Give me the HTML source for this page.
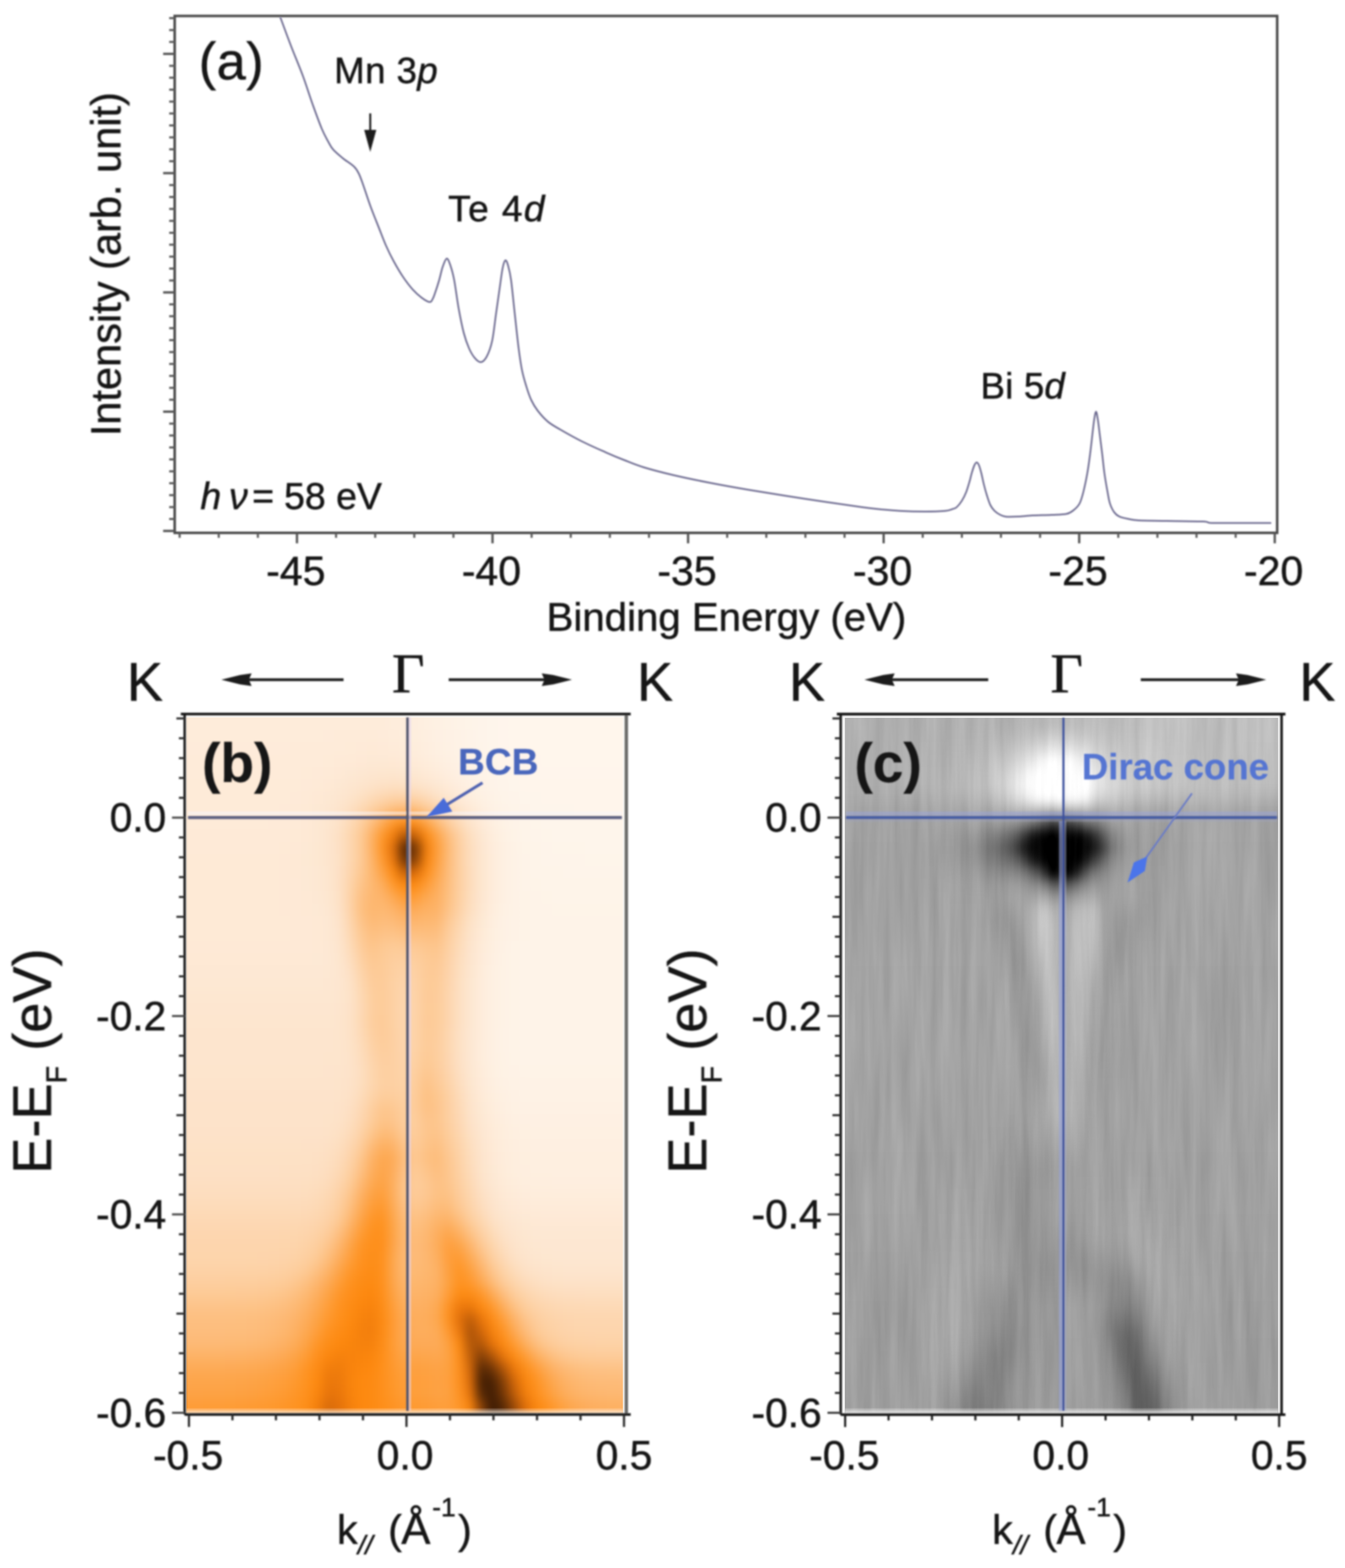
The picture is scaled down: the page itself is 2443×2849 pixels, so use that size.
<!DOCTYPE html>
<html lang="en"><head><meta charset="utf-8"><title>Figure</title>
<style>html,body{margin:0;padding:0;background:#fff;}body{width:2443px;height:2849px;overflow:hidden;}svg{display:block;}</style>
</head><body>
<svg width="2443" height="2849" viewBox="0 0 2443 2849">
<defs>
<filter id="soft" x="-5%" y="-5%" width="110%" height="110%"><feGaussianBlur stdDeviation="1.35"/></filter>
<filter id="softer" x="-5%" y="-5%" width="110%" height="110%"><feGaussianBlur stdDeviation="1.5"/></filter>
<filter id="b8" x="-50%" y="-50%" width="200%" height="200%"><feGaussianBlur stdDeviation="8"/></filter>
<filter id="b14" x="-50%" y="-50%" width="200%" height="200%"><feGaussianBlur stdDeviation="14"/></filter>
<filter id="b22" x="-50%" y="-50%" width="200%" height="200%"><feGaussianBlur stdDeviation="22"/></filter>
<filter id="b35" x="-50%" y="-50%" width="200%" height="200%"><feGaussianBlur stdDeviation="35"/></filter>
<filter id="b50" x="-50%" y="-50%" width="200%" height="200%"><feGaussianBlur stdDeviation="50"/></filter>
</defs>
<rect x="0" y="0" width="2443" height="2849" fill="#ffffff"/>
<g id="panel-a">
<g filter="url(#softer)">
<rect x="317.3" y="29.0" width="2002.5000000000002" height="939.2" fill="none" stroke="#4a4a4a" stroke-width="4.6"/>
<line x1="326.3" y1="968.2" x2="326.3" y2="977.2" stroke="#5a5a5a" stroke-width="3.8" />
<line x1="397.3" y1="968.2" x2="397.3" y2="977.2" stroke="#5a5a5a" stroke-width="3.8" />
<line x1="468.4" y1="968.2" x2="468.4" y2="977.2" stroke="#5a5a5a" stroke-width="3.8" />
<line x1="539.4" y1="968.2" x2="539.4" y2="987.2" stroke="#555555" stroke-width="4.2" />
<line x1="610.4" y1="968.2" x2="610.4" y2="977.2" stroke="#5a5a5a" stroke-width="3.8" />
<line x1="681.5" y1="968.2" x2="681.5" y2="977.2" stroke="#5a5a5a" stroke-width="3.8" />
<line x1="752.5" y1="968.2" x2="752.5" y2="977.2" stroke="#5a5a5a" stroke-width="3.8" />
<line x1="823.6" y1="968.2" x2="823.6" y2="977.2" stroke="#5a5a5a" stroke-width="3.8" />
<line x1="894.6" y1="968.2" x2="894.6" y2="987.2" stroke="#555555" stroke-width="4.2" />
<line x1="965.6" y1="968.2" x2="965.6" y2="977.2" stroke="#5a5a5a" stroke-width="3.8" />
<line x1="1036.7" y1="968.2" x2="1036.7" y2="977.2" stroke="#5a5a5a" stroke-width="3.8" />
<line x1="1107.7" y1="968.2" x2="1107.7" y2="977.2" stroke="#5a5a5a" stroke-width="3.8" />
<line x1="1178.8" y1="968.2" x2="1178.8" y2="977.2" stroke="#5a5a5a" stroke-width="3.8" />
<line x1="1249.8" y1="968.2" x2="1249.8" y2="987.2" stroke="#555555" stroke-width="4.2" />
<line x1="1320.8" y1="968.2" x2="1320.8" y2="977.2" stroke="#5a5a5a" stroke-width="3.8" />
<line x1="1391.9" y1="968.2" x2="1391.9" y2="977.2" stroke="#5a5a5a" stroke-width="3.8" />
<line x1="1462.9" y1="968.2" x2="1462.9" y2="977.2" stroke="#5a5a5a" stroke-width="3.8" />
<line x1="1534.0" y1="968.2" x2="1534.0" y2="977.2" stroke="#5a5a5a" stroke-width="3.8" />
<line x1="1605.0" y1="968.2" x2="1605.0" y2="987.2" stroke="#555555" stroke-width="4.2" />
<line x1="1676.0" y1="968.2" x2="1676.0" y2="977.2" stroke="#5a5a5a" stroke-width="3.8" />
<line x1="1747.1" y1="968.2" x2="1747.1" y2="977.2" stroke="#5a5a5a" stroke-width="3.8" />
<line x1="1818.1" y1="968.2" x2="1818.1" y2="977.2" stroke="#5a5a5a" stroke-width="3.8" />
<line x1="1889.2" y1="968.2" x2="1889.2" y2="977.2" stroke="#5a5a5a" stroke-width="3.8" />
<line x1="1960.2" y1="968.2" x2="1960.2" y2="987.2" stroke="#555555" stroke-width="4.2" />
<line x1="2031.2" y1="968.2" x2="2031.2" y2="977.2" stroke="#5a5a5a" stroke-width="3.8" />
<line x1="2102.3" y1="968.2" x2="2102.3" y2="977.2" stroke="#5a5a5a" stroke-width="3.8" />
<line x1="2173.3" y1="968.2" x2="2173.3" y2="977.2" stroke="#5a5a5a" stroke-width="3.8" />
<line x1="2244.4" y1="968.2" x2="2244.4" y2="977.2" stroke="#5a5a5a" stroke-width="3.8" />
<line x1="2315.4" y1="968.2" x2="2315.4" y2="987.2" stroke="#555555" stroke-width="4.2" />
<line x1="296.3" y1="964.7" x2="317.3" y2="964.7" stroke="#555555" stroke-width="4.2" />
<line x1="307.3" y1="943.0" x2="317.3" y2="943.0" stroke="#5a5a5a" stroke-width="3.8" />
<line x1="307.3" y1="921.4" x2="317.3" y2="921.4" stroke="#5a5a5a" stroke-width="3.8" />
<line x1="307.3" y1="899.7" x2="317.3" y2="899.7" stroke="#5a5a5a" stroke-width="3.8" />
<line x1="307.3" y1="878.0" x2="317.3" y2="878.0" stroke="#5a5a5a" stroke-width="3.8" />
<line x1="307.3" y1="856.4" x2="317.3" y2="856.4" stroke="#5a5a5a" stroke-width="3.8" />
<line x1="307.3" y1="834.7" x2="317.3" y2="834.7" stroke="#5a5a5a" stroke-width="3.8" />
<line x1="307.3" y1="813.0" x2="317.3" y2="813.0" stroke="#5a5a5a" stroke-width="3.8" />
<line x1="307.3" y1="791.3" x2="317.3" y2="791.3" stroke="#5a5a5a" stroke-width="3.8" />
<line x1="307.3" y1="769.7" x2="317.3" y2="769.7" stroke="#5a5a5a" stroke-width="3.8" />
<line x1="296.3" y1="748.0" x2="317.3" y2="748.0" stroke="#555555" stroke-width="4.2" />
<line x1="307.3" y1="726.3" x2="317.3" y2="726.3" stroke="#5a5a5a" stroke-width="3.8" />
<line x1="307.3" y1="704.7" x2="317.3" y2="704.7" stroke="#5a5a5a" stroke-width="3.8" />
<line x1="307.3" y1="683.0" x2="317.3" y2="683.0" stroke="#5a5a5a" stroke-width="3.8" />
<line x1="307.3" y1="661.3" x2="317.3" y2="661.3" stroke="#5a5a5a" stroke-width="3.8" />
<line x1="307.3" y1="639.7" x2="317.3" y2="639.7" stroke="#5a5a5a" stroke-width="3.8" />
<line x1="307.3" y1="618.0" x2="317.3" y2="618.0" stroke="#5a5a5a" stroke-width="3.8" />
<line x1="307.3" y1="596.3" x2="317.3" y2="596.3" stroke="#5a5a5a" stroke-width="3.8" />
<line x1="307.3" y1="574.6" x2="317.3" y2="574.6" stroke="#5a5a5a" stroke-width="3.8" />
<line x1="307.3" y1="553.0" x2="317.3" y2="553.0" stroke="#5a5a5a" stroke-width="3.8" />
<line x1="296.3" y1="531.3" x2="317.3" y2="531.3" stroke="#555555" stroke-width="4.2" />
<line x1="307.3" y1="509.6" x2="317.3" y2="509.6" stroke="#5a5a5a" stroke-width="3.8" />
<line x1="307.3" y1="488.0" x2="317.3" y2="488.0" stroke="#5a5a5a" stroke-width="3.8" />
<line x1="307.3" y1="466.3" x2="317.3" y2="466.3" stroke="#5a5a5a" stroke-width="3.8" />
<line x1="307.3" y1="444.6" x2="317.3" y2="444.6" stroke="#5a5a5a" stroke-width="3.8" />
<line x1="307.3" y1="423.0" x2="317.3" y2="423.0" stroke="#5a5a5a" stroke-width="3.8" />
<line x1="307.3" y1="401.3" x2="317.3" y2="401.3" stroke="#5a5a5a" stroke-width="3.8" />
<line x1="307.3" y1="379.6" x2="317.3" y2="379.6" stroke="#5a5a5a" stroke-width="3.8" />
<line x1="307.3" y1="357.9" x2="317.3" y2="357.9" stroke="#5a5a5a" stroke-width="3.8" />
<line x1="307.3" y1="336.3" x2="317.3" y2="336.3" stroke="#5a5a5a" stroke-width="3.8" />
<line x1="296.3" y1="314.6" x2="317.3" y2="314.6" stroke="#555555" stroke-width="4.2" />
<line x1="307.3" y1="292.9" x2="317.3" y2="292.9" stroke="#5a5a5a" stroke-width="3.8" />
<line x1="307.3" y1="271.3" x2="317.3" y2="271.3" stroke="#5a5a5a" stroke-width="3.8" />
<line x1="307.3" y1="249.6" x2="317.3" y2="249.6" stroke="#5a5a5a" stroke-width="3.8" />
<line x1="307.3" y1="227.9" x2="317.3" y2="227.9" stroke="#5a5a5a" stroke-width="3.8" />
<line x1="307.3" y1="206.2" x2="317.3" y2="206.2" stroke="#5a5a5a" stroke-width="3.8" />
<line x1="307.3" y1="184.6" x2="317.3" y2="184.6" stroke="#5a5a5a" stroke-width="3.8" />
<line x1="307.3" y1="162.9" x2="317.3" y2="162.9" stroke="#5a5a5a" stroke-width="3.8" />
<line x1="307.3" y1="141.2" x2="317.3" y2="141.2" stroke="#5a5a5a" stroke-width="3.8" />
<line x1="307.3" y1="119.6" x2="317.3" y2="119.6" stroke="#5a5a5a" stroke-width="3.8" />
<line x1="296.3" y1="97.9" x2="317.3" y2="97.9" stroke="#555555" stroke-width="4.2" />
<line x1="307.3" y1="76.2" x2="317.3" y2="76.2" stroke="#5a5a5a" stroke-width="3.8" />
<line x1="307.3" y1="54.6" x2="317.3" y2="54.6" stroke="#5a5a5a" stroke-width="3.8" />
<line x1="307.3" y1="32.9" x2="317.3" y2="32.9" stroke="#5a5a5a" stroke-width="3.8" />
</g>
<path d="M509.0,31.0 C512.2,39.5 521.2,64.2 528.0,82.0 C534.8,99.8 543.3,119.5 550.0,137.5 C556.7,155.5 562.2,173.9 568.0,190.0 C573.8,206.1 579.8,222.8 584.5,234.0 C589.2,245.2 592.6,250.7 596.0,257.0 C599.4,263.3 600.7,266.6 605.0,271.6 C609.3,276.6 615.7,281.8 622.0,287.0 C628.3,292.2 638.0,297.8 643.0,302.6 C648.0,307.4 649.2,310.3 652.0,316.0 C654.8,321.7 656.5,327.2 660.0,337.0 C663.5,346.8 668.4,362.4 673.0,375.0 C677.6,387.6 683.0,400.8 687.7,412.6 C692.4,424.4 696.5,435.7 701.0,446.0 C705.5,456.3 709.8,465.0 715.0,474.5 C720.2,484.0 726.2,494.4 732.0,503.0 C737.8,511.6 743.9,519.7 749.6,526.0 C755.3,532.3 760.9,537.2 766.0,541.0 C771.1,544.8 777.2,548.5 780.5,548.8 C783.8,549.1 784.2,546.1 786.0,543.0 C787.8,539.9 789.0,535.7 791.0,530.0 C793.0,524.3 795.5,516.5 797.7,509.0 C799.9,501.5 801.7,491.6 804.0,485.0 C806.3,478.4 809.1,470.2 811.4,469.7 C813.7,469.2 815.7,475.4 818.0,482.0 C820.3,488.6 822.5,496.0 825.0,509.0 C827.5,522.0 830.1,544.0 833.0,560.0 C835.9,576.0 839.2,592.8 842.4,605.0 C845.6,617.2 848.7,625.5 852.0,633.0 C855.3,640.5 858.5,645.8 862.0,650.0 C865.5,654.2 869.6,658.3 873.3,658.0 C877.0,657.7 880.5,654.5 884.0,648.0 C887.5,641.5 891.2,632.0 894.0,619.0 C896.8,606.0 898.7,586.1 901.0,570.0 C903.3,553.9 905.7,536.4 907.7,522.6 C909.7,508.8 911.3,495.3 913.0,487.0 C914.7,478.7 916.3,473.7 918.0,473.0 C919.7,472.3 921.3,477.0 923.0,483.0 C924.7,489.0 926.3,494.5 928.3,509.0 C930.3,523.5 932.7,549.4 935.0,570.0 C937.3,590.6 939.8,615.6 942.0,632.6 C944.2,649.6 945.7,660.5 948.0,672.0 C950.3,683.5 953.0,692.2 955.8,701.4 C958.6,710.6 961.5,719.6 965.0,727.0 C968.5,734.4 971.5,739.5 976.5,746.0 C981.5,752.5 988.1,760.2 995.0,766.0 C1001.9,771.8 1007.4,774.5 1017.7,780.5 C1028.0,786.5 1043.3,795.1 1057.0,802.0 C1070.7,808.9 1087.2,816.1 1100.0,821.8 C1112.8,827.5 1122.5,831.5 1134.0,836.0 C1145.5,840.5 1154.3,844.5 1169.0,849.0 C1183.7,853.5 1201.7,858.2 1222.0,863.0 C1242.3,867.8 1267.8,873.0 1290.8,877.5 C1313.8,882.0 1337.1,886.1 1360.0,890.0 C1382.9,893.9 1404.7,897.3 1428.0,901.0 C1451.3,904.7 1477.0,908.6 1500.0,912.0 C1523.0,915.4 1549.1,919.2 1565.8,921.5 C1582.5,923.8 1588.5,924.4 1600.0,925.5 C1611.5,926.6 1621.3,927.6 1634.6,928.3 C1647.9,929.0 1666.3,929.5 1680.0,929.5 C1693.7,929.5 1708.7,929.0 1717.0,928.3 C1725.3,927.5 1726.5,926.1 1730.0,925.0 C1733.5,923.9 1734.9,924.0 1737.7,921.5 C1740.5,919.0 1744.1,914.6 1747.0,910.0 C1749.9,905.4 1752.7,899.8 1755.0,894.0 C1757.3,888.2 1759.3,880.7 1761.0,875.0 C1762.7,869.3 1763.5,864.6 1765.0,859.6 C1766.5,854.6 1768.5,848.2 1770.0,845.0 C1771.5,841.8 1772.7,840.3 1774.0,840.3 C1775.3,840.3 1776.6,841.8 1778.0,845.0 C1779.4,848.2 1780.9,853.8 1782.4,859.6 C1783.9,865.4 1785.3,873.1 1787.0,880.0 C1788.7,886.9 1790.8,894.5 1792.8,900.8 C1794.8,907.1 1796.7,913.4 1799.0,918.0 C1801.3,922.6 1803.7,925.5 1806.5,928.3 C1809.3,931.1 1812.6,933.3 1816.0,935.0 C1819.4,936.7 1821.3,938.1 1827.0,938.7 C1832.7,939.3 1842.0,938.9 1850.0,938.5 C1858.0,938.1 1865.3,937.1 1875.3,936.6 C1885.3,936.1 1899.7,936.0 1910.0,935.5 C1920.3,935.0 1930.3,935.2 1937.0,933.8 C1943.7,932.4 1946.0,930.2 1950.0,927.0 C1954.0,923.8 1958.0,920.3 1961.0,914.6 C1964.0,908.9 1965.7,902.2 1968.0,893.0 C1970.3,883.8 1973.0,870.9 1975.0,859.6 C1977.0,848.3 1978.5,836.5 1980.0,825.0 C1981.5,813.5 1982.8,801.3 1984.0,790.8 C1985.2,780.3 1986.4,769.1 1987.5,762.0 C1988.6,754.9 1989.7,748.0 1990.8,748.0 C1991.9,748.0 1992.8,754.9 1994.0,762.0 C1995.2,769.1 1996.4,780.3 1997.7,790.8 C1999.0,801.3 2000.6,813.5 2002.0,825.0 C2003.4,836.5 2004.5,848.8 2006.0,859.6 C2007.5,870.4 2009.3,880.8 2011.0,890.0 C2012.7,899.2 2013.8,907.8 2016.0,914.6 C2018.2,921.4 2021.1,927.0 2024.0,931.0 C2026.9,935.0 2029.1,936.7 2033.4,938.7 C2037.7,940.7 2044.3,941.9 2050.0,943.0 C2055.7,944.1 2056.1,944.9 2067.8,945.5 C2079.5,946.1 2100.5,946.1 2120.0,946.5 C2139.5,946.9 2172.2,947.1 2184.7,947.6 C2197.2,948.1 2191.6,949.0 2195.0,949.5 C2198.4,950.0 2194.2,950.2 2205.0,950.3 C2215.8,950.4 2242.7,950.3 2260.0,950.3 C2277.3,950.3 2300.8,950.3 2309.0,950.3" fill="none" stroke="#6a688e" stroke-width="3.0" stroke-linejoin="round" filter="url(#soft)"/>
<g filter="url(#soft)" stroke-width="0.9" stroke-linejoin="round">
<text x="361.0" y="143.5" font-family='"Liberation Sans", Arial, Helvetica, sans-serif' font-size="95" font-weight="normal" text-anchor="start" fill="#161616" stroke="#161616" textLength="118" lengthAdjust="spacing" >(a)</text>
<text x="607.0" y="150.5" font-family='"Liberation Sans", Arial, Helvetica, sans-serif' font-size="66.5" font-weight="normal" text-anchor="start" fill="#161616" stroke="#161616" textLength="188" lengthAdjust="spacing" >Mn 3<tspan font-style="italic">p</tspan></text>
<text x="814.0" y="401.5" font-family='"Liberation Sans", Arial, Helvetica, sans-serif' font-size="67.5" font-weight="normal" text-anchor="start" fill="#161616" stroke="#161616" textLength="175" lengthAdjust="spacing" >Te 4<tspan font-style="italic">d</tspan></text>
<text x="1781.0" y="723.5" font-family='"Liberation Sans", Arial, Helvetica, sans-serif' font-size="66.5" font-weight="normal" text-anchor="start" fill="#161616" stroke="#161616" textLength="153" lengthAdjust="spacing" >Bi 5<tspan font-style="italic">d</tspan></text>
<text y="925" font-family='"Liberation Sans", Arial, Helvetica, sans-serif' font-size="68" fill="#161616" stroke="#161616"><tspan x="364" font-style="italic">h</tspan><tspan x="416" font-style="italic">ν </tspan><tspan x="458">= </tspan><tspan x="516">58 eV</tspan></text>
<line x1="672.5" y1="206.0" x2="672.5" y2="245.0" stroke="#1c1c1c" stroke-width="3.6" />
<path d="M661.5,236 L683.5,236 L672.5,276 Z" fill="#1c1c1c" stroke="none"/>
<text x="537.4" y="1062.5" font-family='"Liberation Sans", Arial, Helvetica, sans-serif' font-size="74.5" font-weight="normal" text-anchor="middle" fill="#161616" stroke="#161616" >-45</text>
<text x="892.6" y="1062.5" font-family='"Liberation Sans", Arial, Helvetica, sans-serif' font-size="74.5" font-weight="normal" text-anchor="middle" fill="#161616" stroke="#161616" >-40</text>
<text x="1247.8" y="1062.5" font-family='"Liberation Sans", Arial, Helvetica, sans-serif' font-size="74.5" font-weight="normal" text-anchor="middle" fill="#161616" stroke="#161616" >-35</text>
<text x="1603.0" y="1062.5" font-family='"Liberation Sans", Arial, Helvetica, sans-serif' font-size="74.5" font-weight="normal" text-anchor="middle" fill="#161616" stroke="#161616" >-30</text>
<text x="1958.2" y="1062.5" font-family='"Liberation Sans", Arial, Helvetica, sans-serif' font-size="74.5" font-weight="normal" text-anchor="middle" fill="#161616" stroke="#161616" >-25</text>
<text x="2313.4" y="1062.5" font-family='"Liberation Sans", Arial, Helvetica, sans-serif' font-size="74.5" font-weight="normal" text-anchor="middle" fill="#161616" stroke="#161616" >-20</text>
<text x="1319.5" y="1146.0" font-family='"Liberation Sans", Arial, Helvetica, sans-serif' font-size="73" font-weight="normal" text-anchor="middle" fill="#161616" stroke="#161616" >Binding Energy (eV)</text>
<text transform="translate(218.5,480) rotate(-90)" font-family='"Liberation Sans", Arial, Helvetica, sans-serif' font-size="75.5" text-anchor="middle" fill="#161616" stroke="#161616">Intensity (arb. unit)</text>
</g>
</g>
<g id="panel-b">
<clipPath id="clipB"><rect x="338.5" y="1303.5" width="793.0" height="1264.0"/></clipPath>
<linearGradient id="fadeB" x1="0" y1="0" x2="0" y2="1"><stop offset="0" stop-color="#fff" stop-opacity="0"/><stop offset="1" stop-color="#fff6ea" stop-opacity="0.75"/></linearGradient>
<rect x="335.4" y="1297.3" width="802.1999999999999" height="1272.8999999999999" fill="#fffdfa"/>
<g clip-path="url(#clipB)">
<filter id="hbblur" filterUnits="userSpaceOnUse" x="308" y="1274" width="853" height="1324" color-interpolation-filters="sRGB"><feGaussianBlur stdDeviation="7 10" result="b"/></filter>
<defs><linearGradient id="hbg0" gradientUnits="userSpaceOnUse" x1="338.5" y1="0" x2="1131.5" y2="0"><stop offset="0" stop-color="#feecda"/><stop offset="0.45" stop-color="#feecda"/><stop offset="0.475" stop-color="#feeddc"/><stop offset="0.5" stop-color="#feeddd"/><stop offset="0.525" stop-color="#feeedf"/><stop offset="0.55" stop-color="#fef0e1"/><stop offset="0.575" stop-color="#fef1e3"/><stop offset="0.6" stop-color="#fef2e5"/><stop offset="0.625" stop-color="#fef3e7"/><stop offset="0.65" stop-color="#fef4e8"/><stop offset="0.675" stop-color="#fef4ea"/><stop offset="0.7" stop-color="#fef5eb"/><stop offset="0.725" stop-color="#fff5ec"/><stop offset="0.75" stop-color="#fff6ec"/><stop offset="1" stop-color="#fff6ec"/></linearGradient><linearGradient id="hbg1" gradientUnits="userSpaceOnUse" x1="338.5" y1="0" x2="1131.5" y2="0"><stop offset="0" stop-color="#feecda"/><stop offset="0.3" stop-color="#feecda"/><stop offset="0.325" stop-color="#feebda"/><stop offset="0.35" stop-color="#feebd9"/><stop offset="0.425" stop-color="#feebd9"/><stop offset="0.45" stop-color="#feebda"/><stop offset="0.475" stop-color="#feecdb"/><stop offset="0.5" stop-color="#feeddc"/><stop offset="0.525" stop-color="#feeede"/><stop offset="0.55" stop-color="#feefe0"/><stop offset="0.575" stop-color="#fef0e3"/><stop offset="0.6" stop-color="#fef1e5"/><stop offset="0.625" stop-color="#fef2e6"/><stop offset="0.65" stop-color="#fef3e8"/><stop offset="0.675" stop-color="#fef4ea"/><stop offset="0.7" stop-color="#fef5eb"/><stop offset="0.725" stop-color="#fff5ec"/><stop offset="0.75" stop-color="#fff6ec"/><stop offset="1" stop-color="#fff6ec"/></linearGradient><linearGradient id="hbg2" gradientUnits="userSpaceOnUse" x1="338.5" y1="0" x2="1131.5" y2="0"><stop offset="0" stop-color="#feebda"/><stop offset="0.225" stop-color="#feebda"/><stop offset="0.25" stop-color="#feebd9"/><stop offset="0.35" stop-color="#feebd9"/><stop offset="0.375" stop-color="#feebd8"/><stop offset="0.4" stop-color="#feead8"/><stop offset="0.425" stop-color="#feead7"/><stop offset="0.45" stop-color="#feead8"/><stop offset="0.475" stop-color="#feebd9"/><stop offset="0.5" stop-color="#feecda"/><stop offset="0.525" stop-color="#feeddc"/><stop offset="0.55" stop-color="#feeedf"/><stop offset="0.575" stop-color="#fef0e2"/><stop offset="0.6" stop-color="#fef1e4"/><stop offset="0.625" stop-color="#fef2e6"/><stop offset="0.65" stop-color="#fef3e8"/><stop offset="0.675" stop-color="#fef4e9"/><stop offset="0.7" stop-color="#fef5eb"/><stop offset="0.725" stop-color="#fff5ec"/><stop offset="0.75" stop-color="#fff6ec"/><stop offset="1" stop-color="#fff6ec"/></linearGradient><linearGradient id="hbg3" gradientUnits="userSpaceOnUse" x1="338.5" y1="0" x2="1131.5" y2="0"><stop offset="0" stop-color="#feebd9"/><stop offset="0.3" stop-color="#feebd9"/><stop offset="0.325" stop-color="#feebd8"/><stop offset="0.35" stop-color="#feead7"/><stop offset="0.375" stop-color="#feead7"/><stop offset="0.4" stop-color="#fee9d6"/><stop offset="0.425" stop-color="#fde9d5"/><stop offset="0.45" stop-color="#fde9d5"/><stop offset="0.475" stop-color="#fee9d5"/><stop offset="0.5" stop-color="#feead7"/><stop offset="0.525" stop-color="#feebd9"/><stop offset="0.55" stop-color="#feeddc"/><stop offset="0.575" stop-color="#feefdf"/><stop offset="0.6" stop-color="#fef0e2"/><stop offset="0.625" stop-color="#fef2e5"/><stop offset="0.65" stop-color="#fef3e7"/><stop offset="0.675" stop-color="#fef4e9"/><stop offset="0.7" stop-color="#fef5ea"/><stop offset="0.725" stop-color="#fff5eb"/><stop offset="0.75" stop-color="#fff5ec"/><stop offset="0.8" stop-color="#fff5ec"/><stop offset="0.825" stop-color="#fff6ec"/><stop offset="1" stop-color="#fff6ec"/></linearGradient><linearGradient id="hbg4" gradientUnits="userSpaceOnUse" x1="338.5" y1="0" x2="1131.5" y2="0"><stop offset="0" stop-color="#feebd9"/><stop offset="0.25" stop-color="#feebd9"/><stop offset="0.275" stop-color="#feebd8"/><stop offset="0.3" stop-color="#feead8"/><stop offset="0.325" stop-color="#feead7"/><stop offset="0.35" stop-color="#fee9d6"/><stop offset="0.375" stop-color="#fde8d4"/><stop offset="0.4" stop-color="#fde7d2"/><stop offset="0.425" stop-color="#fde6d0"/><stop offset="0.45" stop-color="#fde6cf"/><stop offset="0.475" stop-color="#fde6cf"/><stop offset="0.5" stop-color="#fde7d1"/><stop offset="0.525" stop-color="#fde8d3"/><stop offset="0.55" stop-color="#feead7"/><stop offset="0.575" stop-color="#feecdb"/><stop offset="0.6" stop-color="#feeedf"/><stop offset="0.625" stop-color="#fef0e3"/><stop offset="0.65" stop-color="#fef2e6"/><stop offset="0.675" stop-color="#fef3e8"/><stop offset="0.7" stop-color="#fef4e9"/><stop offset="0.725" stop-color="#fef5eb"/><stop offset="0.75" stop-color="#fff5eb"/><stop offset="0.775" stop-color="#fff5ec"/><stop offset="1" stop-color="#fff5ec"/></linearGradient><linearGradient id="hbg5" gradientUnits="userSpaceOnUse" x1="338.5" y1="0" x2="1131.5" y2="0"><stop offset="0" stop-color="#feebd8"/><stop offset="0.25" stop-color="#feebd8"/><stop offset="0.275" stop-color="#feead8"/><stop offset="0.3" stop-color="#feead7"/><stop offset="0.325" stop-color="#fee9d5"/><stop offset="0.35" stop-color="#fde8d3"/><stop offset="0.375" stop-color="#fde6d0"/><stop offset="0.4" stop-color="#fde5cd"/><stop offset="0.425" stop-color="#fde3c9"/><stop offset="0.45" stop-color="#fde1c6"/><stop offset="0.475" stop-color="#fde0c4"/><stop offset="0.5" stop-color="#fde1c5"/><stop offset="0.525" stop-color="#fde3c9"/><stop offset="0.55" stop-color="#fde5ce"/><stop offset="0.575" stop-color="#fde8d3"/><stop offset="0.6" stop-color="#feebd9"/><stop offset="0.625" stop-color="#feeedf"/><stop offset="0.65" stop-color="#fef1e3"/><stop offset="0.675" stop-color="#fef2e6"/><stop offset="0.7" stop-color="#fef3e8"/><stop offset="0.725" stop-color="#fef4ea"/><stop offset="0.75" stop-color="#fef5eb"/><stop offset="0.775" stop-color="#fff5eb"/><stop offset="1" stop-color="#fff5eb"/></linearGradient><linearGradient id="hbg6" gradientUnits="userSpaceOnUse" x1="338.5" y1="0" x2="1131.5" y2="0"><stop offset="0" stop-color="#feebd8"/><stop offset="0.225" stop-color="#feebd8"/><stop offset="0.25" stop-color="#feead8"/><stop offset="0.275" stop-color="#feead7"/><stop offset="0.3" stop-color="#fee9d5"/><stop offset="0.325" stop-color="#fde8d3"/><stop offset="0.35" stop-color="#fde6d0"/><stop offset="0.375" stop-color="#fde4cb"/><stop offset="0.4" stop-color="#fde0c3"/><stop offset="0.425" stop-color="#fddbb8"/><stop offset="0.45" stop-color="#fdd6af"/><stop offset="0.475" stop-color="#fdd3a9"/><stop offset="0.5" stop-color="#fdd2a8"/><stop offset="0.525" stop-color="#fdd5ad"/><stop offset="0.55" stop-color="#fddab8"/><stop offset="0.575" stop-color="#fde1c6"/><stop offset="0.6" stop-color="#fde6cf"/><stop offset="0.625" stop-color="#feead7"/><stop offset="0.65" stop-color="#feeede"/><stop offset="0.675" stop-color="#fef1e3"/><stop offset="0.7" stop-color="#fef2e6"/><stop offset="0.725" stop-color="#fef4e9"/><stop offset="0.75" stop-color="#fef4ea"/><stop offset="0.775" stop-color="#fef5eb"/><stop offset="0.8" stop-color="#fef5eb"/><stop offset="0.825" stop-color="#fff5eb"/><stop offset="1" stop-color="#fff5eb"/></linearGradient><linearGradient id="hbg7" gradientUnits="userSpaceOnUse" x1="338.5" y1="0" x2="1131.5" y2="0"><stop offset="0" stop-color="#feebd8"/><stop offset="0.2" stop-color="#feebd8"/><stop offset="0.225" stop-color="#feead8"/><stop offset="0.25" stop-color="#feead7"/><stop offset="0.275" stop-color="#feead6"/><stop offset="0.3" stop-color="#fde9d4"/><stop offset="0.325" stop-color="#fde7d1"/><stop offset="0.35" stop-color="#fde4cc"/><stop offset="0.375" stop-color="#fddfc2"/><stop offset="0.4" stop-color="#fdd8b2"/><stop offset="0.425" stop-color="#fdcfa0"/><stop offset="0.45" stop-color="#fdc58c"/><stop offset="0.475" stop-color="#fdbb77"/><stop offset="0.5" stop-color="#fdb66e"/><stop offset="0.525" stop-color="#fdbb77"/><stop offset="0.55" stop-color="#fdc790"/><stop offset="0.575" stop-color="#fdd2a6"/><stop offset="0.6" stop-color="#fddbba"/><stop offset="0.625" stop-color="#fde4cb"/><stop offset="0.65" stop-color="#fee9d5"/><stop offset="0.675" stop-color="#feeede"/><stop offset="0.7" stop-color="#fef1e4"/><stop offset="0.725" stop-color="#fef3e7"/><stop offset="0.75" stop-color="#fef4e9"/><stop offset="0.775" stop-color="#fef4ea"/><stop offset="0.8" stop-color="#fef5eb"/><stop offset="0.875" stop-color="#fef5eb"/><stop offset="0.9" stop-color="#fff5eb"/><stop offset="1" stop-color="#fff5eb"/></linearGradient><linearGradient id="hbg8" gradientUnits="userSpaceOnUse" x1="338.5" y1="0" x2="1131.5" y2="0"><stop offset="0" stop-color="#feebd8"/><stop offset="0.175" stop-color="#feebd8"/><stop offset="0.2" stop-color="#feead8"/><stop offset="0.225" stop-color="#feead8"/><stop offset="0.25" stop-color="#feead7"/><stop offset="0.275" stop-color="#fee9d6"/><stop offset="0.3" stop-color="#fde8d3"/><stop offset="0.325" stop-color="#fde6cf"/><stop offset="0.35" stop-color="#fde2c8"/><stop offset="0.375" stop-color="#fddab7"/><stop offset="0.4" stop-color="#fdcfa0"/><stop offset="0.425" stop-color="#fdbe7f"/><stop offset="0.45" stop-color="#fdaa56"/><stop offset="0.475" stop-color="#fe972a"/><stop offset="0.5" stop-color="#fe8e19"/><stop offset="0.525" stop-color="#fe9220"/><stop offset="0.55" stop-color="#fda448"/><stop offset="0.575" stop-color="#fdba76"/><stop offset="0.6" stop-color="#fdcd9d"/><stop offset="0.625" stop-color="#fddab7"/><stop offset="0.65" stop-color="#fde4cc"/><stop offset="0.675" stop-color="#feead7"/><stop offset="0.7" stop-color="#feefe0"/><stop offset="0.725" stop-color="#fef2e5"/><stop offset="0.75" stop-color="#fef3e8"/><stop offset="0.775" stop-color="#fef4e9"/><stop offset="0.8" stop-color="#fef5ea"/><stop offset="0.825" stop-color="#fef5eb"/><stop offset="1" stop-color="#fef5eb"/></linearGradient><linearGradient id="hbg9" gradientUnits="userSpaceOnUse" x1="338.5" y1="0" x2="1131.5" y2="0"><stop offset="0" stop-color="#feead7"/><stop offset="0.225" stop-color="#feead7"/><stop offset="0.25" stop-color="#feead6"/><stop offset="0.275" stop-color="#fee9d5"/><stop offset="0.3" stop-color="#fde8d3"/><stop offset="0.325" stop-color="#fde5ce"/><stop offset="0.35" stop-color="#fde0c4"/><stop offset="0.375" stop-color="#fdd7b0"/><stop offset="0.4" stop-color="#fdca96"/><stop offset="0.425" stop-color="#fdb266"/><stop offset="0.45" stop-color="#fe982c"/><stop offset="0.475" stop-color="#f27e0c"/><stop offset="0.5" stop-color="#b45809"/><stop offset="0.525" stop-color="#ce6609"/><stop offset="0.55" stop-color="#fd8c14"/><stop offset="0.575" stop-color="#fda54a"/><stop offset="0.6" stop-color="#fdbe7f"/><stop offset="0.625" stop-color="#fdd1a5"/><stop offset="0.65" stop-color="#fddfc1"/><stop offset="0.675" stop-color="#fde7d2"/><stop offset="0.7" stop-color="#feeddc"/><stop offset="0.725" stop-color="#fef1e3"/><stop offset="0.75" stop-color="#fef3e7"/><stop offset="0.775" stop-color="#fef4e9"/><stop offset="0.8" stop-color="#fef4ea"/><stop offset="0.825" stop-color="#fef5ea"/><stop offset="0.85" stop-color="#fef5eb"/><stop offset="1" stop-color="#fef5eb"/></linearGradient><linearGradient id="hbg10" gradientUnits="userSpaceOnUse" x1="338.5" y1="0" x2="1131.5" y2="0"><stop offset="0" stop-color="#feead7"/><stop offset="0.2" stop-color="#feead7"/><stop offset="0.225" stop-color="#feead6"/><stop offset="0.25" stop-color="#fee9d6"/><stop offset="0.275" stop-color="#fde9d5"/><stop offset="0.3" stop-color="#fde8d2"/><stop offset="0.325" stop-color="#fde5ce"/><stop offset="0.35" stop-color="#fde0c5"/><stop offset="0.375" stop-color="#fdd7b1"/><stop offset="0.4" stop-color="#fdca96"/><stop offset="0.425" stop-color="#fdb164"/><stop offset="0.45" stop-color="#fe9323"/><stop offset="0.475" stop-color="#dd6d0a"/><stop offset="0.5" stop-color="#4f2505"/><stop offset="0.525" stop-color="#753706"/><stop offset="0.55" stop-color="#f4800d"/><stop offset="0.575" stop-color="#fe9f3c"/><stop offset="0.6" stop-color="#fdba76"/><stop offset="0.625" stop-color="#fdcfa1"/><stop offset="0.65" stop-color="#fdddbd"/><stop offset="0.675" stop-color="#fde6d0"/><stop offset="0.7" stop-color="#feecdb"/><stop offset="0.725" stop-color="#fef0e2"/><stop offset="0.75" stop-color="#fef2e6"/><stop offset="0.775" stop-color="#fef4e8"/><stop offset="0.8" stop-color="#fef4e9"/><stop offset="0.825" stop-color="#fef4ea"/><stop offset="0.85" stop-color="#fef5ea"/><stop offset="0.9" stop-color="#fef5ea"/><stop offset="0.925" stop-color="#fef5eb"/><stop offset="1" stop-color="#fef5eb"/></linearGradient><linearGradient id="hbg11" gradientUnits="userSpaceOnUse" x1="338.5" y1="0" x2="1131.5" y2="0"><stop offset="0" stop-color="#feead6"/><stop offset="0.2" stop-color="#feead6"/><stop offset="0.225" stop-color="#fee9d6"/><stop offset="0.25" stop-color="#fee9d5"/><stop offset="0.275" stop-color="#fde9d4"/><stop offset="0.3" stop-color="#fde8d2"/><stop offset="0.325" stop-color="#fde5ce"/><stop offset="0.35" stop-color="#fde1c5"/><stop offset="0.375" stop-color="#fdd7b1"/><stop offset="0.4" stop-color="#fdca97"/><stop offset="0.425" stop-color="#fdb46b"/><stop offset="0.45" stop-color="#fe992f"/><stop offset="0.475" stop-color="#e9760b"/><stop offset="0.5" stop-color="#683106"/><stop offset="0.525" stop-color="#8c4308"/><stop offset="0.55" stop-color="#fa850e"/><stop offset="0.575" stop-color="#fda142"/><stop offset="0.6" stop-color="#fdbb79"/><stop offset="0.625" stop-color="#fdcfa1"/><stop offset="0.65" stop-color="#fdddbd"/><stop offset="0.675" stop-color="#fde6cf"/><stop offset="0.7" stop-color="#feecda"/><stop offset="0.725" stop-color="#fef0e2"/><stop offset="0.75" stop-color="#fef2e6"/><stop offset="0.775" stop-color="#fef3e8"/><stop offset="0.8" stop-color="#fef4e9"/><stop offset="0.825" stop-color="#fef4ea"/><stop offset="0.9" stop-color="#fef4ea"/><stop offset="0.925" stop-color="#fef5ea"/><stop offset="1" stop-color="#fef5ea"/></linearGradient><linearGradient id="hbg12" gradientUnits="userSpaceOnUse" x1="338.5" y1="0" x2="1131.5" y2="0"><stop offset="0" stop-color="#feead6"/><stop offset="0.2" stop-color="#feead6"/><stop offset="0.225" stop-color="#fee9d6"/><stop offset="0.25" stop-color="#fee9d5"/><stop offset="0.275" stop-color="#fde9d5"/><stop offset="0.3" stop-color="#fde8d3"/><stop offset="0.325" stop-color="#fde6cf"/><stop offset="0.35" stop-color="#fde0c5"/><stop offset="0.375" stop-color="#fdd5ae"/><stop offset="0.4" stop-color="#fdc892"/><stop offset="0.425" stop-color="#fdb76f"/><stop offset="0.45" stop-color="#fda244"/><stop offset="0.475" stop-color="#fd8910"/><stop offset="0.5" stop-color="#c36009"/><stop offset="0.525" stop-color="#dc6d0a"/><stop offset="0.55" stop-color="#fe8f1a"/><stop offset="0.575" stop-color="#fda64d"/><stop offset="0.6" stop-color="#fdbc7b"/><stop offset="0.625" stop-color="#fdcfa0"/><stop offset="0.65" stop-color="#fddcbc"/><stop offset="0.675" stop-color="#fde6cf"/><stop offset="0.7" stop-color="#feecda"/><stop offset="0.725" stop-color="#fef0e2"/><stop offset="0.75" stop-color="#fef2e6"/><stop offset="0.775" stop-color="#fef3e8"/><stop offset="0.8" stop-color="#fef4e9"/><stop offset="0.85" stop-color="#fef4e9"/><stop offset="0.875" stop-color="#fef4ea"/><stop offset="1" stop-color="#fef4ea"/></linearGradient><linearGradient id="hbg13" gradientUnits="userSpaceOnUse" x1="338.5" y1="0" x2="1131.5" y2="0"><stop offset="0" stop-color="#feead6"/><stop offset="0.2" stop-color="#feead6"/><stop offset="0.225" stop-color="#fee9d6"/><stop offset="0.25" stop-color="#fee9d6"/><stop offset="0.275" stop-color="#fde9d5"/><stop offset="0.3" stop-color="#fde8d3"/><stop offset="0.325" stop-color="#fde6cf"/><stop offset="0.35" stop-color="#fde0c5"/><stop offset="0.375" stop-color="#fdd4aa"/><stop offset="0.4" stop-color="#fdc48a"/><stop offset="0.425" stop-color="#fdb872"/><stop offset="0.45" stop-color="#fdad5c"/><stop offset="0.475" stop-color="#fe972b"/><stop offset="0.5" stop-color="#fd890f"/><stop offset="0.525" stop-color="#fd8c15"/><stop offset="0.55" stop-color="#fe9c36"/><stop offset="0.575" stop-color="#fdac5a"/><stop offset="0.6" stop-color="#fdbe7e"/><stop offset="0.625" stop-color="#fdcfa1"/><stop offset="0.65" stop-color="#fddcbb"/><stop offset="0.675" stop-color="#fde6cf"/><stop offset="0.7" stop-color="#feecda"/><stop offset="0.725" stop-color="#fef0e2"/><stop offset="0.75" stop-color="#fef2e6"/><stop offset="0.775" stop-color="#fef3e8"/><stop offset="0.8" stop-color="#fef4e8"/><stop offset="0.825" stop-color="#fef4e9"/><stop offset="1" stop-color="#fef4e9"/></linearGradient><linearGradient id="hbg14" gradientUnits="userSpaceOnUse" x1="338.5" y1="0" x2="1131.5" y2="0"><stop offset="0" stop-color="#feead6"/><stop offset="0.2" stop-color="#feead6"/><stop offset="0.225" stop-color="#fee9d6"/><stop offset="0.25" stop-color="#fee9d6"/><stop offset="0.275" stop-color="#fee9d5"/><stop offset="0.3" stop-color="#fde8d4"/><stop offset="0.325" stop-color="#fde7d0"/><stop offset="0.35" stop-color="#fde1c6"/><stop offset="0.375" stop-color="#fdd3a8"/><stop offset="0.4" stop-color="#fdc083"/><stop offset="0.425" stop-color="#fdb770"/><stop offset="0.45" stop-color="#fdb46b"/><stop offset="0.475" stop-color="#fda851"/><stop offset="0.5" stop-color="#fe9a31"/><stop offset="0.525" stop-color="#fe9d38"/><stop offset="0.55" stop-color="#fda953"/><stop offset="0.575" stop-color="#fdb062"/><stop offset="0.6" stop-color="#fdc081"/><stop offset="0.625" stop-color="#fdd0a2"/><stop offset="0.65" stop-color="#fdddbd"/><stop offset="0.675" stop-color="#fde6d0"/><stop offset="0.7" stop-color="#feecdb"/><stop offset="0.725" stop-color="#fef0e2"/><stop offset="0.75" stop-color="#fef2e6"/><stop offset="0.775" stop-color="#fef3e7"/><stop offset="0.8" stop-color="#fef3e8"/><stop offset="0.825" stop-color="#fef4e8"/><stop offset="0.85" stop-color="#fef4e9"/><stop offset="1" stop-color="#fef4e9"/></linearGradient><linearGradient id="hbg15" gradientUnits="userSpaceOnUse" x1="338.5" y1="0" x2="1131.5" y2="0"><stop offset="0" stop-color="#feead6"/><stop offset="0.2" stop-color="#feead6"/><stop offset="0.225" stop-color="#fee9d6"/><stop offset="0.25" stop-color="#fee9d6"/><stop offset="0.275" stop-color="#fee9d5"/><stop offset="0.3" stop-color="#fde9d5"/><stop offset="0.325" stop-color="#fde7d2"/><stop offset="0.35" stop-color="#fde2c8"/><stop offset="0.375" stop-color="#fdd3aa"/><stop offset="0.4" stop-color="#fdc081"/><stop offset="0.425" stop-color="#fdb76f"/><stop offset="0.45" stop-color="#fdb973"/><stop offset="0.475" stop-color="#fdb369"/><stop offset="0.5" stop-color="#fdaa56"/><stop offset="0.525" stop-color="#fdac5a"/><stop offset="0.55" stop-color="#fdb164"/><stop offset="0.575" stop-color="#fdb368"/><stop offset="0.6" stop-color="#fdc388"/><stop offset="0.625" stop-color="#fdd2a6"/><stop offset="0.65" stop-color="#fddec0"/><stop offset="0.675" stop-color="#fde7d1"/><stop offset="0.7" stop-color="#feeddc"/><stop offset="0.725" stop-color="#fef1e3"/><stop offset="0.75" stop-color="#fef2e6"/><stop offset="0.775" stop-color="#fef3e7"/><stop offset="0.8" stop-color="#fef3e8"/><stop offset="0.825" stop-color="#fef3e8"/><stop offset="0.85" stop-color="#fef4e8"/><stop offset="1" stop-color="#fef4e8"/></linearGradient><linearGradient id="hbg16" gradientUnits="userSpaceOnUse" x1="338.5" y1="0" x2="1131.5" y2="0"><stop offset="0" stop-color="#feead6"/><stop offset="0.225" stop-color="#feead6"/><stop offset="0.25" stop-color="#fee9d6"/><stop offset="0.275" stop-color="#fee9d6"/><stop offset="0.3" stop-color="#fee9d5"/><stop offset="0.325" stop-color="#fde8d3"/><stop offset="0.35" stop-color="#fde3cb"/><stop offset="0.375" stop-color="#fdd6af"/><stop offset="0.4" stop-color="#fdc48a"/><stop offset="0.425" stop-color="#fdba76"/><stop offset="0.45" stop-color="#fdbd7c"/><stop offset="0.475" stop-color="#fdbb79"/><stop offset="0.5" stop-color="#fdb56d"/><stop offset="0.525" stop-color="#fdb66f"/><stop offset="0.55" stop-color="#fdb871"/><stop offset="0.575" stop-color="#fdb974"/><stop offset="0.6" stop-color="#fdc995"/><stop offset="0.625" stop-color="#fdd6ae"/><stop offset="0.65" stop-color="#fde2c7"/><stop offset="0.675" stop-color="#fde9d4"/><stop offset="0.7" stop-color="#feeede"/><stop offset="0.725" stop-color="#fef1e4"/><stop offset="0.75" stop-color="#fef2e6"/><stop offset="0.775" stop-color="#fef3e7"/><stop offset="0.8" stop-color="#fef3e8"/><stop offset="1" stop-color="#fef3e8"/></linearGradient><linearGradient id="hbg17" gradientUnits="userSpaceOnUse" x1="338.5" y1="0" x2="1131.5" y2="0"><stop offset="0" stop-color="#feead6"/><stop offset="0.225" stop-color="#feead6"/><stop offset="0.25" stop-color="#fee9d6"/><stop offset="0.275" stop-color="#fee9d6"/><stop offset="0.3" stop-color="#fee9d5"/><stop offset="0.325" stop-color="#fde8d3"/><stop offset="0.35" stop-color="#fde4cc"/><stop offset="0.375" stop-color="#fdd8b4"/><stop offset="0.4" stop-color="#fdc993"/><stop offset="0.425" stop-color="#fdbf80"/><stop offset="0.45" stop-color="#fdc388"/><stop offset="0.475" stop-color="#fdc389"/><stop offset="0.5" stop-color="#fdc081"/><stop offset="0.525" stop-color="#fdc082"/><stop offset="0.55" stop-color="#fdbf80"/><stop offset="0.575" stop-color="#fdbf81"/><stop offset="0.6" stop-color="#fdcd9d"/><stop offset="0.625" stop-color="#fdd9b5"/><stop offset="0.65" stop-color="#fde3ca"/><stop offset="0.675" stop-color="#feead6"/><stop offset="0.7" stop-color="#feefdf"/><stop offset="0.725" stop-color="#fef1e4"/><stop offset="0.75" stop-color="#fef2e6"/><stop offset="0.775" stop-color="#fef3e7"/><stop offset="0.8" stop-color="#fef3e8"/><stop offset="1" stop-color="#fef3e8"/></linearGradient><linearGradient id="hbg18" gradientUnits="userSpaceOnUse" x1="338.5" y1="0" x2="1131.5" y2="0"><stop offset="0" stop-color="#fee9d6"/><stop offset="0.275" stop-color="#fee9d6"/><stop offset="0.3" stop-color="#fee9d5"/><stop offset="0.325" stop-color="#fde8d4"/><stop offset="0.35" stop-color="#fde5ce"/><stop offset="0.375" stop-color="#fddbb9"/><stop offset="0.4" stop-color="#fdcc9b"/><stop offset="0.425" stop-color="#fdc48a"/><stop offset="0.45" stop-color="#fdc993"/><stop offset="0.475" stop-color="#fdcb98"/><stop offset="0.5" stop-color="#fdca96"/><stop offset="0.525" stop-color="#fdca96"/><stop offset="0.55" stop-color="#fdc68e"/><stop offset="0.575" stop-color="#fdc58c"/><stop offset="0.6" stop-color="#fdd0a3"/><stop offset="0.625" stop-color="#fddbb9"/><stop offset="0.65" stop-color="#fde4cd"/><stop offset="0.675" stop-color="#feebd8"/><stop offset="0.7" stop-color="#feefe0"/><stop offset="0.725" stop-color="#fef1e5"/><stop offset="0.75" stop-color="#fef3e7"/><stop offset="0.775" stop-color="#fef3e8"/><stop offset="1" stop-color="#fef3e8"/></linearGradient><linearGradient id="hbg19" gradientUnits="userSpaceOnUse" x1="338.5" y1="0" x2="1131.5" y2="0"><stop offset="0" stop-color="#fee9d5"/><stop offset="0.275" stop-color="#fee9d5"/><stop offset="0.3" stop-color="#fde9d5"/><stop offset="0.325" stop-color="#fde8d4"/><stop offset="0.35" stop-color="#fde6cf"/><stop offset="0.375" stop-color="#fddebf"/><stop offset="0.4" stop-color="#fdd0a3"/><stop offset="0.425" stop-color="#fdc891"/><stop offset="0.45" stop-color="#fdcb97"/><stop offset="0.475" stop-color="#fdce9f"/><stop offset="0.5" stop-color="#fdcfa0"/><stop offset="0.525" stop-color="#fdce9f"/><stop offset="0.55" stop-color="#fdca95"/><stop offset="0.575" stop-color="#fdc893"/><stop offset="0.6" stop-color="#fdd2a7"/><stop offset="0.625" stop-color="#fdddbd"/><stop offset="0.65" stop-color="#fde5ce"/><stop offset="0.675" stop-color="#feebd9"/><stop offset="0.7" stop-color="#feefe1"/><stop offset="0.725" stop-color="#fef2e5"/><stop offset="0.75" stop-color="#fef3e7"/><stop offset="0.775" stop-color="#fef3e8"/><stop offset="1" stop-color="#fef3e8"/></linearGradient><linearGradient id="hbg20" gradientUnits="userSpaceOnUse" x1="338.5" y1="0" x2="1131.5" y2="0"><stop offset="0" stop-color="#fde8d4"/><stop offset="0.3" stop-color="#fde8d4"/><stop offset="0.325" stop-color="#fde8d3"/><stop offset="0.35" stop-color="#fde6d0"/><stop offset="0.375" stop-color="#fde0c5"/><stop offset="0.4" stop-color="#fdd4aa"/><stop offset="0.425" stop-color="#fdca97"/><stop offset="0.45" stop-color="#fdcb98"/><stop offset="0.475" stop-color="#fdd0a2"/><stop offset="0.5" stop-color="#fdd2a7"/><stop offset="0.525" stop-color="#fdd1a4"/><stop offset="0.55" stop-color="#fdca97"/><stop offset="0.575" stop-color="#fdca97"/><stop offset="0.6" stop-color="#fdd3aa"/><stop offset="0.625" stop-color="#fddebf"/><stop offset="0.65" stop-color="#fde6cf"/><stop offset="0.675" stop-color="#feecda"/><stop offset="0.7" stop-color="#fef0e2"/><stop offset="0.725" stop-color="#fef2e5"/><stop offset="0.75" stop-color="#fef3e7"/><stop offset="0.775" stop-color="#fef3e8"/><stop offset="1" stop-color="#fef3e8"/></linearGradient><linearGradient id="hbg21" gradientUnits="userSpaceOnUse" x1="338.5" y1="0" x2="1131.5" y2="0"><stop offset="0" stop-color="#fde8d3"/><stop offset="0.3" stop-color="#fde8d3"/><stop offset="0.325" stop-color="#fde7d2"/><stop offset="0.35" stop-color="#fde6d0"/><stop offset="0.375" stop-color="#fde2c8"/><stop offset="0.4" stop-color="#fdd7b0"/><stop offset="0.425" stop-color="#fdcc9b"/><stop offset="0.45" stop-color="#fdcb99"/><stop offset="0.475" stop-color="#fdd1a4"/><stop offset="0.5" stop-color="#fdd4ac"/><stop offset="0.525" stop-color="#fdd2a7"/><stop offset="0.55" stop-color="#fdcb97"/><stop offset="0.575" stop-color="#fdcc99"/><stop offset="0.6" stop-color="#fdd4ac"/><stop offset="0.625" stop-color="#fddfc1"/><stop offset="0.65" stop-color="#fde7d0"/><stop offset="0.675" stop-color="#feecdb"/><stop offset="0.7" stop-color="#fef0e2"/><stop offset="0.725" stop-color="#fef2e5"/><stop offset="0.75" stop-color="#fef3e7"/><stop offset="0.775" stop-color="#fef3e8"/><stop offset="1" stop-color="#fef3e8"/></linearGradient><linearGradient id="hbg22" gradientUnits="userSpaceOnUse" x1="338.5" y1="0" x2="1131.5" y2="0"><stop offset="0" stop-color="#fde7d1"/><stop offset="0.325" stop-color="#fde7d1"/><stop offset="0.35" stop-color="#fde6cf"/><stop offset="0.375" stop-color="#fde3c9"/><stop offset="0.4" stop-color="#fdd9b4"/><stop offset="0.425" stop-color="#fdce9e"/><stop offset="0.45" stop-color="#fdcc99"/><stop offset="0.475" stop-color="#fdd1a5"/><stop offset="0.5" stop-color="#fdd6ae"/><stop offset="0.525" stop-color="#fdd3a8"/><stop offset="0.55" stop-color="#fdca97"/><stop offset="0.575" stop-color="#fdcc9b"/><stop offset="0.6" stop-color="#fdd5ad"/><stop offset="0.625" stop-color="#fddfc2"/><stop offset="0.65" stop-color="#fde7d1"/><stop offset="0.675" stop-color="#feecdb"/><stop offset="0.7" stop-color="#fef0e2"/><stop offset="0.725" stop-color="#fef2e5"/><stop offset="0.75" stop-color="#fef3e7"/><stop offset="0.775" stop-color="#fef3e8"/><stop offset="1" stop-color="#fef3e8"/></linearGradient><linearGradient id="hbg23" gradientUnits="userSpaceOnUse" x1="338.5" y1="0" x2="1131.5" y2="0"><stop offset="0" stop-color="#fde6d0"/><stop offset="0.325" stop-color="#fde6d0"/><stop offset="0.35" stop-color="#fde5ce"/><stop offset="0.375" stop-color="#fde2c9"/><stop offset="0.4" stop-color="#fdd9b5"/><stop offset="0.425" stop-color="#fdce9f"/><stop offset="0.45" stop-color="#fdcc99"/><stop offset="0.475" stop-color="#fdd1a5"/><stop offset="0.5" stop-color="#fdd6af"/><stop offset="0.525" stop-color="#fdd3a9"/><stop offset="0.55" stop-color="#fdcb97"/><stop offset="0.575" stop-color="#fdcd9b"/><stop offset="0.6" stop-color="#fdd5ad"/><stop offset="0.625" stop-color="#fddfc2"/><stop offset="0.65" stop-color="#fde7d1"/><stop offset="0.675" stop-color="#feecdb"/><stop offset="0.7" stop-color="#fef0e2"/><stop offset="0.725" stop-color="#fef2e5"/><stop offset="0.75" stop-color="#fef3e7"/><stop offset="0.775" stop-color="#fef3e8"/><stop offset="1" stop-color="#fef3e8"/></linearGradient><linearGradient id="hbg24" gradientUnits="userSpaceOnUse" x1="338.5" y1="0" x2="1131.5" y2="0"><stop offset="0" stop-color="#fde6cf"/><stop offset="0.325" stop-color="#fde6cf"/><stop offset="0.35" stop-color="#fde5cd"/><stop offset="0.375" stop-color="#fde2c8"/><stop offset="0.4" stop-color="#fdd9b4"/><stop offset="0.425" stop-color="#fdce9e"/><stop offset="0.45" stop-color="#fdcb98"/><stop offset="0.475" stop-color="#fdd1a4"/><stop offset="0.5" stop-color="#fdd6af"/><stop offset="0.525" stop-color="#fdd3a8"/><stop offset="0.55" stop-color="#fdca97"/><stop offset="0.575" stop-color="#fdcd9b"/><stop offset="0.6" stop-color="#fdd5ad"/><stop offset="0.625" stop-color="#fddfc2"/><stop offset="0.65" stop-color="#fde7d1"/><stop offset="0.675" stop-color="#feecdb"/><stop offset="0.7" stop-color="#fef0e2"/><stop offset="0.725" stop-color="#fef2e5"/><stop offset="0.75" stop-color="#fef3e7"/><stop offset="0.775" stop-color="#fef3e8"/><stop offset="1" stop-color="#fef3e8"/></linearGradient><linearGradient id="hbg25" gradientUnits="userSpaceOnUse" x1="338.5" y1="0" x2="1131.5" y2="0"><stop offset="0" stop-color="#fde5ce"/><stop offset="0.325" stop-color="#fde5ce"/><stop offset="0.35" stop-color="#fde5cd"/><stop offset="0.375" stop-color="#fde2c8"/><stop offset="0.4" stop-color="#fddab7"/><stop offset="0.425" stop-color="#fdcfa1"/><stop offset="0.45" stop-color="#fdcb99"/><stop offset="0.475" stop-color="#fdd0a3"/><stop offset="0.5" stop-color="#fdd6ae"/><stop offset="0.525" stop-color="#fdd3a8"/><stop offset="0.55" stop-color="#fdcb97"/><stop offset="0.575" stop-color="#fdcd9d"/><stop offset="0.6" stop-color="#fdd6af"/><stop offset="0.625" stop-color="#fde0c4"/><stop offset="0.65" stop-color="#fde7d2"/><stop offset="0.675" stop-color="#feecdb"/><stop offset="0.7" stop-color="#fef0e2"/><stop offset="0.725" stop-color="#fef2e6"/><stop offset="0.75" stop-color="#fef3e7"/><stop offset="0.775" stop-color="#fef3e8"/><stop offset="1" stop-color="#fef3e8"/></linearGradient><linearGradient id="hbg26" gradientUnits="userSpaceOnUse" x1="338.5" y1="0" x2="1131.5" y2="0"><stop offset="0" stop-color="#fde5ce"/><stop offset="0.325" stop-color="#fde5ce"/><stop offset="0.35" stop-color="#fde5cd"/><stop offset="0.375" stop-color="#fde3c9"/><stop offset="0.4" stop-color="#fddcbb"/><stop offset="0.425" stop-color="#fdd2a6"/><stop offset="0.45" stop-color="#fdcd9b"/><stop offset="0.475" stop-color="#fdd0a3"/><stop offset="0.5" stop-color="#fdd5ae"/><stop offset="0.525" stop-color="#fdd2a7"/><stop offset="0.55" stop-color="#fdcb98"/><stop offset="0.575" stop-color="#fdce9f"/><stop offset="0.6" stop-color="#fdd7b0"/><stop offset="0.625" stop-color="#fde1c5"/><stop offset="0.65" stop-color="#fde7d2"/><stop offset="0.675" stop-color="#feeddc"/><stop offset="0.7" stop-color="#fef0e2"/><stop offset="0.725" stop-color="#fef2e6"/><stop offset="0.75" stop-color="#fef3e7"/><stop offset="0.775" stop-color="#fef3e8"/><stop offset="1" stop-color="#fef3e8"/></linearGradient><linearGradient id="hbg27" gradientUnits="userSpaceOnUse" x1="338.5" y1="0" x2="1131.5" y2="0"><stop offset="0" stop-color="#fde5ce"/><stop offset="0.3" stop-color="#fde5ce"/><stop offset="0.325" stop-color="#fde5cd"/><stop offset="0.35" stop-color="#fde5cd"/><stop offset="0.375" stop-color="#fde3ca"/><stop offset="0.4" stop-color="#fdddbe"/><stop offset="0.425" stop-color="#fdd4ab"/><stop offset="0.45" stop-color="#fdce9f"/><stop offset="0.475" stop-color="#fdd0a3"/><stop offset="0.5" stop-color="#fdd5ac"/><stop offset="0.525" stop-color="#fdd1a4"/><stop offset="0.55" stop-color="#fdca95"/><stop offset="0.575" stop-color="#fdce9e"/><stop offset="0.6" stop-color="#fdd6b0"/><stop offset="0.625" stop-color="#fde0c5"/><stop offset="0.65" stop-color="#fde7d2"/><stop offset="0.675" stop-color="#feeddc"/><stop offset="0.7" stop-color="#fef0e2"/><stop offset="0.725" stop-color="#fef2e5"/><stop offset="0.75" stop-color="#fef3e7"/><stop offset="0.775" stop-color="#fef3e8"/><stop offset="1" stop-color="#fef3e8"/></linearGradient><linearGradient id="hbg28" gradientUnits="userSpaceOnUse" x1="338.5" y1="0" x2="1131.5" y2="0"><stop offset="0" stop-color="#fde5cd"/><stop offset="0.3" stop-color="#fde5cd"/><stop offset="0.325" stop-color="#fde4cd"/><stop offset="0.35" stop-color="#fde4cc"/><stop offset="0.375" stop-color="#fde3ca"/><stop offset="0.4" stop-color="#fddec0"/><stop offset="0.425" stop-color="#fdd6ae"/><stop offset="0.45" stop-color="#fdcfa1"/><stop offset="0.475" stop-color="#fdd0a3"/><stop offset="0.5" stop-color="#fdd4aa"/><stop offset="0.525" stop-color="#fdcfa0"/><stop offset="0.55" stop-color="#fdc790"/><stop offset="0.575" stop-color="#fdcc9b"/><stop offset="0.6" stop-color="#fdd5ad"/><stop offset="0.625" stop-color="#fddfc2"/><stop offset="0.65" stop-color="#fde7d1"/><stop offset="0.675" stop-color="#feecda"/><stop offset="0.7" stop-color="#fef0e1"/><stop offset="0.725" stop-color="#fef2e5"/><stop offset="0.75" stop-color="#fef2e6"/><stop offset="0.775" stop-color="#fef3e7"/><stop offset="1" stop-color="#fef3e7"/></linearGradient><linearGradient id="hbg29" gradientUnits="userSpaceOnUse" x1="338.5" y1="0" x2="1131.5" y2="0"><stop offset="0" stop-color="#fde4cc"/><stop offset="0.325" stop-color="#fde4cc"/><stop offset="0.35" stop-color="#fde4cb"/><stop offset="0.375" stop-color="#fde2c9"/><stop offset="0.4" stop-color="#fddebf"/><stop offset="0.425" stop-color="#fdd6af"/><stop offset="0.45" stop-color="#fdd0a2"/><stop offset="0.475" stop-color="#fdd0a3"/><stop offset="0.5" stop-color="#fdd3a8"/><stop offset="0.525" stop-color="#fdcd9c"/><stop offset="0.55" stop-color="#fdc388"/><stop offset="0.575" stop-color="#fdca96"/><stop offset="0.6" stop-color="#fdd3a8"/><stop offset="0.625" stop-color="#fdddbe"/><stop offset="0.65" stop-color="#fde6cf"/><stop offset="0.675" stop-color="#feebd9"/><stop offset="0.7" stop-color="#feefe0"/><stop offset="0.725" stop-color="#fef1e4"/><stop offset="0.75" stop-color="#fef2e5"/><stop offset="0.775" stop-color="#fef2e6"/><stop offset="1" stop-color="#fef2e6"/></linearGradient><linearGradient id="hbg30" gradientUnits="userSpaceOnUse" x1="338.5" y1="0" x2="1131.5" y2="0"><stop offset="0" stop-color="#fde3cb"/><stop offset="0.325" stop-color="#fde3cb"/><stop offset="0.35" stop-color="#fde3ca"/><stop offset="0.375" stop-color="#fde1c7"/><stop offset="0.4" stop-color="#fddcbb"/><stop offset="0.425" stop-color="#fdd3a9"/><stop offset="0.45" stop-color="#fdcd9c"/><stop offset="0.475" stop-color="#fdce9e"/><stop offset="0.5" stop-color="#fdd1a4"/><stop offset="0.525" stop-color="#fdcc9a"/><stop offset="0.55" stop-color="#fdc183"/><stop offset="0.575" stop-color="#fdc78f"/><stop offset="0.6" stop-color="#fdd0a3"/><stop offset="0.625" stop-color="#fddbb9"/><stop offset="0.65" stop-color="#fde4cc"/><stop offset="0.675" stop-color="#feead7"/><stop offset="0.7" stop-color="#feeede"/><stop offset="0.725" stop-color="#fef0e2"/><stop offset="0.75" stop-color="#fef1e4"/><stop offset="0.775" stop-color="#fef2e5"/><stop offset="1" stop-color="#fef2e5"/></linearGradient><linearGradient id="hbg31" gradientUnits="userSpaceOnUse" x1="338.5" y1="0" x2="1131.5" y2="0"><stop offset="0" stop-color="#fde3ca"/><stop offset="0.325" stop-color="#fde3ca"/><stop offset="0.35" stop-color="#fde2c9"/><stop offset="0.375" stop-color="#fddfc3"/><stop offset="0.4" stop-color="#fdd8b4"/><stop offset="0.425" stop-color="#fdce9f"/><stop offset="0.45" stop-color="#fdc68d"/><stop offset="0.475" stop-color="#fdc892"/><stop offset="0.5" stop-color="#fdcfa0"/><stop offset="0.525" stop-color="#fdcc9a"/><stop offset="0.55" stop-color="#fdc184"/><stop offset="0.575" stop-color="#fdc58d"/><stop offset="0.6" stop-color="#fdcfa1"/><stop offset="0.625" stop-color="#fdd9b6"/><stop offset="0.65" stop-color="#fde3ca"/><stop offset="0.675" stop-color="#fde9d4"/><stop offset="0.7" stop-color="#feeddc"/><stop offset="0.725" stop-color="#feefe1"/><stop offset="0.75" stop-color="#fef1e3"/><stop offset="0.775" stop-color="#fef1e4"/><stop offset="1" stop-color="#fef1e4"/></linearGradient><linearGradient id="hbg32" gradientUnits="userSpaceOnUse" x1="338.5" y1="0" x2="1131.5" y2="0"><stop offset="0" stop-color="#fde3ca"/><stop offset="0.3" stop-color="#fde3ca"/><stop offset="0.325" stop-color="#fde3c9"/><stop offset="0.35" stop-color="#fde2c8"/><stop offset="0.375" stop-color="#fddec0"/><stop offset="0.4" stop-color="#fdd6b0"/><stop offset="0.425" stop-color="#fdcc9a"/><stop offset="0.45" stop-color="#fdc387"/><stop offset="0.475" stop-color="#fdc58d"/><stop offset="0.5" stop-color="#fdce9e"/><stop offset="0.525" stop-color="#fdce9e"/><stop offset="0.55" stop-color="#fdc48b"/><stop offset="0.575" stop-color="#fdc68e"/><stop offset="0.6" stop-color="#fdcfa0"/><stop offset="0.625" stop-color="#fdd8b4"/><stop offset="0.65" stop-color="#fde2c8"/><stop offset="0.675" stop-color="#fde8d3"/><stop offset="0.7" stop-color="#feecda"/><stop offset="0.725" stop-color="#feeedf"/><stop offset="0.75" stop-color="#fef0e2"/><stop offset="0.775" stop-color="#fef0e3"/><stop offset="1" stop-color="#fef0e3"/></linearGradient><linearGradient id="hbg33" gradientUnits="userSpaceOnUse" x1="338.5" y1="0" x2="1131.5" y2="0"><stop offset="0" stop-color="#fde2c9"/><stop offset="0.3" stop-color="#fde2c9"/><stop offset="0.325" stop-color="#fde2c8"/><stop offset="0.35" stop-color="#fde0c4"/><stop offset="0.375" stop-color="#fddbba"/><stop offset="0.4" stop-color="#fdd2a7"/><stop offset="0.425" stop-color="#fdc68d"/><stop offset="0.45" stop-color="#fdbb77"/><stop offset="0.475" stop-color="#fdbe7e"/><stop offset="0.5" stop-color="#fdcb99"/><stop offset="0.525" stop-color="#fdcd9c"/><stop offset="0.55" stop-color="#fdc58c"/><stop offset="0.575" stop-color="#fdc48a"/><stop offset="0.6" stop-color="#fdcd9c"/><stop offset="0.625" stop-color="#fdd6af"/><stop offset="0.65" stop-color="#fde0c4"/><stop offset="0.675" stop-color="#fde6d0"/><stop offset="0.7" stop-color="#feebd8"/><stop offset="0.725" stop-color="#feeedd"/><stop offset="0.75" stop-color="#feefe0"/><stop offset="0.775" stop-color="#fef0e1"/><stop offset="0.8" stop-color="#fef0e2"/><stop offset="1" stop-color="#fef0e2"/></linearGradient><linearGradient id="hbg34" gradientUnits="userSpaceOnUse" x1="338.5" y1="0" x2="1131.5" y2="0"><stop offset="0" stop-color="#fde2c7"/><stop offset="0.25" stop-color="#fde2c7"/><stop offset="0.275" stop-color="#fde1c7"/><stop offset="0.3" stop-color="#fde1c7"/><stop offset="0.325" stop-color="#fde0c5"/><stop offset="0.35" stop-color="#fddebf"/><stop offset="0.375" stop-color="#fdd7b2"/><stop offset="0.4" stop-color="#fdcd9c"/><stop offset="0.425" stop-color="#fdbb79"/><stop offset="0.45" stop-color="#fdb061"/><stop offset="0.475" stop-color="#fdb46a"/><stop offset="0.5" stop-color="#fdc58d"/><stop offset="0.525" stop-color="#fdcb98"/><stop offset="0.55" stop-color="#fdc388"/><stop offset="0.575" stop-color="#fdc082"/><stop offset="0.6" stop-color="#fdca97"/><stop offset="0.625" stop-color="#fdd4aa"/><stop offset="0.65" stop-color="#fddebf"/><stop offset="0.675" stop-color="#fde5ce"/><stop offset="0.7" stop-color="#feead6"/><stop offset="0.725" stop-color="#feeddc"/><stop offset="0.75" stop-color="#feeedf"/><stop offset="0.775" stop-color="#feefe0"/><stop offset="0.8" stop-color="#feefe1"/><stop offset="1" stop-color="#feefe1"/></linearGradient><linearGradient id="hbg35" gradientUnits="userSpaceOnUse" x1="338.5" y1="0" x2="1131.5" y2="0"><stop offset="0" stop-color="#fde1c5"/><stop offset="0.275" stop-color="#fde1c5"/><stop offset="0.3" stop-color="#fde0c4"/><stop offset="0.325" stop-color="#fddfc1"/><stop offset="0.35" stop-color="#fddbba"/><stop offset="0.375" stop-color="#fdd3aa"/><stop offset="0.4" stop-color="#fdc68e"/><stop offset="0.425" stop-color="#fdb267"/><stop offset="0.45" stop-color="#fda74f"/><stop offset="0.475" stop-color="#fdac5a"/><stop offset="0.5" stop-color="#fdc083"/><stop offset="0.525" stop-color="#fdc892"/><stop offset="0.55" stop-color="#fdc082"/><stop offset="0.575" stop-color="#fdbd7b"/><stop offset="0.6" stop-color="#fdc790"/><stop offset="0.625" stop-color="#fdd2a6"/><stop offset="0.65" stop-color="#fddcbc"/><stop offset="0.675" stop-color="#fde4cc"/><stop offset="0.7" stop-color="#fee9d5"/><stop offset="0.725" stop-color="#feecdb"/><stop offset="0.75" stop-color="#feeede"/><stop offset="0.775" stop-color="#feefdf"/><stop offset="0.8" stop-color="#feefe0"/><stop offset="1" stop-color="#feefe0"/></linearGradient><linearGradient id="hbg36" gradientUnits="userSpaceOnUse" x1="338.5" y1="0" x2="1131.5" y2="0"><stop offset="0" stop-color="#fde0c5"/><stop offset="0.2" stop-color="#fde0c5"/><stop offset="0.225" stop-color="#fde0c4"/><stop offset="0.275" stop-color="#fde0c4"/><stop offset="0.3" stop-color="#fddfc3"/><stop offset="0.325" stop-color="#fdddbf"/><stop offset="0.35" stop-color="#fdd9b5"/><stop offset="0.375" stop-color="#fdd0a3"/><stop offset="0.4" stop-color="#fdc083"/><stop offset="0.425" stop-color="#fdae5e"/><stop offset="0.45" stop-color="#fda54a"/><stop offset="0.475" stop-color="#fdad5d"/><stop offset="0.5" stop-color="#fdc389"/><stop offset="0.525" stop-color="#fdcb98"/><stop offset="0.55" stop-color="#fdc48a"/><stop offset="0.575" stop-color="#fdbe7e"/><stop offset="0.6" stop-color="#fdc68e"/><stop offset="0.625" stop-color="#fdd1a4"/><stop offset="0.65" stop-color="#fddbb9"/><stop offset="0.675" stop-color="#fde4cb"/><stop offset="0.7" stop-color="#fde9d4"/><stop offset="0.725" stop-color="#feecda"/><stop offset="0.75" stop-color="#feeede"/><stop offset="0.775" stop-color="#feeedf"/><stop offset="0.8" stop-color="#feefe0"/><stop offset="1" stop-color="#feefe0"/></linearGradient><linearGradient id="hbg37" gradientUnits="userSpaceOnUse" x1="338.5" y1="0" x2="1131.5" y2="0"><stop offset="0" stop-color="#fddfc2"/><stop offset="0.25" stop-color="#fddfc2"/><stop offset="0.275" stop-color="#fddfc1"/><stop offset="0.3" stop-color="#fddebf"/><stop offset="0.325" stop-color="#fddbba"/><stop offset="0.35" stop-color="#fdd5ae"/><stop offset="0.375" stop-color="#fdcc99"/><stop offset="0.4" stop-color="#fdb975"/><stop offset="0.425" stop-color="#fda952"/><stop offset="0.45" stop-color="#fda244"/><stop offset="0.475" stop-color="#fdb061"/><stop offset="0.5" stop-color="#fdc68e"/><stop offset="0.525" stop-color="#fdcc9b"/><stop offset="0.55" stop-color="#fdc892"/><stop offset="0.575" stop-color="#fdc083"/><stop offset="0.6" stop-color="#fdc58c"/><stop offset="0.625" stop-color="#fdcfa0"/><stop offset="0.65" stop-color="#fdd9b5"/><stop offset="0.675" stop-color="#fde2c8"/><stop offset="0.7" stop-color="#fde7d2"/><stop offset="0.725" stop-color="#feebd8"/><stop offset="0.75" stop-color="#feeddc"/><stop offset="0.775" stop-color="#feeede"/><stop offset="0.825" stop-color="#feeede"/><stop offset="0.85" stop-color="#feeedf"/><stop offset="1" stop-color="#feeedf"/></linearGradient><linearGradient id="hbg38" gradientUnits="userSpaceOnUse" x1="338.5" y1="0" x2="1131.5" y2="0"><stop offset="0" stop-color="#fdddbe"/><stop offset="0.25" stop-color="#fdddbe"/><stop offset="0.275" stop-color="#fdddbd"/><stop offset="0.3" stop-color="#fddbba"/><stop offset="0.325" stop-color="#fdd8b3"/><stop offset="0.35" stop-color="#fdd1a5"/><stop offset="0.375" stop-color="#fdc58c"/><stop offset="0.4" stop-color="#fdb165"/><stop offset="0.425" stop-color="#fda244"/><stop offset="0.45" stop-color="#fe9e3a"/><stop offset="0.475" stop-color="#fdaf60"/><stop offset="0.5" stop-color="#fdc68e"/><stop offset="0.525" stop-color="#fdcb99"/><stop offset="0.55" stop-color="#fdc791"/><stop offset="0.575" stop-color="#fdc183"/><stop offset="0.6" stop-color="#fdc285"/><stop offset="0.625" stop-color="#fdcc9b"/><stop offset="0.65" stop-color="#fdd6af"/><stop offset="0.675" stop-color="#fddfc2"/><stop offset="0.7" stop-color="#fde5ce"/><stop offset="0.725" stop-color="#fee9d5"/><stop offset="0.75" stop-color="#feebd9"/><stop offset="0.775" stop-color="#feecdb"/><stop offset="0.8" stop-color="#feeddc"/><stop offset="1" stop-color="#feeddc"/></linearGradient><linearGradient id="hbg39" gradientUnits="userSpaceOnUse" x1="338.5" y1="0" x2="1131.5" y2="0"><stop offset="0" stop-color="#fddbb9"/><stop offset="0.25" stop-color="#fddbb9"/><stop offset="0.275" stop-color="#fddab8"/><stop offset="0.3" stop-color="#fdd9b4"/><stop offset="0.325" stop-color="#fdd5ad"/><stop offset="0.35" stop-color="#fdce9e"/><stop offset="0.375" stop-color="#fdbf80"/><stop offset="0.4" stop-color="#fdab57"/><stop offset="0.425" stop-color="#fe9c36"/><stop offset="0.45" stop-color="#fe982d"/><stop offset="0.475" stop-color="#fdab57"/><stop offset="0.5" stop-color="#fdc185"/><stop offset="0.525" stop-color="#fdc790"/><stop offset="0.55" stop-color="#fdc287"/><stop offset="0.575" stop-color="#fdbc7a"/><stop offset="0.6" stop-color="#fdbc7a"/><stop offset="0.625" stop-color="#fdc892"/><stop offset="0.65" stop-color="#fdd3a8"/><stop offset="0.675" stop-color="#fddcbc"/><stop offset="0.7" stop-color="#fde3cb"/><stop offset="0.725" stop-color="#fde7d2"/><stop offset="0.75" stop-color="#fee9d6"/><stop offset="0.775" stop-color="#feead8"/><stop offset="0.8" stop-color="#feebd9"/><stop offset="1" stop-color="#feebd9"/></linearGradient><linearGradient id="hbg40" gradientUnits="userSpaceOnUse" x1="338.5" y1="0" x2="1131.5" y2="0"><stop offset="0" stop-color="#fdd8b4"/><stop offset="0.225" stop-color="#fdd8b4"/><stop offset="0.25" stop-color="#fdd8b3"/><stop offset="0.275" stop-color="#fdd7b2"/><stop offset="0.3" stop-color="#fdd5ae"/><stop offset="0.325" stop-color="#fdd1a5"/><stop offset="0.35" stop-color="#fdc994"/><stop offset="0.375" stop-color="#fdb770"/><stop offset="0.4" stop-color="#fda347"/><stop offset="0.425" stop-color="#fe9527"/><stop offset="0.45" stop-color="#fe9322"/><stop offset="0.475" stop-color="#fda74e"/><stop offset="0.5" stop-color="#fdbd7b"/><stop offset="0.525" stop-color="#fdc184"/><stop offset="0.55" stop-color="#fdbc7a"/><stop offset="0.575" stop-color="#fdb56b"/><stop offset="0.6" stop-color="#fdb266"/><stop offset="0.625" stop-color="#fdbe7e"/><stop offset="0.65" stop-color="#fdcd9c"/><stop offset="0.675" stop-color="#fdd7b1"/><stop offset="0.7" stop-color="#fde0c4"/><stop offset="0.725" stop-color="#fde5cd"/><stop offset="0.75" stop-color="#fde7d2"/><stop offset="0.775" stop-color="#fde9d4"/><stop offset="0.8" stop-color="#fee9d5"/><stop offset="0.825" stop-color="#fee9d6"/><stop offset="1" stop-color="#fee9d6"/></linearGradient><linearGradient id="hbg41" gradientUnits="userSpaceOnUse" x1="338.5" y1="0" x2="1131.5" y2="0"><stop offset="0" stop-color="#fdd6b0"/><stop offset="0.2" stop-color="#fdd6b0"/><stop offset="0.225" stop-color="#fdd6af"/><stop offset="0.25" stop-color="#fdd6ae"/><stop offset="0.275" stop-color="#fdd4ac"/><stop offset="0.3" stop-color="#fdd2a6"/><stop offset="0.325" stop-color="#fdcc9b"/><stop offset="0.35" stop-color="#fdbf81"/><stop offset="0.375" stop-color="#fdad5d"/><stop offset="0.4" stop-color="#fe9c35"/><stop offset="0.425" stop-color="#fe911f"/><stop offset="0.45" stop-color="#fe911e"/><stop offset="0.475" stop-color="#fda549"/><stop offset="0.5" stop-color="#fdba75"/><stop offset="0.525" stop-color="#fdbd7c"/><stop offset="0.55" stop-color="#fdb872"/><stop offset="0.575" stop-color="#fdae5f"/><stop offset="0.6" stop-color="#fda74e"/><stop offset="0.625" stop-color="#fdb164"/><stop offset="0.65" stop-color="#fdc285"/><stop offset="0.675" stop-color="#fdd0a3"/><stop offset="0.7" stop-color="#fddbb8"/><stop offset="0.725" stop-color="#fde2c8"/><stop offset="0.75" stop-color="#fde5ce"/><stop offset="0.775" stop-color="#fde7d1"/><stop offset="0.8" stop-color="#fde8d3"/><stop offset="1" stop-color="#fde8d3"/></linearGradient><linearGradient id="hbg42" gradientUnits="userSpaceOnUse" x1="338.5" y1="0" x2="1131.5" y2="0"><stop offset="0" stop-color="#fdd5ad"/><stop offset="0.2" stop-color="#fdd5ad"/><stop offset="0.225" stop-color="#fdd5ac"/><stop offset="0.25" stop-color="#fdd4ab"/><stop offset="0.275" stop-color="#fdd2a6"/><stop offset="0.3" stop-color="#fdce9e"/><stop offset="0.325" stop-color="#fdc58d"/><stop offset="0.35" stop-color="#fdb66f"/><stop offset="0.375" stop-color="#fda54a"/><stop offset="0.4" stop-color="#fe9527"/><stop offset="0.425" stop-color="#fe8f1b"/><stop offset="0.45" stop-color="#fe901d"/><stop offset="0.475" stop-color="#fda54b"/><stop offset="0.5" stop-color="#fdb974"/><stop offset="0.525" stop-color="#fdbb79"/><stop offset="0.55" stop-color="#fdb66f"/><stop offset="0.575" stop-color="#fdad5b"/><stop offset="0.6" stop-color="#fe9f3d"/><stop offset="0.625" stop-color="#fda449"/><stop offset="0.65" stop-color="#fdb56c"/><stop offset="0.675" stop-color="#fdc893"/><stop offset="0.7" stop-color="#fdd5ac"/><stop offset="0.725" stop-color="#fddec0"/><stop offset="0.75" stop-color="#fde3cb"/><stop offset="0.775" stop-color="#fde6cf"/><stop offset="0.8" stop-color="#fde7d1"/><stop offset="0.825" stop-color="#fde7d2"/><stop offset="1" stop-color="#fde7d2"/></linearGradient><linearGradient id="hbg43" gradientUnits="userSpaceOnUse" x1="338.5" y1="0" x2="1131.5" y2="0"><stop offset="0" stop-color="#fdd5ac"/><stop offset="0.15" stop-color="#fdd5ac"/><stop offset="0.175" stop-color="#fdd4ac"/><stop offset="0.2" stop-color="#fdd4ab"/><stop offset="0.225" stop-color="#fdd3aa"/><stop offset="0.25" stop-color="#fdd2a6"/><stop offset="0.275" stop-color="#fdcfa0"/><stop offset="0.3" stop-color="#fdca95"/><stop offset="0.325" stop-color="#fdbe7d"/><stop offset="0.35" stop-color="#fdae5f"/><stop offset="0.375" stop-color="#fe9f3c"/><stop offset="0.4" stop-color="#fe9221"/><stop offset="0.425" stop-color="#fd8e19"/><stop offset="0.45" stop-color="#fe911f"/><stop offset="0.475" stop-color="#fda850"/><stop offset="0.5" stop-color="#fdba76"/><stop offset="0.525" stop-color="#fdbb79"/><stop offset="0.55" stop-color="#fdb770"/><stop offset="0.575" stop-color="#fdaf60"/><stop offset="0.6" stop-color="#fe9e3b"/><stop offset="0.625" stop-color="#fe9b33"/><stop offset="0.65" stop-color="#fdaa55"/><stop offset="0.675" stop-color="#fdbd7d"/><stop offset="0.7" stop-color="#fdcfa0"/><stop offset="0.725" stop-color="#fdd9b6"/><stop offset="0.75" stop-color="#fde1c6"/><stop offset="0.775" stop-color="#fde4cc"/><stop offset="0.8" stop-color="#fde6cf"/><stop offset="0.825" stop-color="#fde7d0"/><stop offset="0.85" stop-color="#fde7d1"/><stop offset="1" stop-color="#fde7d1"/></linearGradient><linearGradient id="hbg44" gradientUnits="userSpaceOnUse" x1="338.5" y1="0" x2="1131.5" y2="0"><stop offset="0" stop-color="#fdd2a7"/><stop offset="0.125" stop-color="#fdd2a7"/><stop offset="0.15" stop-color="#fdd2a6"/><stop offset="0.175" stop-color="#fdd2a6"/><stop offset="0.2" stop-color="#fdd1a5"/><stop offset="0.225" stop-color="#fdd0a2"/><stop offset="0.25" stop-color="#fdce9e"/><stop offset="0.275" stop-color="#fdca95"/><stop offset="0.3" stop-color="#fdc083"/><stop offset="0.325" stop-color="#fdb46a"/><stop offset="0.35" stop-color="#fda54b"/><stop offset="0.375" stop-color="#fe982c"/><stop offset="0.4" stop-color="#fe8f1c"/><stop offset="0.425" stop-color="#fd8c16"/><stop offset="0.45" stop-color="#fe911f"/><stop offset="0.475" stop-color="#fda851"/><stop offset="0.5" stop-color="#fdb973"/><stop offset="0.525" stop-color="#fdba75"/><stop offset="0.55" stop-color="#fdb76f"/><stop offset="0.575" stop-color="#fdb165"/><stop offset="0.6" stop-color="#fda040"/><stop offset="0.625" stop-color="#fe9525"/><stop offset="0.65" stop-color="#fda03f"/><stop offset="0.675" stop-color="#fdb266"/><stop offset="0.7" stop-color="#fdc68e"/><stop offset="0.725" stop-color="#fdd3a8"/><stop offset="0.75" stop-color="#fddcba"/><stop offset="0.775" stop-color="#fde1c6"/><stop offset="0.8" stop-color="#fde3ca"/><stop offset="0.825" stop-color="#fde4cc"/><stop offset="0.85" stop-color="#fde5cd"/><stop offset="0.875" stop-color="#fde5ce"/><stop offset="1" stop-color="#fde5ce"/></linearGradient><linearGradient id="hbg45" gradientUnits="userSpaceOnUse" x1="338.5" y1="0" x2="1131.5" y2="0"><stop offset="0" stop-color="#fdce9f"/><stop offset="0.075" stop-color="#fdce9f"/><stop offset="0.1" stop-color="#fdce9e"/><stop offset="0.15" stop-color="#fdce9e"/><stop offset="0.175" stop-color="#fdcd9d"/><stop offset="0.2" stop-color="#fdcd9b"/><stop offset="0.225" stop-color="#fdcb98"/><stop offset="0.25" stop-color="#fdc790"/><stop offset="0.275" stop-color="#fdc082"/><stop offset="0.3" stop-color="#fdb66f"/><stop offset="0.325" stop-color="#fdaa56"/><stop offset="0.35" stop-color="#fe9d38"/><stop offset="0.375" stop-color="#fe9220"/><stop offset="0.4" stop-color="#fd8c16"/><stop offset="0.425" stop-color="#fd8a12"/><stop offset="0.45" stop-color="#fe911e"/><stop offset="0.475" stop-color="#fda64d"/><stop offset="0.5" stop-color="#fdb66d"/><stop offset="0.525" stop-color="#fdb76f"/><stop offset="0.55" stop-color="#fdb56b"/><stop offset="0.575" stop-color="#fdb164"/><stop offset="0.6" stop-color="#fda242"/><stop offset="0.625" stop-color="#fe9220"/><stop offset="0.65" stop-color="#fe972b"/><stop offset="0.675" stop-color="#fda74f"/><stop offset="0.7" stop-color="#fdba76"/><stop offset="0.725" stop-color="#fdcb99"/><stop offset="0.75" stop-color="#fdd5ac"/><stop offset="0.775" stop-color="#fddbba"/><stop offset="0.8" stop-color="#fddfc1"/><stop offset="0.825" stop-color="#fde1c6"/><stop offset="0.85" stop-color="#fde2c7"/><stop offset="0.875" stop-color="#fde2c8"/><stop offset="1" stop-color="#fde2c8"/></linearGradient><linearGradient id="hbg46" gradientUnits="userSpaceOnUse" x1="338.5" y1="0" x2="1131.5" y2="0"><stop offset="0" stop-color="#fdca95"/><stop offset="0.1" stop-color="#fdca95"/><stop offset="0.125" stop-color="#fdc995"/><stop offset="0.15" stop-color="#fdc994"/><stop offset="0.175" stop-color="#fdc892"/><stop offset="0.2" stop-color="#fdc78f"/><stop offset="0.225" stop-color="#fdc489"/><stop offset="0.25" stop-color="#fdbf80"/><stop offset="0.275" stop-color="#fdb871"/><stop offset="0.3" stop-color="#fdae5e"/><stop offset="0.325" stop-color="#fda244"/><stop offset="0.35" stop-color="#fe9629"/><stop offset="0.375" stop-color="#fe8e1a"/><stop offset="0.4" stop-color="#fd8a11"/><stop offset="0.425" stop-color="#fc870e"/><stop offset="0.45" stop-color="#fe8f1b"/><stop offset="0.475" stop-color="#fda345"/><stop offset="0.5" stop-color="#fdb265"/><stop offset="0.525" stop-color="#fdb369"/><stop offset="0.55" stop-color="#fdb265"/><stop offset="0.575" stop-color="#fdae5e"/><stop offset="0.6" stop-color="#fe9c37"/><stop offset="0.625" stop-color="#fd8b13"/><stop offset="0.65" stop-color="#fd8c15"/><stop offset="0.675" stop-color="#fe9527"/><stop offset="0.7" stop-color="#fda852"/><stop offset="0.725" stop-color="#fdbc7b"/><stop offset="0.75" stop-color="#fdcc9a"/><stop offset="0.775" stop-color="#fdd4aa"/><stop offset="0.8" stop-color="#fdd9b5"/><stop offset="0.825" stop-color="#fddbba"/><stop offset="0.85" stop-color="#fdddbd"/><stop offset="0.875" stop-color="#fdddbe"/><stop offset="0.9" stop-color="#fdddbf"/><stop offset="0.925" stop-color="#fddebf"/><stop offset="1" stop-color="#fddebf"/></linearGradient><linearGradient id="hbg47" gradientUnits="userSpaceOnUse" x1="338.5" y1="0" x2="1131.5" y2="0"><stop offset="0" stop-color="#fdc389"/><stop offset="0.075" stop-color="#fdc389"/><stop offset="0.1" stop-color="#fdc388"/><stop offset="0.125" stop-color="#fdc388"/><stop offset="0.15" stop-color="#fdc387"/><stop offset="0.175" stop-color="#fdc286"/><stop offset="0.2" stop-color="#fdc082"/><stop offset="0.225" stop-color="#fdbd7d"/><stop offset="0.25" stop-color="#fdb973"/><stop offset="0.275" stop-color="#fdb165"/><stop offset="0.3" stop-color="#fda851"/><stop offset="0.325" stop-color="#fe9d38"/><stop offset="0.35" stop-color="#fe9221"/><stop offset="0.375" stop-color="#fd8c15"/><stop offset="0.4" stop-color="#fb860e"/><stop offset="0.425" stop-color="#f8830d"/><stop offset="0.45" stop-color="#fd8d17"/><stop offset="0.475" stop-color="#fe9f3c"/><stop offset="0.5" stop-color="#fdae5d"/><stop offset="0.525" stop-color="#fdb062"/><stop offset="0.55" stop-color="#fdae5f"/><stop offset="0.575" stop-color="#fda953"/><stop offset="0.6" stop-color="#fe9323"/><stop offset="0.625" stop-color="#ed790c"/><stop offset="0.65" stop-color="#ea770b"/><stop offset="0.675" stop-color="#fd8910"/><stop offset="0.7" stop-color="#fe972a"/><stop offset="0.725" stop-color="#fdac5a"/><stop offset="0.75" stop-color="#fdc082"/><stop offset="0.775" stop-color="#fdcd9c"/><stop offset="0.8" stop-color="#fdd3a8"/><stop offset="0.825" stop-color="#fdd6af"/><stop offset="0.85" stop-color="#fdd8b3"/><stop offset="0.875" stop-color="#fdd9b5"/><stop offset="0.9" stop-color="#fdd9b5"/><stop offset="0.925" stop-color="#fdd9b6"/><stop offset="1" stop-color="#fdd9b6"/></linearGradient><linearGradient id="hbg48" gradientUnits="userSpaceOnUse" x1="338.5" y1="0" x2="1131.5" y2="0"><stop offset="0" stop-color="#fdbf80"/><stop offset="0.1" stop-color="#fdbf80"/><stop offset="0.125" stop-color="#fdbf7f"/><stop offset="0.15" stop-color="#fdbe7e"/><stop offset="0.175" stop-color="#fdbd7c"/><stop offset="0.2" stop-color="#fdbb79"/><stop offset="0.225" stop-color="#fdb873"/><stop offset="0.25" stop-color="#fdb369"/><stop offset="0.275" stop-color="#fdac5a"/><stop offset="0.3" stop-color="#fda345"/><stop offset="0.325" stop-color="#fe982d"/><stop offset="0.35" stop-color="#fe901c"/><stop offset="0.375" stop-color="#fd8a11"/><stop offset="0.4" stop-color="#f7830d"/><stop offset="0.425" stop-color="#f4800d"/><stop offset="0.45" stop-color="#fd8b14"/><stop offset="0.475" stop-color="#fe9c37"/><stop offset="0.5" stop-color="#fdab57"/><stop offset="0.525" stop-color="#fdae5d"/><stop offset="0.55" stop-color="#fdad5b"/><stop offset="0.575" stop-color="#fda850"/><stop offset="0.6" stop-color="#fe9220"/><stop offset="0.625" stop-color="#e2700a"/><stop offset="0.65" stop-color="#bc5c09"/><stop offset="0.675" stop-color="#e8750b"/><stop offset="0.7" stop-color="#fd8b14"/><stop offset="0.725" stop-color="#fe9d38"/><stop offset="0.75" stop-color="#fdb266"/><stop offset="0.775" stop-color="#fdc389"/><stop offset="0.8" stop-color="#fdcd9d"/><stop offset="0.825" stop-color="#fdd2a6"/><stop offset="0.85" stop-color="#fdd4ab"/><stop offset="0.875" stop-color="#fdd5ae"/><stop offset="0.9" stop-color="#fdd6af"/><stop offset="1" stop-color="#fdd6af"/></linearGradient><linearGradient id="hbg49" gradientUnits="userSpaceOnUse" x1="338.5" y1="0" x2="1131.5" y2="0"><stop offset="0" stop-color="#fdbd7d"/><stop offset="0.075" stop-color="#fdbd7d"/><stop offset="0.1" stop-color="#fdbd7c"/><stop offset="0.125" stop-color="#fdbd7c"/><stop offset="0.15" stop-color="#fdbc7b"/><stop offset="0.175" stop-color="#fdbb78"/><stop offset="0.2" stop-color="#fdb974"/><stop offset="0.225" stop-color="#fdb66d"/><stop offset="0.25" stop-color="#fdb062"/><stop offset="0.275" stop-color="#fda851"/><stop offset="0.3" stop-color="#fe9d39"/><stop offset="0.325" stop-color="#fe9221"/><stop offset="0.35" stop-color="#fd8c16"/><stop offset="0.375" stop-color="#fc870e"/><stop offset="0.4" stop-color="#f5810d"/><stop offset="0.425" stop-color="#f37f0d"/><stop offset="0.45" stop-color="#fd8c15"/><stop offset="0.475" stop-color="#fe9c37"/><stop offset="0.5" stop-color="#fdaa56"/><stop offset="0.525" stop-color="#fdad5c"/><stop offset="0.55" stop-color="#fdad5c"/><stop offset="0.575" stop-color="#fdab57"/><stop offset="0.6" stop-color="#fe9930"/><stop offset="0.625" stop-color="#ee7a0c"/><stop offset="0.65" stop-color="#aa5209"/><stop offset="0.675" stop-color="#d0660a"/><stop offset="0.7" stop-color="#f5810d"/><stop offset="0.725" stop-color="#fe9221"/><stop offset="0.75" stop-color="#fda750"/><stop offset="0.775" stop-color="#fdba77"/><stop offset="0.8" stop-color="#fdc893"/><stop offset="0.825" stop-color="#fdcfa0"/><stop offset="0.85" stop-color="#fdd2a7"/><stop offset="0.875" stop-color="#fdd4ab"/><stop offset="0.9" stop-color="#fdd5ac"/><stop offset="0.925" stop-color="#fdd5ad"/><stop offset="1" stop-color="#fdd5ad"/></linearGradient><linearGradient id="hbg50" gradientUnits="userSpaceOnUse" x1="338.5" y1="0" x2="1131.5" y2="0"><stop offset="0" stop-color="#fdb975"/><stop offset="0.075" stop-color="#fdb975"/><stop offset="0.1" stop-color="#fdb974"/><stop offset="0.125" stop-color="#fdb973"/><stop offset="0.15" stop-color="#fdb872"/><stop offset="0.175" stop-color="#fdb76f"/><stop offset="0.2" stop-color="#fdb46a"/><stop offset="0.225" stop-color="#fdb063"/><stop offset="0.25" stop-color="#fdab57"/><stop offset="0.275" stop-color="#fda244"/><stop offset="0.3" stop-color="#fe9527"/><stop offset="0.325" stop-color="#fd8d17"/><stop offset="0.35" stop-color="#fd880e"/><stop offset="0.375" stop-color="#f9850d"/><stop offset="0.4" stop-color="#f6820d"/><stop offset="0.425" stop-color="#f6820d"/><stop offset="0.45" stop-color="#fd8d18"/><stop offset="0.475" stop-color="#fe9d37"/><stop offset="0.5" stop-color="#fda852"/><stop offset="0.525" stop-color="#fdaa56"/><stop offset="0.55" stop-color="#fdaa57"/><stop offset="0.575" stop-color="#fdab58"/><stop offset="0.6" stop-color="#fda141"/><stop offset="0.625" stop-color="#fd8910"/><stop offset="0.65" stop-color="#b25709"/><stop offset="0.675" stop-color="#b05609"/><stop offset="0.7" stop-color="#e4720a"/><stop offset="0.725" stop-color="#fd8911"/><stop offset="0.75" stop-color="#fe992f"/><stop offset="0.775" stop-color="#fdad5b"/><stop offset="0.8" stop-color="#fdbd7c"/><stop offset="0.825" stop-color="#fdc892"/><stop offset="0.85" stop-color="#fdcd9d"/><stop offset="0.875" stop-color="#fdd0a2"/><stop offset="0.9" stop-color="#fdd1a4"/><stop offset="0.925" stop-color="#fdd1a6"/><stop offset="0.95" stop-color="#fdd2a6"/><stop offset="1" stop-color="#fdd2a6"/></linearGradient><linearGradient id="hbg51" gradientUnits="userSpaceOnUse" x1="338.5" y1="0" x2="1131.5" y2="0"><stop offset="0" stop-color="#fdb265"/><stop offset="0.075" stop-color="#fdb265"/><stop offset="0.1" stop-color="#fdb165"/><stop offset="0.125" stop-color="#fdb164"/><stop offset="0.15" stop-color="#fdb062"/><stop offset="0.175" stop-color="#fdae5f"/><stop offset="0.2" stop-color="#fdac5a"/><stop offset="0.225" stop-color="#fda852"/><stop offset="0.25" stop-color="#fda346"/><stop offset="0.275" stop-color="#fe9b33"/><stop offset="0.3" stop-color="#fe8f1c"/><stop offset="0.325" stop-color="#fb860e"/><stop offset="0.35" stop-color="#f5810d"/><stop offset="0.375" stop-color="#f8830d"/><stop offset="0.4" stop-color="#f9840d"/><stop offset="0.425" stop-color="#fb860e"/><stop offset="0.45" stop-color="#fe8f1a"/><stop offset="0.475" stop-color="#fe9b34"/><stop offset="0.5" stop-color="#fda448"/><stop offset="0.525" stop-color="#fda54b"/><stop offset="0.55" stop-color="#fda64c"/><stop offset="0.575" stop-color="#fda750"/><stop offset="0.6" stop-color="#fda244"/><stop offset="0.625" stop-color="#fe8e19"/><stop offset="0.65" stop-color="#c15f09"/><stop offset="0.675" stop-color="#7f3d07"/><stop offset="0.7" stop-color="#ab5309"/><stop offset="0.725" stop-color="#e6740b"/><stop offset="0.75" stop-color="#fd8b13"/><stop offset="0.775" stop-color="#fe9a32"/><stop offset="0.8" stop-color="#fdac59"/><stop offset="0.825" stop-color="#fdb974"/><stop offset="0.85" stop-color="#fdc286"/><stop offset="0.875" stop-color="#fdc791"/><stop offset="0.9" stop-color="#fdca96"/><stop offset="0.925" stop-color="#fdcb98"/><stop offset="0.95" stop-color="#fdcb99"/><stop offset="1" stop-color="#fdcb99"/></linearGradient><linearGradient id="hbg52" gradientUnits="userSpaceOnUse" x1="338.5" y1="0" x2="1131.5" y2="0"><stop offset="0" stop-color="#fdaa55"/><stop offset="0.075" stop-color="#fdaa55"/><stop offset="0.1" stop-color="#fda954"/><stop offset="0.125" stop-color="#fda953"/><stop offset="0.15" stop-color="#fda851"/><stop offset="0.175" stop-color="#fda74e"/><stop offset="0.2" stop-color="#fda449"/><stop offset="0.225" stop-color="#fda142"/><stop offset="0.25" stop-color="#fe9d37"/><stop offset="0.275" stop-color="#fe9424"/><stop offset="0.3" stop-color="#fd8b14"/><stop offset="0.325" stop-color="#f17d0c"/><stop offset="0.35" stop-color="#ef7c0c"/><stop offset="0.375" stop-color="#f8830d"/><stop offset="0.4" stop-color="#fc870e"/><stop offset="0.425" stop-color="#fd8910"/><stop offset="0.45" stop-color="#fe901c"/><stop offset="0.475" stop-color="#fe992f"/><stop offset="0.5" stop-color="#fea03e"/><stop offset="0.525" stop-color="#fda040"/><stop offset="0.55" stop-color="#fda141"/><stop offset="0.575" stop-color="#fda346"/><stop offset="0.6" stop-color="#fda140"/><stop offset="0.625" stop-color="#fe901d"/><stop offset="0.65" stop-color="#d1670a"/><stop offset="0.675" stop-color="#552805"/><stop offset="0.7" stop-color="#6c3306"/><stop offset="0.725" stop-color="#ad5409"/><stop offset="0.75" stop-color="#ea770b"/><stop offset="0.775" stop-color="#fd8d16"/><stop offset="0.8" stop-color="#fe9b34"/><stop offset="0.825" stop-color="#fdaa55"/><stop offset="0.85" stop-color="#fdb46b"/><stop offset="0.875" stop-color="#fdbb78"/><stop offset="0.9" stop-color="#fdbf7f"/><stop offset="0.925" stop-color="#fdc183"/><stop offset="0.95" stop-color="#fdc185"/><stop offset="0.975" stop-color="#fdc285"/><stop offset="1" stop-color="#fdc286"/></linearGradient><linearGradient id="hbg53" gradientUnits="userSpaceOnUse" x1="338.5" y1="0" x2="1131.5" y2="0"><stop offset="0" stop-color="#fda54b"/><stop offset="0.025" stop-color="#fda54a"/><stop offset="0.075" stop-color="#fda54a"/><stop offset="0.1" stop-color="#fda549"/><stop offset="0.125" stop-color="#fda448"/><stop offset="0.15" stop-color="#fda346"/><stop offset="0.175" stop-color="#fda243"/><stop offset="0.2" stop-color="#fea03e"/><stop offset="0.225" stop-color="#fe9d38"/><stop offset="0.25" stop-color="#fe992e"/><stop offset="0.275" stop-color="#fe9220"/><stop offset="0.3" stop-color="#fd890f"/><stop offset="0.325" stop-color="#eb780b"/><stop offset="0.35" stop-color="#ec790c"/><stop offset="0.375" stop-color="#f8840d"/><stop offset="0.4" stop-color="#fd890f"/><stop offset="0.425" stop-color="#fd8a13"/><stop offset="0.45" stop-color="#fe901d"/><stop offset="0.475" stop-color="#fe982c"/><stop offset="0.5" stop-color="#fe9e39"/><stop offset="0.525" stop-color="#fe9f3c"/><stop offset="0.55" stop-color="#fea03e"/><stop offset="0.575" stop-color="#fda243"/><stop offset="0.6" stop-color="#fea03f"/><stop offset="0.625" stop-color="#fe911f"/><stop offset="0.65" stop-color="#da6c0a"/><stop offset="0.675" stop-color="#472004"/><stop offset="0.7" stop-color="#462004"/><stop offset="0.725" stop-color="#833f07"/><stop offset="0.75" stop-color="#cf660a"/><stop offset="0.775" stop-color="#f8840d"/><stop offset="0.8" stop-color="#fe9220"/><stop offset="0.825" stop-color="#fda040"/><stop offset="0.85" stop-color="#fdac59"/><stop offset="0.875" stop-color="#fdb369"/><stop offset="0.9" stop-color="#fdb871"/><stop offset="0.925" stop-color="#fdba76"/><stop offset="0.95" stop-color="#fdbb78"/><stop offset="0.975" stop-color="#fdbb78"/><stop offset="1" stop-color="#fdbb79"/></linearGradient><linearGradient id="hbg54" gradientUnits="userSpaceOnUse" x1="338.5" y1="0" x2="1131.5" y2="0"><stop offset="0" stop-color="#fda245"/><stop offset="0.025" stop-color="#fda245"/><stop offset="0.05" stop-color="#fda244"/><stop offset="0.075" stop-color="#fda244"/><stop offset="0.1" stop-color="#fda243"/><stop offset="0.125" stop-color="#fda142"/><stop offset="0.15" stop-color="#fda040"/><stop offset="0.175" stop-color="#fe9f3c"/><stop offset="0.2" stop-color="#fe9d38"/><stop offset="0.225" stop-color="#fe9a32"/><stop offset="0.25" stop-color="#fe9628"/><stop offset="0.275" stop-color="#fe901d"/><stop offset="0.3" stop-color="#fa860e"/><stop offset="0.325" stop-color="#e7740b"/><stop offset="0.35" stop-color="#e9760b"/><stop offset="0.375" stop-color="#f7830d"/><stop offset="0.4" stop-color="#fd890f"/><stop offset="0.425" stop-color="#fd8b13"/><stop offset="0.45" stop-color="#fe901c"/><stop offset="0.475" stop-color="#fe972a"/><stop offset="0.5" stop-color="#fe9d37"/><stop offset="0.525" stop-color="#fe9f3c"/><stop offset="0.55" stop-color="#fda03f"/><stop offset="0.575" stop-color="#fda244"/><stop offset="0.6" stop-color="#fda141"/><stop offset="0.625" stop-color="#fe9323"/><stop offset="0.65" stop-color="#e7750b"/><stop offset="0.675" stop-color="#572905"/><stop offset="0.7" stop-color="#411d04"/><stop offset="0.725" stop-color="#733706"/><stop offset="0.75" stop-color="#bd5c09"/><stop offset="0.775" stop-color="#f07d0c"/><stop offset="0.8" stop-color="#fe8e1a"/><stop offset="0.825" stop-color="#fe9b34"/><stop offset="0.85" stop-color="#fda74e"/><stop offset="0.875" stop-color="#fdaf60"/><stop offset="0.9" stop-color="#fdb469"/><stop offset="0.925" stop-color="#fdb66e"/><stop offset="0.95" stop-color="#fdb770"/><stop offset="0.975" stop-color="#fdb872"/><stop offset="1" stop-color="#fdb872"/></linearGradient><linearGradient id="hbg55" gradientUnits="userSpaceOnUse" x1="338.5" y1="0" x2="1131.5" y2="0"><stop offset="0" stop-color="#fe9c37"/><stop offset="0.025" stop-color="#fe9c37"/><stop offset="0.05" stop-color="#fe9c36"/><stop offset="0.075" stop-color="#fe9c36"/><stop offset="0.1" stop-color="#fe9c35"/><stop offset="0.125" stop-color="#fe9b34"/><stop offset="0.15" stop-color="#fe9a32"/><stop offset="0.175" stop-color="#fe9930"/><stop offset="0.2" stop-color="#fe982c"/><stop offset="0.225" stop-color="#fe9527"/><stop offset="0.25" stop-color="#fe9321"/><stop offset="0.275" stop-color="#fd8e18"/><stop offset="0.3" stop-color="#f37f0c"/><stop offset="0.325" stop-color="#d86b0a"/><stop offset="0.35" stop-color="#e3710a"/><stop offset="0.375" stop-color="#f4800d"/><stop offset="0.4" stop-color="#fd880f"/><stop offset="0.425" stop-color="#fd8a12"/><stop offset="0.45" stop-color="#fe8f1a"/><stop offset="0.475" stop-color="#fe9323"/><stop offset="0.5" stop-color="#fe982d"/><stop offset="0.525" stop-color="#fe9a31"/><stop offset="0.55" stop-color="#fe9b34"/><stop offset="0.575" stop-color="#fe9e3a"/><stop offset="0.6" stop-color="#fe9e3b"/><stop offset="0.625" stop-color="#fe972a"/><stop offset="0.65" stop-color="#f8840d"/><stop offset="0.675" stop-color="#8c4308"/><stop offset="0.7" stop-color="#3b1a03"/><stop offset="0.725" stop-color="#552805"/><stop offset="0.75" stop-color="#984908"/><stop offset="0.775" stop-color="#dd6d0a"/><stop offset="0.8" stop-color="#fa860e"/><stop offset="0.825" stop-color="#fe911f"/><stop offset="0.85" stop-color="#fe9c36"/><stop offset="0.875" stop-color="#fda54a"/><stop offset="0.9" stop-color="#fdaa56"/><stop offset="0.925" stop-color="#fdad5d"/><stop offset="0.95" stop-color="#fdaf60"/><stop offset="0.975" stop-color="#fdb061"/><stop offset="1" stop-color="#fdb062"/></linearGradient></defs>
<g filter="url(#hbblur)"><rect x="298.5" y="1242.9" width="873.0" height="83.8" fill="url(#hbg0)"/><rect x="298.5" y="1325.5" width="873.0" height="23.8" fill="url(#hbg1)"/><rect x="298.5" y="1348.0" width="873.0" height="23.8" fill="url(#hbg2)"/><rect x="298.5" y="1370.6" width="873.0" height="23.8" fill="url(#hbg3)"/><rect x="298.5" y="1393.2" width="873.0" height="23.8" fill="url(#hbg4)"/><rect x="298.5" y="1415.8" width="873.0" height="23.8" fill="url(#hbg5)"/><rect x="298.5" y="1438.3" width="873.0" height="23.8" fill="url(#hbg6)"/><rect x="298.5" y="1460.9" width="873.0" height="23.8" fill="url(#hbg7)"/><rect x="298.5" y="1483.5" width="873.0" height="23.8" fill="url(#hbg8)"/><rect x="298.5" y="1506.0" width="873.0" height="23.8" fill="url(#hbg9)"/><rect x="298.5" y="1528.6" width="873.0" height="23.8" fill="url(#hbg10)"/><rect x="298.5" y="1551.2" width="873.0" height="23.8" fill="url(#hbg11)"/><rect x="298.5" y="1573.8" width="873.0" height="23.8" fill="url(#hbg12)"/><rect x="298.5" y="1596.3" width="873.0" height="23.8" fill="url(#hbg13)"/><rect x="298.5" y="1618.9" width="873.0" height="23.8" fill="url(#hbg14)"/><rect x="298.5" y="1641.5" width="873.0" height="23.8" fill="url(#hbg15)"/><rect x="298.5" y="1664.0" width="873.0" height="23.8" fill="url(#hbg16)"/><rect x="298.5" y="1686.6" width="873.0" height="23.8" fill="url(#hbg17)"/><rect x="298.5" y="1709.2" width="873.0" height="23.8" fill="url(#hbg18)"/><rect x="298.5" y="1731.8" width="873.0" height="23.8" fill="url(#hbg19)"/><rect x="298.5" y="1754.3" width="873.0" height="23.8" fill="url(#hbg20)"/><rect x="298.5" y="1776.9" width="873.0" height="23.8" fill="url(#hbg21)"/><rect x="298.5" y="1799.5" width="873.0" height="23.8" fill="url(#hbg22)"/><rect x="298.5" y="1822.0" width="873.0" height="23.8" fill="url(#hbg23)"/><rect x="298.5" y="1844.6" width="873.0" height="23.8" fill="url(#hbg24)"/><rect x="298.5" y="1867.2" width="873.0" height="23.8" fill="url(#hbg25)"/><rect x="298.5" y="1889.8" width="873.0" height="23.8" fill="url(#hbg26)"/><rect x="298.5" y="1912.3" width="873.0" height="23.8" fill="url(#hbg27)"/><rect x="298.5" y="1934.9" width="873.0" height="23.8" fill="url(#hbg28)"/><rect x="298.5" y="1957.5" width="873.0" height="23.8" fill="url(#hbg29)"/><rect x="298.5" y="1980.0" width="873.0" height="23.8" fill="url(#hbg30)"/><rect x="298.5" y="2002.6" width="873.0" height="23.8" fill="url(#hbg31)"/><rect x="298.5" y="2025.2" width="873.0" height="23.8" fill="url(#hbg32)"/><rect x="298.5" y="2047.8" width="873.0" height="23.8" fill="url(#hbg33)"/><rect x="298.5" y="2070.3" width="873.0" height="23.8" fill="url(#hbg34)"/><rect x="298.5" y="2092.9" width="873.0" height="23.8" fill="url(#hbg35)"/><rect x="298.5" y="2115.5" width="873.0" height="23.8" fill="url(#hbg36)"/><rect x="298.5" y="2138.0" width="873.0" height="23.8" fill="url(#hbg37)"/><rect x="298.5" y="2160.6" width="873.0" height="23.8" fill="url(#hbg38)"/><rect x="298.5" y="2183.2" width="873.0" height="23.8" fill="url(#hbg39)"/><rect x="298.5" y="2205.8" width="873.0" height="23.8" fill="url(#hbg40)"/><rect x="298.5" y="2228.3" width="873.0" height="23.8" fill="url(#hbg41)"/><rect x="298.5" y="2250.9" width="873.0" height="23.8" fill="url(#hbg42)"/><rect x="298.5" y="2273.5" width="873.0" height="23.8" fill="url(#hbg43)"/><rect x="298.5" y="2296.0" width="873.0" height="23.8" fill="url(#hbg44)"/><rect x="298.5" y="2318.6" width="873.0" height="23.8" fill="url(#hbg45)"/><rect x="298.5" y="2341.2" width="873.0" height="23.8" fill="url(#hbg46)"/><rect x="298.5" y="2363.8" width="873.0" height="23.8" fill="url(#hbg47)"/><rect x="298.5" y="2386.3" width="873.0" height="23.8" fill="url(#hbg48)"/><rect x="298.5" y="2408.9" width="873.0" height="23.8" fill="url(#hbg49)"/><rect x="298.5" y="2431.5" width="873.0" height="23.8" fill="url(#hbg50)"/><rect x="298.5" y="2454.0" width="873.0" height="23.8" fill="url(#hbg51)"/><rect x="298.5" y="2476.6" width="873.0" height="23.8" fill="url(#hbg52)"/><rect x="298.5" y="2499.2" width="873.0" height="23.8" fill="url(#hbg53)"/><rect x="298.5" y="2521.8" width="873.0" height="23.8" fill="url(#hbg54)"/><rect x="298.5" y="2544.3" width="873.0" height="83.8" fill="url(#hbg55)"/></g>
<rect x="338.5" y="2557.5" width="793.0" height="10" fill="url(#fadeB)"/>
</g>
<g filter="url(#softer)">
<line x1="341.5" y1="1477.5" x2="1129.5" y2="1477.5" stroke="#f6f4fb" stroke-width="6.0" stroke-opacity="0.55"/>
<line x1="341.5" y1="1485.4" x2="1129.5" y2="1485.4" stroke="#5e6282" stroke-width="5.6" />
<line x1="744.6" y1="1303.5" x2="744.6" y2="2563.5" stroke="#e4d6f4" stroke-width="4.0" stroke-opacity="0.6"/>
<line x1="740.2" y1="1303.5" x2="740.2" y2="2563.5" stroke="#52566e" stroke-width="4.8" />
</g>
<g filter="url(#soft)">
<line x1="1137.6" y1="1297.3" x2="1137.6" y2="2570.2" stroke="#6a6a68" stroke-width="6.2" />
<line x1="335.4" y1="1297.3" x2="335.4" y2="2570.2" stroke="#181818" stroke-width="4.4" />
<line x1="328.4" y1="1297.3" x2="1145.6" y2="1297.3" stroke="#141414" stroke-width="4.8" />
<line x1="335.4" y1="2570.2" x2="1145.6" y2="2570.2" stroke="#141414" stroke-width="4.8" />
<line x1="343.2" y1="2570.2" x2="343.2" y2="2592.7" stroke="#2a2a2a" stroke-width="4.0" />
<line x1="422.2" y1="2570.2" x2="422.2" y2="2580.7" stroke="#2a2a2a" stroke-width="4.0" />
<line x1="501.2" y1="2570.2" x2="501.2" y2="2580.7" stroke="#2a2a2a" stroke-width="4.0" />
<line x1="580.3" y1="2570.2" x2="580.3" y2="2580.7" stroke="#2a2a2a" stroke-width="4.0" />
<line x1="659.3" y1="2570.2" x2="659.3" y2="2580.7" stroke="#2a2a2a" stroke-width="4.0" />
<line x1="738.3" y1="2570.2" x2="738.3" y2="2592.7" stroke="#2a2a2a" stroke-width="4.0" />
<line x1="817.3" y1="2570.2" x2="817.3" y2="2580.7" stroke="#2a2a2a" stroke-width="4.0" />
<line x1="896.3" y1="2570.2" x2="896.3" y2="2580.7" stroke="#2a2a2a" stroke-width="4.0" />
<line x1="975.4" y1="2570.2" x2="975.4" y2="2580.7" stroke="#2a2a2a" stroke-width="4.0" />
<line x1="1054.4" y1="2570.2" x2="1054.4" y2="2580.7" stroke="#2a2a2a" stroke-width="4.0" />
<line x1="1133.4" y1="2570.2" x2="1133.4" y2="2592.7" stroke="#2a2a2a" stroke-width="4.0" />
<line x1="312.4" y1="2567.0" x2="335.4" y2="2567.0" stroke="#4a4a4a" stroke-width="3.8" />
<line x1="324.9" y1="2530.9" x2="335.4" y2="2530.9" stroke="#2e2e2e" stroke-width="3.8" />
<line x1="324.9" y1="2494.9" x2="335.4" y2="2494.9" stroke="#2e2e2e" stroke-width="3.8" />
<line x1="324.9" y1="2458.8" x2="335.4" y2="2458.8" stroke="#2e2e2e" stroke-width="3.8" />
<line x1="324.9" y1="2422.8" x2="335.4" y2="2422.8" stroke="#2e2e2e" stroke-width="3.8" />
<line x1="320.4" y1="2386.8" x2="335.4" y2="2386.8" stroke="#2e2e2e" stroke-width="3.8" />
<line x1="324.9" y1="2350.7" x2="335.4" y2="2350.7" stroke="#2e2e2e" stroke-width="3.8" />
<line x1="324.9" y1="2314.7" x2="335.4" y2="2314.7" stroke="#2e2e2e" stroke-width="3.8" />
<line x1="324.9" y1="2278.6" x2="335.4" y2="2278.6" stroke="#2e2e2e" stroke-width="3.8" />
<line x1="324.9" y1="2242.6" x2="335.4" y2="2242.6" stroke="#2e2e2e" stroke-width="3.8" />
<line x1="312.4" y1="2206.5" x2="335.4" y2="2206.5" stroke="#4a4a4a" stroke-width="3.8" />
<line x1="324.9" y1="2170.5" x2="335.4" y2="2170.5" stroke="#2e2e2e" stroke-width="3.8" />
<line x1="324.9" y1="2134.4" x2="335.4" y2="2134.4" stroke="#2e2e2e" stroke-width="3.8" />
<line x1="324.9" y1="2098.4" x2="335.4" y2="2098.4" stroke="#2e2e2e" stroke-width="3.8" />
<line x1="324.9" y1="2062.3" x2="335.4" y2="2062.3" stroke="#2e2e2e" stroke-width="3.8" />
<line x1="320.4" y1="2026.3" x2="335.4" y2="2026.3" stroke="#2e2e2e" stroke-width="3.8" />
<line x1="324.9" y1="1990.2" x2="335.4" y2="1990.2" stroke="#2e2e2e" stroke-width="3.8" />
<line x1="324.9" y1="1954.2" x2="335.4" y2="1954.2" stroke="#2e2e2e" stroke-width="3.8" />
<line x1="324.9" y1="1918.2" x2="335.4" y2="1918.2" stroke="#2e2e2e" stroke-width="3.8" />
<line x1="324.9" y1="1882.1" x2="335.4" y2="1882.1" stroke="#2e2e2e" stroke-width="3.8" />
<line x1="312.4" y1="1846.1" x2="335.4" y2="1846.1" stroke="#4a4a4a" stroke-width="3.8" />
<line x1="324.9" y1="1810.0" x2="335.4" y2="1810.0" stroke="#2e2e2e" stroke-width="3.8" />
<line x1="324.9" y1="1774.0" x2="335.4" y2="1774.0" stroke="#2e2e2e" stroke-width="3.8" />
<line x1="324.9" y1="1737.9" x2="335.4" y2="1737.9" stroke="#2e2e2e" stroke-width="3.8" />
<line x1="324.9" y1="1701.9" x2="335.4" y2="1701.9" stroke="#2e2e2e" stroke-width="3.8" />
<line x1="320.4" y1="1665.8" x2="335.4" y2="1665.8" stroke="#2e2e2e" stroke-width="3.8" />
<line x1="324.9" y1="1629.8" x2="335.4" y2="1629.8" stroke="#2e2e2e" stroke-width="3.8" />
<line x1="324.9" y1="1593.7" x2="335.4" y2="1593.7" stroke="#2e2e2e" stroke-width="3.8" />
<line x1="324.9" y1="1557.7" x2="335.4" y2="1557.7" stroke="#2e2e2e" stroke-width="3.8" />
<line x1="324.9" y1="1521.6" x2="335.4" y2="1521.6" stroke="#2e2e2e" stroke-width="3.8" />
<line x1="312.4" y1="1485.6" x2="335.4" y2="1485.6" stroke="#4a4a4a" stroke-width="3.8" />
<line x1="324.9" y1="1449.6" x2="335.4" y2="1449.6" stroke="#2e2e2e" stroke-width="3.8" />
<line x1="324.9" y1="1413.5" x2="335.4" y2="1413.5" stroke="#2e2e2e" stroke-width="3.8" />
<line x1="324.9" y1="1377.5" x2="335.4" y2="1377.5" stroke="#2e2e2e" stroke-width="3.8" />
<line x1="324.9" y1="1341.4" x2="335.4" y2="1341.4" stroke="#2e2e2e" stroke-width="3.8" />
<line x1="320.4" y1="1305.4" x2="335.4" y2="1305.4" stroke="#2e2e2e" stroke-width="3.8" />
</g>
<g filter="url(#soft)" stroke-width="0.9" stroke-linejoin="round">
<text x="367.0" y="1420.5" font-family='"Liberation Sans", Arial, Helvetica, sans-serif' font-size="100" font-weight="bold" text-anchor="start" fill="#161616" stroke="#161616" stroke-width="0.5" >(b)</text>
<text x="832.0" y="1406.5" font-family='"Liberation Sans", Arial, Helvetica, sans-serif' font-size="67" font-weight="bold" text-anchor="start" fill="#4a66bc" stroke="#4a66bc" stroke-width="0.4" textLength="146" lengthAdjust="spacing" >BCB</text>
<path d="M876.4,1422.3 L810,1463" stroke="#4f62b0" stroke-width="5.4" fill="none"/>
<path d="M774.5,1484.6 L806,1449.5 L821.5,1474.5 Z" fill="#4a6cd8" stroke="none"/>
<text x="302.0" y="1511.1" font-family='"Liberation Sans", Arial, Helvetica, sans-serif' font-size="74" font-weight="normal" text-anchor="end" fill="#161616" stroke="#161616" >0.0</text>
<text x="302.0" y="1871.6" font-family='"Liberation Sans", Arial, Helvetica, sans-serif' font-size="74" font-weight="normal" text-anchor="end" fill="#161616" stroke="#161616" >-0.2</text>
<text x="302.0" y="2232.0" font-family='"Liberation Sans", Arial, Helvetica, sans-serif' font-size="74" font-weight="normal" text-anchor="end" fill="#161616" stroke="#161616" >-0.4</text>
<text x="302.0" y="2592.5" font-family='"Liberation Sans", Arial, Helvetica, sans-serif' font-size="74" font-weight="normal" text-anchor="end" fill="#161616" stroke="#161616" >-0.6</text>
<text x="341.7" y="2670.0" font-family='"Liberation Sans", Arial, Helvetica, sans-serif' font-size="74" font-weight="normal" text-anchor="middle" fill="#161616" stroke="#161616" >-0.5</text>
<text x="735.8" y="2670.0" font-family='"Liberation Sans", Arial, Helvetica, sans-serif' font-size="74" font-weight="normal" text-anchor="middle" fill="#161616" stroke="#161616" >0.0</text>
<text x="1133.4" y="2670.0" font-family='"Liberation Sans", Arial, Helvetica, sans-serif' font-size="74" font-weight="normal" text-anchor="middle" fill="#161616" stroke="#161616" >0.5</text>
<text y="2805" font-family='"Liberation Sans", Arial, Helvetica, sans-serif' font-size="75" fill="#161616" stroke="#161616"><tspan x="612">k</tspan><tspan x="650" dy="19" font-size="49" font-style="italic">// </tspan><tspan x="705" dy="-19">(</tspan><tspan x="729" font-size="79">Å</tspan><tspan x="785" dy="-50" font-size="48">-1</tspan><tspan x="832" dy="50">)</tspan></text>
<text transform="translate(92.5,1928) rotate(-90)" font-family='"Liberation Sans", Arial, Helvetica, sans-serif' font-size="98.5" text-anchor="middle" fill="#161616" stroke="#161616">E-E<tspan font-size="52" dy="28">F</tspan><tspan dy="-28"> (eV)</tspan></text>
<text x="230.5" y="1272.5" font-family='"Liberation Sans", Arial, Helvetica, sans-serif' font-size="98" font-weight="normal" text-anchor="start" fill="#161616" stroke="#161616" >K</text>
<text x="1157.0" y="1272.5" font-family='"Liberation Sans", Arial, Helvetica, sans-serif' font-size="98" font-weight="normal" text-anchor="start" fill="#161616" stroke="#161616" >K</text>
<text x="712.0" y="1258.0" font-family='"Liberation Serif", "Times New Roman", serif' font-size="102" font-weight="normal" text-anchor="start" fill="#161616" stroke="#161616" >Γ</text>
<line x1="442.0" y1="1235.0" x2="624.0" y2="1235.0" stroke="#1c1c1c" stroke-width="4.8" />
<path d="M402,1235 L436,1226.5 L457,1223.5 L452,1235 L457,1246.5 L436,1243.5 Z" fill="#1c1c1c" stroke="none"/>
<line x1="999.0" y1="1235.0" x2="815.0" y2="1235.0" stroke="#1c1c1c" stroke-width="4.8" />
<path d="M1039,1235 L1005,1226.5 L984,1223.5 L989,1235 L984,1246.5 L1005,1243.5 Z" fill="#1c1c1c" stroke="none"/>
</g>
</g>
<g id="panel-c">
<clipPath id="clipC"><rect x="1534.5" y="1304.3" width="787.0999999999999" height="1263.0000000000002"/></clipPath>
<linearGradient id="fadeC" x1="0" y1="0" x2="0" y2="1"><stop offset="0" stop-color="#fff" stop-opacity="0"/><stop offset="1" stop-color="#f4f4f4" stop-opacity="0.8"/></linearGradient>
<rect x="1527.0" y="1297.5" width="800.8000000000002" height="1272.9" fill="#fbfbfb"/>
<g clip-path="url(#clipC)">
<filter id="hcblur" filterUnits="userSpaceOnUse" x="1504" y="1274" width="847" height="1323" color-interpolation-filters="sRGB"><feGaussianBlur stdDeviation="7 10" result="b"/><feTurbulence type="fractalNoise" baseFrequency="0.055 0.0035" numOctaves="3" seed="11" result="n"/><feColorMatrix in="n" type="matrix" values="1 0 0 0 0  1 0 0 0 0  1 0 0 0 0  0 0 0 0 1" result="ng"/><feComposite in="b" in2="ng" operator="arithmetic" k1="0" k2="1" k3="0.11" k4="-0.0550"/></filter>
<defs><linearGradient id="hcg0" gradientUnits="userSpaceOnUse" x1="1534.5" y1="0" x2="2321.6" y2="0"><stop offset="0" stop-color="#afafaf"/><stop offset="0.25" stop-color="#afafaf"/><stop offset="0.2727" stop-color="#b0b0b0"/><stop offset="0.2955" stop-color="#b0b0b0"/><stop offset="0.3182" stop-color="#b1b1b1"/><stop offset="0.3409" stop-color="#b1b1b1"/><stop offset="0.3636" stop-color="#b2b2b2"/><stop offset="0.3864" stop-color="#b4b4b4"/><stop offset="0.4091" stop-color="#b6b6b6"/><stop offset="0.4318" stop-color="#b8b8b8"/><stop offset="0.4545" stop-color="#bababa"/><stop offset="0.4773" stop-color="#bcbcbc"/><stop offset="0.5" stop-color="#bebebe"/><stop offset="0.5455" stop-color="#bebebe"/><stop offset="0.5682" stop-color="#bdbdbd"/><stop offset="0.5909" stop-color="#bcbcbc"/><stop offset="0.6136" stop-color="#bdbdbd"/><stop offset="0.6364" stop-color="#bebebe"/><stop offset="0.6591" stop-color="#bfbfbf"/><stop offset="0.75" stop-color="#bfbfbf"/><stop offset="0.7727" stop-color="#bebebe"/><stop offset="1" stop-color="#bebebe"/></linearGradient><linearGradient id="hcg1" gradientUnits="userSpaceOnUse" x1="1534.5" y1="0" x2="2321.6" y2="0"><stop offset="0" stop-color="#aeaeae"/><stop offset="0.09091" stop-color="#aeaeae"/><stop offset="0.1136" stop-color="#afafaf"/><stop offset="0.2045" stop-color="#afafaf"/><stop offset="0.2273" stop-color="#b0b0b0"/><stop offset="0.25" stop-color="#b0b0b0"/><stop offset="0.2727" stop-color="#b1b1b1"/><stop offset="0.2955" stop-color="#b2b2b2"/><stop offset="0.3182" stop-color="#b3b3b3"/><stop offset="0.3409" stop-color="#b4b4b4"/><stop offset="0.3636" stop-color="#b7b7b7"/><stop offset="0.3864" stop-color="#bababa"/><stop offset="0.4091" stop-color="#bebebe"/><stop offset="0.4318" stop-color="#c3c3c3"/><stop offset="0.4545" stop-color="#c8c8c8"/><stop offset="0.4773" stop-color="#cccccc"/><stop offset="0.5" stop-color="#cecece"/><stop offset="0.5227" stop-color="#cdcdcd"/><stop offset="0.5455" stop-color="#c9c9c9"/><stop offset="0.5682" stop-color="#c5c5c5"/><stop offset="0.5909" stop-color="#c2c2c2"/><stop offset="0.6136" stop-color="#c1c1c1"/><stop offset="0.6364" stop-color="#c0c0c0"/><stop offset="0.6591" stop-color="#c1c1c1"/><stop offset="0.6818" stop-color="#c1c1c1"/><stop offset="0.7045" stop-color="#c0c0c0"/><stop offset="0.7273" stop-color="#c0c0c0"/><stop offset="0.75" stop-color="#bfbfbf"/><stop offset="0.7955" stop-color="#bfbfbf"/><stop offset="0.8182" stop-color="#bebebe"/><stop offset="1" stop-color="#bebebe"/></linearGradient><linearGradient id="hcg2" gradientUnits="userSpaceOnUse" x1="1534.5" y1="0" x2="2321.6" y2="0"><stop offset="0" stop-color="#aeaeae"/><stop offset="0.09091" stop-color="#aeaeae"/><stop offset="0.1136" stop-color="#afafaf"/><stop offset="0.1591" stop-color="#afafaf"/><stop offset="0.1818" stop-color="#b0b0b0"/><stop offset="0.2045" stop-color="#b0b0b0"/><stop offset="0.2273" stop-color="#b1b1b1"/><stop offset="0.25" stop-color="#b2b2b2"/><stop offset="0.2727" stop-color="#b3b3b3"/><stop offset="0.2955" stop-color="#b4b4b4"/><stop offset="0.3182" stop-color="#b6b6b6"/><stop offset="0.3409" stop-color="#b9b9b9"/><stop offset="0.3636" stop-color="#bebebe"/><stop offset="0.3864" stop-color="#c4c4c4"/><stop offset="0.4091" stop-color="#cccccc"/><stop offset="0.4318" stop-color="#d5d5d5"/><stop offset="0.4545" stop-color="#dedede"/><stop offset="0.4773" stop-color="#e4e4e4"/><stop offset="0.5" stop-color="#e7e7e7"/><stop offset="0.5227" stop-color="#e5e5e5"/><stop offset="0.5455" stop-color="#dcdcdc"/><stop offset="0.5682" stop-color="#d3d3d3"/><stop offset="0.5909" stop-color="#cbcbcb"/><stop offset="0.6136" stop-color="#c7c7c7"/><stop offset="0.6364" stop-color="#c5c5c5"/><stop offset="0.6591" stop-color="#c4c4c4"/><stop offset="0.6818" stop-color="#c3c3c3"/><stop offset="0.7045" stop-color="#c3c3c3"/><stop offset="0.7273" stop-color="#c1c1c1"/><stop offset="0.75" stop-color="#c1c1c1"/><stop offset="0.7727" stop-color="#c0c0c0"/><stop offset="0.7955" stop-color="#bfbfbf"/><stop offset="0.8182" stop-color="#bfbfbf"/><stop offset="0.8409" stop-color="#bebebe"/><stop offset="0.9091" stop-color="#bebebe"/><stop offset="0.9318" stop-color="#bdbdbd"/><stop offset="1" stop-color="#bdbdbd"/></linearGradient><linearGradient id="hcg3" gradientUnits="userSpaceOnUse" x1="1534.5" y1="0" x2="2321.6" y2="0"><stop offset="0" stop-color="#aeaeae"/><stop offset="0.09091" stop-color="#aeaeae"/><stop offset="0.1136" stop-color="#afafaf"/><stop offset="0.1591" stop-color="#afafaf"/><stop offset="0.1818" stop-color="#b0b0b0"/><stop offset="0.2045" stop-color="#b1b1b1"/><stop offset="0.2273" stop-color="#b2b2b2"/><stop offset="0.25" stop-color="#b4b4b4"/><stop offset="0.2727" stop-color="#b5b5b5"/><stop offset="0.2955" stop-color="#b8b8b8"/><stop offset="0.3182" stop-color="#bbbbbb"/><stop offset="0.3409" stop-color="#bfbfbf"/><stop offset="0.3636" stop-color="#c6c6c6"/><stop offset="0.3864" stop-color="#cfcfcf"/><stop offset="0.4091" stop-color="#dcdcdc"/><stop offset="0.4318" stop-color="#eaeaea"/><stop offset="0.4545" stop-color="#f8f8f8"/><stop offset="0.4773" stop-color="#ffffff"/><stop offset="0.5227" stop-color="#ffffff"/><stop offset="0.5455" stop-color="#f3f3f3"/><stop offset="0.5682" stop-color="#e3e3e3"/><stop offset="0.5909" stop-color="#d6d6d6"/><stop offset="0.6136" stop-color="#cecece"/><stop offset="0.6364" stop-color="#cacaca"/><stop offset="0.6591" stop-color="#c8c8c8"/><stop offset="0.6818" stop-color="#c7c7c7"/><stop offset="0.7045" stop-color="#c5c5c5"/><stop offset="0.7273" stop-color="#c3c3c3"/><stop offset="0.75" stop-color="#c2c2c2"/><stop offset="0.7727" stop-color="#c1c1c1"/><stop offset="0.7955" stop-color="#c0c0c0"/><stop offset="0.8182" stop-color="#bfbfbf"/><stop offset="0.8409" stop-color="#bebebe"/><stop offset="0.8864" stop-color="#bebebe"/><stop offset="0.9091" stop-color="#bdbdbd"/><stop offset="1" stop-color="#bdbdbd"/></linearGradient><linearGradient id="hcg4" gradientUnits="userSpaceOnUse" x1="1534.5" y1="0" x2="2321.6" y2="0"><stop offset="0" stop-color="#aeaeae"/><stop offset="0.09091" stop-color="#aeaeae"/><stop offset="0.1136" stop-color="#afafaf"/><stop offset="0.1364" stop-color="#afafaf"/><stop offset="0.1591" stop-color="#b0b0b0"/><stop offset="0.1818" stop-color="#b1b1b1"/><stop offset="0.2045" stop-color="#b2b2b2"/><stop offset="0.2273" stop-color="#b3b3b3"/><stop offset="0.25" stop-color="#b5b5b5"/><stop offset="0.2727" stop-color="#b7b7b7"/><stop offset="0.2955" stop-color="#bababa"/><stop offset="0.3182" stop-color="#bebebe"/><stop offset="0.3409" stop-color="#c4c4c4"/><stop offset="0.3636" stop-color="#cdcdcd"/><stop offset="0.3864" stop-color="#dadada"/><stop offset="0.4091" stop-color="#ebebeb"/><stop offset="0.4318" stop-color="#fefefe"/><stop offset="0.4545" stop-color="#ffffff"/><stop offset="0.5455" stop-color="#ffffff"/><stop offset="0.5682" stop-color="#f2f2f2"/><stop offset="0.5909" stop-color="#e0e0e0"/><stop offset="0.6136" stop-color="#d5d5d5"/><stop offset="0.6364" stop-color="#cfcfcf"/><stop offset="0.6591" stop-color="#cccccc"/><stop offset="0.6818" stop-color="#c9c9c9"/><stop offset="0.7045" stop-color="#c7c7c7"/><stop offset="0.7273" stop-color="#c5c5c5"/><stop offset="0.75" stop-color="#c3c3c3"/><stop offset="0.7727" stop-color="#c2c2c2"/><stop offset="0.7955" stop-color="#c0c0c0"/><stop offset="0.8182" stop-color="#bfbfbf"/><stop offset="0.8409" stop-color="#bfbfbf"/><stop offset="0.8636" stop-color="#bebebe"/><stop offset="0.8864" stop-color="#bebebe"/><stop offset="0.9091" stop-color="#bdbdbd"/><stop offset="1" stop-color="#bdbdbd"/></linearGradient><linearGradient id="hcg5" gradientUnits="userSpaceOnUse" x1="1534.5" y1="0" x2="2321.6" y2="0"><stop offset="0" stop-color="#adadad"/><stop offset="0.02273" stop-color="#adadad"/><stop offset="0.04545" stop-color="#aeaeae"/><stop offset="0.1136" stop-color="#aeaeae"/><stop offset="0.1364" stop-color="#afafaf"/><stop offset="0.1591" stop-color="#b0b0b0"/><stop offset="0.1818" stop-color="#b1b1b1"/><stop offset="0.2045" stop-color="#b2b2b2"/><stop offset="0.2273" stop-color="#b4b4b4"/><stop offset="0.25" stop-color="#b6b6b6"/><stop offset="0.2727" stop-color="#b8b8b8"/><stop offset="0.2955" stop-color="#bbbbbb"/><stop offset="0.3182" stop-color="#c0c0c0"/><stop offset="0.3409" stop-color="#c6c6c6"/><stop offset="0.3636" stop-color="#d0d0d0"/><stop offset="0.3864" stop-color="#dfdfdf"/><stop offset="0.4091" stop-color="#f2f2f2"/><stop offset="0.4318" stop-color="#ffffff"/><stop offset="0.5455" stop-color="#ffffff"/><stop offset="0.5682" stop-color="#f9f9f9"/><stop offset="0.5909" stop-color="#e4e4e4"/><stop offset="0.6136" stop-color="#d7d7d7"/><stop offset="0.6364" stop-color="#d0d0d0"/><stop offset="0.6591" stop-color="#cdcdcd"/><stop offset="0.6818" stop-color="#cacaca"/><stop offset="0.7045" stop-color="#c8c8c8"/><stop offset="0.7273" stop-color="#c6c6c6"/><stop offset="0.75" stop-color="#c4c4c4"/><stop offset="0.7727" stop-color="#c2c2c2"/><stop offset="0.7955" stop-color="#c1c1c1"/><stop offset="0.8182" stop-color="#bfbfbf"/><stop offset="0.8409" stop-color="#bfbfbf"/><stop offset="0.8636" stop-color="#bebebe"/><stop offset="0.8864" stop-color="#bdbdbd"/><stop offset="1" stop-color="#bdbdbd"/></linearGradient><linearGradient id="hcg6" gradientUnits="userSpaceOnUse" x1="1534.5" y1="0" x2="2321.6" y2="0"><stop offset="0" stop-color="#a9a9a9"/><stop offset="0.02273" stop-color="#a9a9a9"/><stop offset="0.04545" stop-color="#aaaaaa"/><stop offset="0.1136" stop-color="#aaaaaa"/><stop offset="0.1364" stop-color="#ababab"/><stop offset="0.1591" stop-color="#ababab"/><stop offset="0.1818" stop-color="#acacac"/><stop offset="0.2045" stop-color="#adadad"/><stop offset="0.2273" stop-color="#aeaeae"/><stop offset="0.25" stop-color="#afafaf"/><stop offset="0.2727" stop-color="#b1b1b1"/><stop offset="0.2955" stop-color="#b4b4b4"/><stop offset="0.3182" stop-color="#b7b7b7"/><stop offset="0.3409" stop-color="#bcbcbc"/><stop offset="0.3636" stop-color="#c4c4c4"/><stop offset="0.3864" stop-color="#d0d0d0"/><stop offset="0.4091" stop-color="#e0e0e0"/><stop offset="0.4318" stop-color="#f1f1f1"/><stop offset="0.4545" stop-color="#ffffff"/><stop offset="0.5227" stop-color="#ffffff"/><stop offset="0.5455" stop-color="#f9f9f9"/><stop offset="0.5682" stop-color="#e4e4e4"/><stop offset="0.5909" stop-color="#d3d3d3"/><stop offset="0.6136" stop-color="#c8c8c8"/><stop offset="0.6364" stop-color="#c3c3c3"/><stop offset="0.6591" stop-color="#c0c0c0"/><stop offset="0.6818" stop-color="#bebebe"/><stop offset="0.7045" stop-color="#bcbcbc"/><stop offset="0.7273" stop-color="#bbbbbb"/><stop offset="0.75" stop-color="#b9b9b9"/><stop offset="0.7727" stop-color="#b8b8b8"/><stop offset="0.7955" stop-color="#b7b7b7"/><stop offset="0.8182" stop-color="#b6b6b6"/><stop offset="0.8409" stop-color="#b6b6b6"/><stop offset="0.8636" stop-color="#b5b5b5"/><stop offset="0.9091" stop-color="#b5b5b5"/><stop offset="0.9318" stop-color="#b4b4b4"/><stop offset="1" stop-color="#b4b4b4"/></linearGradient><linearGradient id="hcg7" gradientUnits="userSpaceOnUse" x1="1534.5" y1="0" x2="2321.6" y2="0"><stop offset="0" stop-color="#a5a5a5"/><stop offset="0.1591" stop-color="#a5a5a5"/><stop offset="0.1818" stop-color="#a6a6a6"/><stop offset="0.2273" stop-color="#a6a6a6"/><stop offset="0.25" stop-color="#a7a7a7"/><stop offset="0.2727" stop-color="#a7a7a7"/><stop offset="0.2955" stop-color="#a8a8a8"/><stop offset="0.3182" stop-color="#a9a9a9"/><stop offset="0.3409" stop-color="#ababab"/><stop offset="0.3636" stop-color="#adadad"/><stop offset="0.3864" stop-color="#b1b1b1"/><stop offset="0.4091" stop-color="#b5b5b5"/><stop offset="0.4318" stop-color="#b9b9b9"/><stop offset="0.4545" stop-color="#bbbbbb"/><stop offset="0.5" stop-color="#bbbbbb"/><stop offset="0.5227" stop-color="#b9b9b9"/><stop offset="0.5455" stop-color="#b5b5b5"/><stop offset="0.5682" stop-color="#b1b1b1"/><stop offset="0.5909" stop-color="#aeaeae"/><stop offset="0.6136" stop-color="#adadad"/><stop offset="0.6364" stop-color="#acacac"/><stop offset="0.6591" stop-color="#ababab"/><stop offset="0.6818" stop-color="#aaaaaa"/><stop offset="0.7045" stop-color="#aaaaaa"/><stop offset="0.7273" stop-color="#a9a9a9"/><stop offset="0.75" stop-color="#a9a9a9"/><stop offset="0.7727" stop-color="#a8a8a8"/><stop offset="0.7955" stop-color="#a8a8a8"/><stop offset="0.8182" stop-color="#a7a7a7"/><stop offset="1" stop-color="#a7a7a7"/></linearGradient><linearGradient id="hcg8" gradientUnits="userSpaceOnUse" x1="1534.5" y1="0" x2="2321.6" y2="0"><stop offset="0" stop-color="#a4a4a4"/><stop offset="0.1818" stop-color="#a4a4a4"/><stop offset="0.2045" stop-color="#a3a3a3"/><stop offset="0.2273" stop-color="#a3a3a3"/><stop offset="0.25" stop-color="#a2a2a2"/><stop offset="0.2727" stop-color="#a1a1a1"/><stop offset="0.2955" stop-color="#a0a0a0"/><stop offset="0.3182" stop-color="#9d9d9d"/><stop offset="0.3409" stop-color="#9b9b9b"/><stop offset="0.3636" stop-color="#979797"/><stop offset="0.3864" stop-color="#909090"/><stop offset="0.4091" stop-color="#848484"/><stop offset="0.4318" stop-color="#717171"/><stop offset="0.4545" stop-color="#595959"/><stop offset="0.4773" stop-color="#444444"/><stop offset="0.5" stop-color="#3a3a3a"/><stop offset="0.5227" stop-color="#414141"/><stop offset="0.5455" stop-color="#565656"/><stop offset="0.5682" stop-color="#707070"/><stop offset="0.5909" stop-color="#878787"/><stop offset="0.6136" stop-color="#969696"/><stop offset="0.6364" stop-color="#9e9e9e"/><stop offset="0.6591" stop-color="#a2a2a2"/><stop offset="0.6818" stop-color="#a3a3a3"/><stop offset="0.7045" stop-color="#a4a4a4"/><stop offset="1" stop-color="#a4a4a4"/></linearGradient><linearGradient id="hcg9" gradientUnits="userSpaceOnUse" x1="1534.5" y1="0" x2="2321.6" y2="0"><stop offset="0" stop-color="#a4a4a4"/><stop offset="0.1136" stop-color="#a4a4a4"/><stop offset="0.1364" stop-color="#a3a3a3"/><stop offset="0.1818" stop-color="#a3a3a3"/><stop offset="0.2045" stop-color="#a2a2a2"/><stop offset="0.2273" stop-color="#a0a0a0"/><stop offset="0.25" stop-color="#9d9d9d"/><stop offset="0.2727" stop-color="#999999"/><stop offset="0.2955" stop-color="#949494"/><stop offset="0.3182" stop-color="#8d8d8d"/><stop offset="0.3409" stop-color="#838383"/><stop offset="0.3636" stop-color="#757575"/><stop offset="0.3864" stop-color="#616161"/><stop offset="0.4091" stop-color="#404040"/><stop offset="0.4318" stop-color="#0e0e0e"/><stop offset="0.4545" stop-color="#000000"/><stop offset="0.5455" stop-color="#000000"/><stop offset="0.5682" stop-color="#171717"/><stop offset="0.5909" stop-color="#535353"/><stop offset="0.6136" stop-color="#7b7b7b"/><stop offset="0.6364" stop-color="#909090"/><stop offset="0.6591" stop-color="#9b9b9b"/><stop offset="0.6818" stop-color="#9f9f9f"/><stop offset="0.7045" stop-color="#a2a2a2"/><stop offset="0.7273" stop-color="#a3a3a3"/><stop offset="0.75" stop-color="#a3a3a3"/><stop offset="0.7727" stop-color="#a4a4a4"/><stop offset="1" stop-color="#a4a4a4"/></linearGradient><linearGradient id="hcg10" gradientUnits="userSpaceOnUse" x1="1534.5" y1="0" x2="2321.6" y2="0"><stop offset="0" stop-color="#a3a3a3"/><stop offset="0.1591" stop-color="#a3a3a3"/><stop offset="0.1818" stop-color="#a2a2a2"/><stop offset="0.2045" stop-color="#a1a1a1"/><stop offset="0.2273" stop-color="#9e9e9e"/><stop offset="0.25" stop-color="#9b9b9b"/><stop offset="0.2727" stop-color="#959595"/><stop offset="0.2955" stop-color="#8d8d8d"/><stop offset="0.3182" stop-color="#838383"/><stop offset="0.3409" stop-color="#757575"/><stop offset="0.3636" stop-color="#636363"/><stop offset="0.3864" stop-color="#484848"/><stop offset="0.4091" stop-color="#1c1c1c"/><stop offset="0.4318" stop-color="#000000"/><stop offset="0.5682" stop-color="#000000"/><stop offset="0.5909" stop-color="#393939"/><stop offset="0.6136" stop-color="#6d6d6d"/><stop offset="0.6364" stop-color="#8a8a8a"/><stop offset="0.6591" stop-color="#979797"/><stop offset="0.6818" stop-color="#9e9e9e"/><stop offset="0.7045" stop-color="#a1a1a1"/><stop offset="0.7273" stop-color="#a2a2a2"/><stop offset="0.75" stop-color="#a3a3a3"/><stop offset="1" stop-color="#a3a3a3"/></linearGradient><linearGradient id="hcg11" gradientUnits="userSpaceOnUse" x1="1534.5" y1="0" x2="2321.6" y2="0"><stop offset="0" stop-color="#a3a3a3"/><stop offset="0.1591" stop-color="#a3a3a3"/><stop offset="0.1818" stop-color="#a2a2a2"/><stop offset="0.2045" stop-color="#a1a1a1"/><stop offset="0.2273" stop-color="#9f9f9f"/><stop offset="0.25" stop-color="#9c9c9c"/><stop offset="0.2727" stop-color="#989898"/><stop offset="0.2955" stop-color="#919191"/><stop offset="0.3182" stop-color="#898989"/><stop offset="0.3409" stop-color="#7f7f7f"/><stop offset="0.3636" stop-color="#737373"/><stop offset="0.3864" stop-color="#636363"/><stop offset="0.4091" stop-color="#4a4a4a"/><stop offset="0.4318" stop-color="#1b1b1b"/><stop offset="0.4545" stop-color="#000000"/><stop offset="0.5455" stop-color="#000000"/><stop offset="0.5682" stop-color="#272727"/><stop offset="0.5909" stop-color="#646464"/><stop offset="0.6136" stop-color="#858585"/><stop offset="0.6364" stop-color="#949494"/><stop offset="0.6591" stop-color="#9b9b9b"/><stop offset="0.6818" stop-color="#9f9f9f"/><stop offset="0.7045" stop-color="#a1a1a1"/><stop offset="0.7273" stop-color="#a2a2a2"/><stop offset="0.75" stop-color="#a3a3a3"/><stop offset="1" stop-color="#a3a3a3"/></linearGradient><linearGradient id="hcg12" gradientUnits="userSpaceOnUse" x1="1534.5" y1="0" x2="2321.6" y2="0"><stop offset="0" stop-color="#a3a3a3"/><stop offset="0.1591" stop-color="#a3a3a3"/><stop offset="0.1818" stop-color="#a2a2a2"/><stop offset="0.2045" stop-color="#a2a2a2"/><stop offset="0.2273" stop-color="#a1a1a1"/><stop offset="0.25" stop-color="#9f9f9f"/><stop offset="0.2727" stop-color="#9d9d9d"/><stop offset="0.2955" stop-color="#999999"/><stop offset="0.3182" stop-color="#959595"/><stop offset="0.3409" stop-color="#909090"/><stop offset="0.3636" stop-color="#898989"/><stop offset="0.3864" stop-color="#828282"/><stop offset="0.4091" stop-color="#797979"/><stop offset="0.4318" stop-color="#656565"/><stop offset="0.4545" stop-color="#3c3c3c"/><stop offset="0.4773" stop-color="#050505"/><stop offset="0.5" stop-color="#000000"/><stop offset="0.5227" stop-color="#000000"/><stop offset="0.5455" stop-color="#373737"/><stop offset="0.5682" stop-color="#6c6c6c"/><stop offset="0.5909" stop-color="#898989"/><stop offset="0.6136" stop-color="#969696"/><stop offset="0.6364" stop-color="#9c9c9c"/><stop offset="0.6591" stop-color="#9f9f9f"/><stop offset="0.6818" stop-color="#a1a1a1"/><stop offset="0.7045" stop-color="#a2a2a2"/><stop offset="0.7273" stop-color="#a3a3a3"/><stop offset="1" stop-color="#a3a3a3"/></linearGradient><linearGradient id="hcg13" gradientUnits="userSpaceOnUse" x1="1534.5" y1="0" x2="2321.6" y2="0"><stop offset="0" stop-color="#a3a3a3"/><stop offset="0.1818" stop-color="#a3a3a3"/><stop offset="0.2045" stop-color="#a2a2a2"/><stop offset="0.25" stop-color="#a2a2a2"/><stop offset="0.2727" stop-color="#a1a1a1"/><stop offset="0.2955" stop-color="#9f9f9f"/><stop offset="0.3182" stop-color="#9e9e9e"/><stop offset="0.3409" stop-color="#9c9c9c"/><stop offset="0.3636" stop-color="#9a9a9a"/><stop offset="0.3864" stop-color="#979797"/><stop offset="0.4091" stop-color="#959595"/><stop offset="0.4318" stop-color="#919191"/><stop offset="0.4545" stop-color="#848484"/><stop offset="0.4773" stop-color="#696969"/><stop offset="0.5" stop-color="#535353"/><stop offset="0.5227" stop-color="#616161"/><stop offset="0.5455" stop-color="#818181"/><stop offset="0.5682" stop-color="#959595"/><stop offset="0.5909" stop-color="#9c9c9c"/><stop offset="0.6136" stop-color="#9f9f9f"/><stop offset="0.6364" stop-color="#a0a0a0"/><stop offset="0.6591" stop-color="#a1a1a1"/><stop offset="0.6818" stop-color="#a2a2a2"/><stop offset="0.7045" stop-color="#a3a3a3"/><stop offset="1" stop-color="#a3a3a3"/></linearGradient><linearGradient id="hcg14" gradientUnits="userSpaceOnUse" x1="1534.5" y1="0" x2="2321.6" y2="0"><stop offset="0" stop-color="#a3a3a3"/><stop offset="0.2273" stop-color="#a3a3a3"/><stop offset="0.25" stop-color="#a2a2a2"/><stop offset="0.2955" stop-color="#a2a2a2"/><stop offset="0.3182" stop-color="#a1a1a1"/><stop offset="0.3409" stop-color="#a0a0a0"/><stop offset="0.3636" stop-color="#9e9e9e"/><stop offset="0.3864" stop-color="#9e9e9e"/><stop offset="0.4091" stop-color="#a0a0a0"/><stop offset="0.4318" stop-color="#a6a6a6"/><stop offset="0.4545" stop-color="#ababab"/><stop offset="0.4773" stop-color="#9f9f9f"/><stop offset="0.5" stop-color="#8e8e8e"/><stop offset="0.5227" stop-color="#969696"/><stop offset="0.5455" stop-color="#a7a7a7"/><stop offset="0.5682" stop-color="#acacac"/><stop offset="0.5909" stop-color="#a7a7a7"/><stop offset="0.6136" stop-color="#a2a2a2"/><stop offset="0.6364" stop-color="#a0a0a0"/><stop offset="0.6591" stop-color="#a0a0a0"/><stop offset="0.6818" stop-color="#a1a1a1"/><stop offset="0.7045" stop-color="#a2a2a2"/><stop offset="0.7273" stop-color="#a3a3a3"/><stop offset="1" stop-color="#a3a3a3"/></linearGradient><linearGradient id="hcg15" gradientUnits="userSpaceOnUse" x1="1534.5" y1="0" x2="2321.6" y2="0"><stop offset="0" stop-color="#a3a3a3"/><stop offset="0.2955" stop-color="#a3a3a3"/><stop offset="0.3182" stop-color="#a2a2a2"/><stop offset="0.3409" stop-color="#9f9f9f"/><stop offset="0.3636" stop-color="#9a9a9a"/><stop offset="0.3864" stop-color="#9a9a9a"/><stop offset="0.4091" stop-color="#a2a2a2"/><stop offset="0.4318" stop-color="#b3b3b3"/><stop offset="0.4545" stop-color="#c5c5c5"/><stop offset="0.4773" stop-color="#b9b9b9"/><stop offset="0.5" stop-color="#a6a6a6"/><stop offset="0.5227" stop-color="#acacac"/><stop offset="0.5455" stop-color="#bdbdbd"/><stop offset="0.5682" stop-color="#bfbfbf"/><stop offset="0.5909" stop-color="#b0b0b0"/><stop offset="0.6136" stop-color="#a3a3a3"/><stop offset="0.6364" stop-color="#9b9b9b"/><stop offset="0.6591" stop-color="#9a9a9a"/><stop offset="0.6818" stop-color="#9f9f9f"/><stop offset="0.7045" stop-color="#a2a2a2"/><stop offset="0.7273" stop-color="#a3a3a3"/><stop offset="1" stop-color="#a3a3a3"/></linearGradient><linearGradient id="hcg16" gradientUnits="userSpaceOnUse" x1="1534.5" y1="0" x2="2321.6" y2="0"><stop offset="0" stop-color="#a3a3a3"/><stop offset="0.2955" stop-color="#a3a3a3"/><stop offset="0.3182" stop-color="#a2a2a2"/><stop offset="0.3409" stop-color="#9f9f9f"/><stop offset="0.3636" stop-color="#979797"/><stop offset="0.3864" stop-color="#959595"/><stop offset="0.4091" stop-color="#a0a0a0"/><stop offset="0.4318" stop-color="#b4b4b4"/><stop offset="0.4545" stop-color="#cacaca"/><stop offset="0.4773" stop-color="#c0c0c0"/><stop offset="0.5" stop-color="#acacac"/><stop offset="0.5227" stop-color="#b1b1b1"/><stop offset="0.5455" stop-color="#c2c2c2"/><stop offset="0.5682" stop-color="#c2c2c2"/><stop offset="0.5909" stop-color="#b1b1b1"/><stop offset="0.6136" stop-color="#a1a1a1"/><stop offset="0.6364" stop-color="#969696"/><stop offset="0.6591" stop-color="#969696"/><stop offset="0.6818" stop-color="#9e9e9e"/><stop offset="0.7045" stop-color="#a2a2a2"/><stop offset="0.7273" stop-color="#a3a3a3"/><stop offset="1" stop-color="#a3a3a3"/></linearGradient><linearGradient id="hcg17" gradientUnits="userSpaceOnUse" x1="1534.5" y1="0" x2="2321.6" y2="0"><stop offset="0" stop-color="#a3a3a3"/><stop offset="0.3182" stop-color="#a3a3a3"/><stop offset="0.3409" stop-color="#a1a1a1"/><stop offset="0.3636" stop-color="#9a9a9a"/><stop offset="0.3864" stop-color="#949494"/><stop offset="0.4091" stop-color="#9c9c9c"/><stop offset="0.4318" stop-color="#b2b2b2"/><stop offset="0.4545" stop-color="#c9c9c9"/><stop offset="0.4773" stop-color="#c1c1c1"/><stop offset="0.5" stop-color="#aeaeae"/><stop offset="0.5227" stop-color="#b3b3b3"/><stop offset="0.5455" stop-color="#c2c2c2"/><stop offset="0.5682" stop-color="#c1c1c1"/><stop offset="0.5909" stop-color="#afafaf"/><stop offset="0.6136" stop-color="#9e9e9e"/><stop offset="0.6364" stop-color="#949494"/><stop offset="0.6591" stop-color="#989898"/><stop offset="0.6818" stop-color="#a0a0a0"/><stop offset="0.7045" stop-color="#a2a2a2"/><stop offset="0.7273" stop-color="#a3a3a3"/><stop offset="1" stop-color="#a3a3a3"/></linearGradient><linearGradient id="hcg18" gradientUnits="userSpaceOnUse" x1="1534.5" y1="0" x2="2321.6" y2="0"><stop offset="0" stop-color="#a3a3a3"/><stop offset="0.3182" stop-color="#a3a3a3"/><stop offset="0.3409" stop-color="#a2a2a2"/><stop offset="0.3636" stop-color="#9d9d9d"/><stop offset="0.3864" stop-color="#959595"/><stop offset="0.4091" stop-color="#999999"/><stop offset="0.4318" stop-color="#aeaeae"/><stop offset="0.4545" stop-color="#c7c7c7"/><stop offset="0.4773" stop-color="#c1c1c1"/><stop offset="0.5" stop-color="#afafaf"/><stop offset="0.5227" stop-color="#b3b3b3"/><stop offset="0.5455" stop-color="#c2c2c2"/><stop offset="0.5682" stop-color="#bfbfbf"/><stop offset="0.5909" stop-color="#acacac"/><stop offset="0.6136" stop-color="#9a9a9a"/><stop offset="0.6364" stop-color="#949494"/><stop offset="0.6591" stop-color="#9c9c9c"/><stop offset="0.6818" stop-color="#a1a1a1"/><stop offset="0.7045" stop-color="#a3a3a3"/><stop offset="1" stop-color="#a3a3a3"/></linearGradient><linearGradient id="hcg19" gradientUnits="userSpaceOnUse" x1="1534.5" y1="0" x2="2321.6" y2="0"><stop offset="0" stop-color="#a3a3a3"/><stop offset="0.3182" stop-color="#a3a3a3"/><stop offset="0.3409" stop-color="#a2a2a2"/><stop offset="0.3636" stop-color="#a0a0a0"/><stop offset="0.3864" stop-color="#979797"/><stop offset="0.4091" stop-color="#969696"/><stop offset="0.4318" stop-color="#a9a9a9"/><stop offset="0.4545" stop-color="#c3c3c3"/><stop offset="0.4773" stop-color="#c2c2c2"/><stop offset="0.5" stop-color="#b0b0b0"/><stop offset="0.5227" stop-color="#b4b4b4"/><stop offset="0.5455" stop-color="#c1c1c1"/><stop offset="0.5682" stop-color="#bcbcbc"/><stop offset="0.5909" stop-color="#a8a8a8"/><stop offset="0.6136" stop-color="#979797"/><stop offset="0.6364" stop-color="#969696"/><stop offset="0.6591" stop-color="#9f9f9f"/><stop offset="0.6818" stop-color="#a2a2a2"/><stop offset="0.7045" stop-color="#a3a3a3"/><stop offset="1" stop-color="#a3a3a3"/></linearGradient><linearGradient id="hcg20" gradientUnits="userSpaceOnUse" x1="1534.5" y1="0" x2="2321.6" y2="0"><stop offset="0" stop-color="#a2a2a2"/><stop offset="0.3409" stop-color="#a2a2a2"/><stop offset="0.3636" stop-color="#a1a1a1"/><stop offset="0.3864" stop-color="#9b9b9b"/><stop offset="0.4091" stop-color="#959595"/><stop offset="0.4318" stop-color="#a4a4a4"/><stop offset="0.4545" stop-color="#bfbfbf"/><stop offset="0.4773" stop-color="#c1c1c1"/><stop offset="0.5" stop-color="#b2b2b2"/><stop offset="0.5227" stop-color="#b5b5b5"/><stop offset="0.5455" stop-color="#c0c0c0"/><stop offset="0.5682" stop-color="#b8b8b8"/><stop offset="0.5909" stop-color="#a3a3a3"/><stop offset="0.6136" stop-color="#969696"/><stop offset="0.6364" stop-color="#9a9a9a"/><stop offset="0.6591" stop-color="#a1a1a1"/><stop offset="0.6818" stop-color="#a2a2a2"/><stop offset="1" stop-color="#a2a2a2"/></linearGradient><linearGradient id="hcg21" gradientUnits="userSpaceOnUse" x1="1534.5" y1="0" x2="2321.6" y2="0"><stop offset="0" stop-color="#a2a2a2"/><stop offset="0.3636" stop-color="#a2a2a2"/><stop offset="0.3864" stop-color="#9e9e9e"/><stop offset="0.4091" stop-color="#979797"/><stop offset="0.4318" stop-color="#9f9f9f"/><stop offset="0.4545" stop-color="#bababa"/><stop offset="0.4773" stop-color="#c1c1c1"/><stop offset="0.5" stop-color="#b3b3b3"/><stop offset="0.5227" stop-color="#b5b5b5"/><stop offset="0.5455" stop-color="#bebebe"/><stop offset="0.5682" stop-color="#b4b4b4"/><stop offset="0.5909" stop-color="#9f9f9f"/><stop offset="0.6136" stop-color="#969696"/><stop offset="0.6364" stop-color="#9d9d9d"/><stop offset="0.6591" stop-color="#a2a2a2"/><stop offset="1" stop-color="#a2a2a2"/></linearGradient><linearGradient id="hcg22" gradientUnits="userSpaceOnUse" x1="1534.5" y1="0" x2="2321.6" y2="0"><stop offset="0" stop-color="#a2a2a2"/><stop offset="0.3636" stop-color="#a2a2a2"/><stop offset="0.3864" stop-color="#9f9f9f"/><stop offset="0.4091" stop-color="#989898"/><stop offset="0.4318" stop-color="#9d9d9d"/><stop offset="0.4545" stop-color="#b6b6b6"/><stop offset="0.4773" stop-color="#c0c0c0"/><stop offset="0.5" stop-color="#b5b5b5"/><stop offset="0.5227" stop-color="#b6b6b6"/><stop offset="0.5455" stop-color="#bdbdbd"/><stop offset="0.5682" stop-color="#b1b1b1"/><stop offset="0.5909" stop-color="#9d9d9d"/><stop offset="0.6136" stop-color="#989898"/><stop offset="0.6364" stop-color="#9e9e9e"/><stop offset="0.6591" stop-color="#a2a2a2"/><stop offset="1" stop-color="#a2a2a2"/></linearGradient><linearGradient id="hcg23" gradientUnits="userSpaceOnUse" x1="1534.5" y1="0" x2="2321.6" y2="0"><stop offset="0" stop-color="#a2a2a2"/><stop offset="0.3636" stop-color="#a2a2a2"/><stop offset="0.3864" stop-color="#a0a0a0"/><stop offset="0.4091" stop-color="#999999"/><stop offset="0.4318" stop-color="#9b9b9b"/><stop offset="0.4545" stop-color="#b2b2b2"/><stop offset="0.4773" stop-color="#c0c0c0"/><stop offset="0.5" stop-color="#b6b6b6"/><stop offset="0.5227" stop-color="#b7b7b7"/><stop offset="0.5455" stop-color="#bcbcbc"/><stop offset="0.5682" stop-color="#aeaeae"/><stop offset="0.5909" stop-color="#9b9b9b"/><stop offset="0.6136" stop-color="#999999"/><stop offset="0.6364" stop-color="#9f9f9f"/><stop offset="0.6591" stop-color="#a2a2a2"/><stop offset="1" stop-color="#a2a2a2"/></linearGradient><linearGradient id="hcg24" gradientUnits="userSpaceOnUse" x1="1534.5" y1="0" x2="2321.6" y2="0"><stop offset="0" stop-color="#a2a2a2"/><stop offset="0.3636" stop-color="#a2a2a2"/><stop offset="0.3864" stop-color="#a0a0a0"/><stop offset="0.4091" stop-color="#9a9a9a"/><stop offset="0.4318" stop-color="#9a9a9a"/><stop offset="0.4545" stop-color="#b1b1b1"/><stop offset="0.4773" stop-color="#c0c0c0"/><stop offset="0.5" stop-color="#b8b8b8"/><stop offset="0.5227" stop-color="#b8b8b8"/><stop offset="0.5455" stop-color="#bbbbbb"/><stop offset="0.5682" stop-color="#adadad"/><stop offset="0.5909" stop-color="#9a9a9a"/><stop offset="0.6136" stop-color="#999999"/><stop offset="0.6364" stop-color="#9f9f9f"/><stop offset="0.6591" stop-color="#a2a2a2"/><stop offset="1" stop-color="#a2a2a2"/></linearGradient><linearGradient id="hcg25" gradientUnits="userSpaceOnUse" x1="1534.5" y1="0" x2="2321.6" y2="0"><stop offset="0" stop-color="#a2a2a2"/><stop offset="0.3636" stop-color="#a2a2a2"/><stop offset="0.3864" stop-color="#a0a0a0"/><stop offset="0.4091" stop-color="#9b9b9b"/><stop offset="0.4318" stop-color="#999999"/><stop offset="0.4545" stop-color="#aeaeae"/><stop offset="0.4773" stop-color="#bfbfbf"/><stop offset="0.5" stop-color="#b9b9b9"/><stop offset="0.5227" stop-color="#b8b8b8"/><stop offset="0.5455" stop-color="#bababa"/><stop offset="0.5682" stop-color="#aaaaaa"/><stop offset="0.5909" stop-color="#999999"/><stop offset="0.6136" stop-color="#9a9a9a"/><stop offset="0.6364" stop-color="#a0a0a0"/><stop offset="0.6591" stop-color="#a2a2a2"/><stop offset="1" stop-color="#a2a2a2"/></linearGradient><linearGradient id="hcg26" gradientUnits="userSpaceOnUse" x1="1534.5" y1="0" x2="2321.6" y2="0"><stop offset="0" stop-color="#a2a2a2"/><stop offset="0.3636" stop-color="#a2a2a2"/><stop offset="0.3864" stop-color="#a1a1a1"/><stop offset="0.4091" stop-color="#9c9c9c"/><stop offset="0.4318" stop-color="#999999"/><stop offset="0.4545" stop-color="#aaaaaa"/><stop offset="0.4773" stop-color="#bcbcbc"/><stop offset="0.5" stop-color="#b8b8b8"/><stop offset="0.5227" stop-color="#b7b7b7"/><stop offset="0.5455" stop-color="#b7b7b7"/><stop offset="0.5682" stop-color="#a7a7a7"/><stop offset="0.5909" stop-color="#999999"/><stop offset="0.6136" stop-color="#9b9b9b"/><stop offset="0.6364" stop-color="#a1a1a1"/><stop offset="0.6591" stop-color="#a2a2a2"/><stop offset="1" stop-color="#a2a2a2"/></linearGradient><linearGradient id="hcg27" gradientUnits="userSpaceOnUse" x1="1534.5" y1="0" x2="2321.6" y2="0"><stop offset="0" stop-color="#a2a2a2"/><stop offset="0.3636" stop-color="#a2a2a2"/><stop offset="0.3864" stop-color="#a1a1a1"/><stop offset="0.4091" stop-color="#9e9e9e"/><stop offset="0.4318" stop-color="#9a9a9a"/><stop offset="0.4545" stop-color="#a6a6a6"/><stop offset="0.4773" stop-color="#b9b9b9"/><stop offset="0.5" stop-color="#b7b7b7"/><stop offset="0.5227" stop-color="#b6b6b6"/><stop offset="0.5455" stop-color="#b4b4b4"/><stop offset="0.5682" stop-color="#a4a4a4"/><stop offset="0.5909" stop-color="#999999"/><stop offset="0.6136" stop-color="#9d9d9d"/><stop offset="0.6364" stop-color="#a1a1a1"/><stop offset="0.6591" stop-color="#a2a2a2"/><stop offset="1" stop-color="#a2a2a2"/></linearGradient><linearGradient id="hcg28" gradientUnits="userSpaceOnUse" x1="1534.5" y1="0" x2="2321.6" y2="0"><stop offset="0" stop-color="#a2a2a2"/><stop offset="0.3864" stop-color="#a2a2a2"/><stop offset="0.4091" stop-color="#a0a0a0"/><stop offset="0.4318" stop-color="#9c9c9c"/><stop offset="0.4545" stop-color="#a4a4a4"/><stop offset="0.4773" stop-color="#b5b5b5"/><stop offset="0.5" stop-color="#b5b5b5"/><stop offset="0.5227" stop-color="#b4b4b4"/><stop offset="0.5455" stop-color="#b1b1b1"/><stop offset="0.5682" stop-color="#a2a2a2"/><stop offset="0.5909" stop-color="#9b9b9b"/><stop offset="0.6136" stop-color="#9f9f9f"/><stop offset="0.6364" stop-color="#a1a1a1"/><stop offset="0.6591" stop-color="#a2a2a2"/><stop offset="1" stop-color="#a2a2a2"/></linearGradient><linearGradient id="hcg29" gradientUnits="userSpaceOnUse" x1="1534.5" y1="0" x2="2321.6" y2="0"><stop offset="0" stop-color="#a2a2a2"/><stop offset="0.3864" stop-color="#a2a2a2"/><stop offset="0.4091" stop-color="#a1a1a1"/><stop offset="0.4318" stop-color="#9e9e9e"/><stop offset="0.4545" stop-color="#a3a3a3"/><stop offset="0.4773" stop-color="#b2b2b2"/><stop offset="0.5" stop-color="#b4b4b4"/><stop offset="0.5227" stop-color="#b3b3b3"/><stop offset="0.5455" stop-color="#aeaeae"/><stop offset="0.5682" stop-color="#a0a0a0"/><stop offset="0.5909" stop-color="#9d9d9d"/><stop offset="0.6136" stop-color="#a0a0a0"/><stop offset="0.6364" stop-color="#a2a2a2"/><stop offset="1" stop-color="#a2a2a2"/></linearGradient><linearGradient id="hcg30" gradientUnits="userSpaceOnUse" x1="1534.5" y1="0" x2="2321.6" y2="0"><stop offset="0" stop-color="#a2a2a2"/><stop offset="0.3864" stop-color="#a2a2a2"/><stop offset="0.4091" stop-color="#a1a1a1"/><stop offset="0.4318" stop-color="#9f9f9f"/><stop offset="0.4545" stop-color="#a3a3a3"/><stop offset="0.4773" stop-color="#b0b0b0"/><stop offset="0.5" stop-color="#b5b5b5"/><stop offset="0.5227" stop-color="#b3b3b3"/><stop offset="0.5455" stop-color="#acacac"/><stop offset="0.5682" stop-color="#a0a0a0"/><stop offset="0.5909" stop-color="#9e9e9e"/><stop offset="0.6136" stop-color="#a1a1a1"/><stop offset="0.6364" stop-color="#a2a2a2"/><stop offset="1" stop-color="#a2a2a2"/></linearGradient><linearGradient id="hcg31" gradientUnits="userSpaceOnUse" x1="1534.5" y1="0" x2="2321.6" y2="0"><stop offset="0" stop-color="#a2a2a2"/><stop offset="0.3864" stop-color="#a2a2a2"/><stop offset="0.4091" stop-color="#a1a1a1"/><stop offset="0.4318" stop-color="#a0a0a0"/><stop offset="0.4545" stop-color="#a2a2a2"/><stop offset="0.4773" stop-color="#afafaf"/><stop offset="0.5" stop-color="#b5b5b5"/><stop offset="0.5227" stop-color="#b3b3b3"/><stop offset="0.5455" stop-color="#aaaaaa"/><stop offset="0.5682" stop-color="#a0a0a0"/><stop offset="0.5909" stop-color="#9f9f9f"/><stop offset="0.6136" stop-color="#a1a1a1"/><stop offset="0.6364" stop-color="#a2a2a2"/><stop offset="1" stop-color="#a2a2a2"/></linearGradient><linearGradient id="hcg32" gradientUnits="userSpaceOnUse" x1="1534.5" y1="0" x2="2321.6" y2="0"><stop offset="0" stop-color="#a2a2a2"/><stop offset="0.3636" stop-color="#a2a2a2"/><stop offset="0.3864" stop-color="#a1a1a1"/><stop offset="0.4091" stop-color="#a1a1a1"/><stop offset="0.4318" stop-color="#9f9f9f"/><stop offset="0.4545" stop-color="#a0a0a0"/><stop offset="0.4773" stop-color="#ababab"/><stop offset="0.5" stop-color="#b3b3b3"/><stop offset="0.5227" stop-color="#b1b1b1"/><stop offset="0.5455" stop-color="#a7a7a7"/><stop offset="0.5682" stop-color="#9e9e9e"/><stop offset="0.5909" stop-color="#9f9f9f"/><stop offset="0.6136" stop-color="#a1a1a1"/><stop offset="0.6364" stop-color="#a2a2a2"/><stop offset="1" stop-color="#a2a2a2"/></linearGradient><linearGradient id="hcg33" gradientUnits="userSpaceOnUse" x1="1534.5" y1="0" x2="2321.6" y2="0"><stop offset="0" stop-color="#a2a2a2"/><stop offset="0.3182" stop-color="#a2a2a2"/><stop offset="0.3409" stop-color="#a1a1a1"/><stop offset="0.3636" stop-color="#a1a1a1"/><stop offset="0.3864" stop-color="#a0a0a0"/><stop offset="0.4091" stop-color="#9f9f9f"/><stop offset="0.4318" stop-color="#9d9d9d"/><stop offset="0.4545" stop-color="#9c9c9c"/><stop offset="0.4773" stop-color="#a4a4a4"/><stop offset="0.5" stop-color="#adadad"/><stop offset="0.5227" stop-color="#acacac"/><stop offset="0.5455" stop-color="#a3a3a3"/><stop offset="0.5682" stop-color="#9d9d9d"/><stop offset="0.5909" stop-color="#9f9f9f"/><stop offset="0.6136" stop-color="#a1a1a1"/><stop offset="0.6364" stop-color="#a2a2a2"/><stop offset="1" stop-color="#a2a2a2"/></linearGradient><linearGradient id="hcg34" gradientUnits="userSpaceOnUse" x1="1534.5" y1="0" x2="2321.6" y2="0"><stop offset="0" stop-color="#a2a2a2"/><stop offset="0.2727" stop-color="#a2a2a2"/><stop offset="0.2955" stop-color="#a1a1a1"/><stop offset="0.3409" stop-color="#a1a1a1"/><stop offset="0.3636" stop-color="#a0a0a0"/><stop offset="0.3864" stop-color="#9e9e9e"/><stop offset="0.4091" stop-color="#9c9c9c"/><stop offset="0.4318" stop-color="#999999"/><stop offset="0.4545" stop-color="#979797"/><stop offset="0.4773" stop-color="#9e9e9e"/><stop offset="0.5" stop-color="#a6a6a6"/><stop offset="0.5227" stop-color="#a6a6a6"/><stop offset="0.5455" stop-color="#a0a0a0"/><stop offset="0.5682" stop-color="#9c9c9c"/><stop offset="0.5909" stop-color="#9e9e9e"/><stop offset="0.6136" stop-color="#a1a1a1"/><stop offset="0.6364" stop-color="#a1a1a1"/><stop offset="0.6591" stop-color="#a2a2a2"/><stop offset="1" stop-color="#a2a2a2"/></linearGradient><linearGradient id="hcg35" gradientUnits="userSpaceOnUse" x1="1534.5" y1="0" x2="2321.6" y2="0"><stop offset="0" stop-color="#a1a1a1"/><stop offset="0.3182" stop-color="#a1a1a1"/><stop offset="0.3409" stop-color="#a0a0a0"/><stop offset="0.3636" stop-color="#9f9f9f"/><stop offset="0.3864" stop-color="#9c9c9c"/><stop offset="0.4091" stop-color="#999999"/><stop offset="0.4318" stop-color="#969696"/><stop offset="0.4545" stop-color="#939393"/><stop offset="0.4773" stop-color="#989898"/><stop offset="0.5" stop-color="#9f9f9f"/><stop offset="0.5227" stop-color="#a1a1a1"/><stop offset="0.5455" stop-color="#9e9e9e"/><stop offset="0.5682" stop-color="#9c9c9c"/><stop offset="0.5909" stop-color="#9f9f9f"/><stop offset="0.6136" stop-color="#a1a1a1"/><stop offset="1" stop-color="#a1a1a1"/></linearGradient><linearGradient id="hcg36" gradientUnits="userSpaceOnUse" x1="1534.5" y1="0" x2="2321.6" y2="0"><stop offset="0" stop-color="#a1a1a1"/><stop offset="0.3182" stop-color="#a1a1a1"/><stop offset="0.3409" stop-color="#a0a0a0"/><stop offset="0.3636" stop-color="#9e9e9e"/><stop offset="0.3864" stop-color="#9b9b9b"/><stop offset="0.4091" stop-color="#979797"/><stop offset="0.4318" stop-color="#939393"/><stop offset="0.4545" stop-color="#919191"/><stop offset="0.4773" stop-color="#959595"/><stop offset="0.5" stop-color="#9b9b9b"/><stop offset="0.5227" stop-color="#9e9e9e"/><stop offset="0.5455" stop-color="#9d9d9d"/><stop offset="0.5682" stop-color="#9d9d9d"/><stop offset="0.5909" stop-color="#9f9f9f"/><stop offset="0.6136" stop-color="#a1a1a1"/><stop offset="1" stop-color="#a1a1a1"/></linearGradient><linearGradient id="hcg37" gradientUnits="userSpaceOnUse" x1="1534.5" y1="0" x2="2321.6" y2="0"><stop offset="0" stop-color="#a1a1a1"/><stop offset="0.3182" stop-color="#a1a1a1"/><stop offset="0.3409" stop-color="#a0a0a0"/><stop offset="0.3636" stop-color="#9e9e9e"/><stop offset="0.3864" stop-color="#9a9a9a"/><stop offset="0.4091" stop-color="#969696"/><stop offset="0.4318" stop-color="#929292"/><stop offset="0.4545" stop-color="#929292"/><stop offset="0.4773" stop-color="#959595"/><stop offset="0.5" stop-color="#9b9b9b"/><stop offset="0.5227" stop-color="#9e9e9e"/><stop offset="0.5682" stop-color="#9e9e9e"/><stop offset="0.5909" stop-color="#a0a0a0"/><stop offset="0.6136" stop-color="#a1a1a1"/><stop offset="0.6364" stop-color="#a1a1a1"/><stop offset="0.6591" stop-color="#a2a2a2"/><stop offset="0.7273" stop-color="#a2a2a2"/><stop offset="0.75" stop-color="#a1a1a1"/><stop offset="1" stop-color="#a1a1a1"/></linearGradient><linearGradient id="hcg38" gradientUnits="userSpaceOnUse" x1="1534.5" y1="0" x2="2321.6" y2="0"><stop offset="0" stop-color="#a1a1a1"/><stop offset="0.2273" stop-color="#a1a1a1"/><stop offset="0.25" stop-color="#a2a2a2"/><stop offset="0.2955" stop-color="#a2a2a2"/><stop offset="0.3182" stop-color="#a1a1a1"/><stop offset="0.3409" stop-color="#a0a0a0"/><stop offset="0.3636" stop-color="#9e9e9e"/><stop offset="0.3864" stop-color="#9a9a9a"/><stop offset="0.4091" stop-color="#959595"/><stop offset="0.4318" stop-color="#939393"/><stop offset="0.4545" stop-color="#939393"/><stop offset="0.4773" stop-color="#969696"/><stop offset="0.5" stop-color="#9b9b9b"/><stop offset="0.5227" stop-color="#9e9e9e"/><stop offset="0.5455" stop-color="#9f9f9f"/><stop offset="0.5682" stop-color="#a0a0a0"/><stop offset="0.5909" stop-color="#a0a0a0"/><stop offset="0.6136" stop-color="#a1a1a1"/><stop offset="0.6364" stop-color="#a2a2a2"/><stop offset="0.6591" stop-color="#a3a3a3"/><stop offset="0.7045" stop-color="#a3a3a3"/><stop offset="0.7273" stop-color="#a2a2a2"/><stop offset="0.75" stop-color="#a2a2a2"/><stop offset="0.7727" stop-color="#a1a1a1"/><stop offset="1" stop-color="#a1a1a1"/></linearGradient><linearGradient id="hcg39" gradientUnits="userSpaceOnUse" x1="1534.5" y1="0" x2="2321.6" y2="0"><stop offset="0" stop-color="#a1a1a1"/><stop offset="0.2273" stop-color="#a1a1a1"/><stop offset="0.25" stop-color="#a2a2a2"/><stop offset="0.2727" stop-color="#a2a2a2"/><stop offset="0.2955" stop-color="#a3a3a3"/><stop offset="0.3182" stop-color="#a2a2a2"/><stop offset="0.3409" stop-color="#a0a0a0"/><stop offset="0.3636" stop-color="#9e9e9e"/><stop offset="0.3864" stop-color="#9a9a9a"/><stop offset="0.4091" stop-color="#959595"/><stop offset="0.4318" stop-color="#939393"/><stop offset="0.4545" stop-color="#939393"/><stop offset="0.4773" stop-color="#979797"/><stop offset="0.5" stop-color="#9b9b9b"/><stop offset="0.5227" stop-color="#9e9e9e"/><stop offset="0.5455" stop-color="#a0a0a0"/><stop offset="0.5682" stop-color="#a0a0a0"/><stop offset="0.5909" stop-color="#a1a1a1"/><stop offset="0.6136" stop-color="#a2a2a2"/><stop offset="0.6364" stop-color="#a3a3a3"/><stop offset="0.6591" stop-color="#a4a4a4"/><stop offset="0.7045" stop-color="#a4a4a4"/><stop offset="0.7273" stop-color="#a3a3a3"/><stop offset="0.75" stop-color="#a2a2a2"/><stop offset="0.7727" stop-color="#a1a1a1"/><stop offset="1" stop-color="#a1a1a1"/></linearGradient><linearGradient id="hcg40" gradientUnits="userSpaceOnUse" x1="1534.5" y1="0" x2="2321.6" y2="0"><stop offset="0" stop-color="#a0a0a0"/><stop offset="0.1591" stop-color="#a0a0a0"/><stop offset="0.1818" stop-color="#a1a1a1"/><stop offset="0.2045" stop-color="#a1a1a1"/><stop offset="0.2273" stop-color="#a2a2a2"/><stop offset="0.25" stop-color="#a3a3a3"/><stop offset="0.3182" stop-color="#a3a3a3"/><stop offset="0.3409" stop-color="#a1a1a1"/><stop offset="0.3636" stop-color="#9e9e9e"/><stop offset="0.3864" stop-color="#9a9a9a"/><stop offset="0.4091" stop-color="#959595"/><stop offset="0.4318" stop-color="#929292"/><stop offset="0.4545" stop-color="#939393"/><stop offset="0.4773" stop-color="#979797"/><stop offset="0.5" stop-color="#9b9b9b"/><stop offset="0.5227" stop-color="#9d9d9d"/><stop offset="0.5455" stop-color="#9f9f9f"/><stop offset="0.5682" stop-color="#a0a0a0"/><stop offset="0.5909" stop-color="#a1a1a1"/><stop offset="0.6136" stop-color="#a2a2a2"/><stop offset="0.6364" stop-color="#a3a3a3"/><stop offset="0.6591" stop-color="#a5a5a5"/><stop offset="0.6818" stop-color="#a6a6a6"/><stop offset="0.7045" stop-color="#a6a6a6"/><stop offset="0.7273" stop-color="#a4a4a4"/><stop offset="0.75" stop-color="#a3a3a3"/><stop offset="0.7727" stop-color="#a1a1a1"/><stop offset="0.7955" stop-color="#a1a1a1"/><stop offset="0.8182" stop-color="#a0a0a0"/><stop offset="1" stop-color="#a0a0a0"/></linearGradient><linearGradient id="hcg41" gradientUnits="userSpaceOnUse" x1="1534.5" y1="0" x2="2321.6" y2="0"><stop offset="0" stop-color="#a0a0a0"/><stop offset="0.1818" stop-color="#a0a0a0"/><stop offset="0.2045" stop-color="#a1a1a1"/><stop offset="0.2273" stop-color="#a2a2a2"/><stop offset="0.25" stop-color="#a3a3a3"/><stop offset="0.2727" stop-color="#a4a4a4"/><stop offset="0.2955" stop-color="#a4a4a4"/><stop offset="0.3182" stop-color="#a3a3a3"/><stop offset="0.3409" stop-color="#a1a1a1"/><stop offset="0.3636" stop-color="#9e9e9e"/><stop offset="0.3864" stop-color="#999999"/><stop offset="0.4091" stop-color="#959595"/><stop offset="0.4318" stop-color="#929292"/><stop offset="0.4545" stop-color="#939393"/><stop offset="0.4773" stop-color="#969696"/><stop offset="0.5" stop-color="#999999"/><stop offset="0.5227" stop-color="#9a9a9a"/><stop offset="0.5455" stop-color="#9c9c9c"/><stop offset="0.5682" stop-color="#9f9f9f"/><stop offset="0.5909" stop-color="#a0a0a0"/><stop offset="0.6136" stop-color="#a2a2a2"/><stop offset="0.6364" stop-color="#a4a4a4"/><stop offset="0.6591" stop-color="#a6a6a6"/><stop offset="0.6818" stop-color="#a8a8a8"/><stop offset="0.7045" stop-color="#a8a8a8"/><stop offset="0.7273" stop-color="#a6a6a6"/><stop offset="0.75" stop-color="#a4a4a4"/><stop offset="0.7727" stop-color="#a2a2a2"/><stop offset="0.7955" stop-color="#a1a1a1"/><stop offset="0.8182" stop-color="#a0a0a0"/><stop offset="1" stop-color="#a0a0a0"/></linearGradient><linearGradient id="hcg42" gradientUnits="userSpaceOnUse" x1="1534.5" y1="0" x2="2321.6" y2="0"><stop offset="0" stop-color="#a0a0a0"/><stop offset="0.1818" stop-color="#a0a0a0"/><stop offset="0.2045" stop-color="#a1a1a1"/><stop offset="0.2273" stop-color="#a3a3a3"/><stop offset="0.25" stop-color="#a4a4a4"/><stop offset="0.2727" stop-color="#a5a5a5"/><stop offset="0.2955" stop-color="#a5a5a5"/><stop offset="0.3182" stop-color="#a4a4a4"/><stop offset="0.3409" stop-color="#a1a1a1"/><stop offset="0.3636" stop-color="#9e9e9e"/><stop offset="0.3864" stop-color="#999999"/><stop offset="0.4091" stop-color="#959595"/><stop offset="0.4318" stop-color="#929292"/><stop offset="0.4545" stop-color="#939393"/><stop offset="0.4773" stop-color="#969696"/><stop offset="0.5" stop-color="#989898"/><stop offset="0.5227" stop-color="#959595"/><stop offset="0.5455" stop-color="#989898"/><stop offset="0.5682" stop-color="#9d9d9d"/><stop offset="0.5909" stop-color="#9e9e9e"/><stop offset="0.6136" stop-color="#9f9f9f"/><stop offset="0.6364" stop-color="#a1a1a1"/><stop offset="0.6591" stop-color="#a5a5a5"/><stop offset="0.6818" stop-color="#a8a8a8"/><stop offset="0.7045" stop-color="#a9a9a9"/><stop offset="0.7273" stop-color="#a8a8a8"/><stop offset="0.75" stop-color="#a5a5a5"/><stop offset="0.7727" stop-color="#a2a2a2"/><stop offset="0.7955" stop-color="#a1a1a1"/><stop offset="0.8182" stop-color="#a0a0a0"/><stop offset="1" stop-color="#a0a0a0"/></linearGradient><linearGradient id="hcg43" gradientUnits="userSpaceOnUse" x1="1534.5" y1="0" x2="2321.6" y2="0"><stop offset="0" stop-color="#9f9f9f"/><stop offset="0.1136" stop-color="#9f9f9f"/><stop offset="0.1364" stop-color="#a0a0a0"/><stop offset="0.1591" stop-color="#a0a0a0"/><stop offset="0.1818" stop-color="#a1a1a1"/><stop offset="0.2045" stop-color="#a2a2a2"/><stop offset="0.2273" stop-color="#a4a4a4"/><stop offset="0.25" stop-color="#a5a5a5"/><stop offset="0.2727" stop-color="#a6a6a6"/><stop offset="0.2955" stop-color="#a6a6a6"/><stop offset="0.3182" stop-color="#a4a4a4"/><stop offset="0.3409" stop-color="#a1a1a1"/><stop offset="0.3636" stop-color="#9d9d9d"/><stop offset="0.3864" stop-color="#999999"/><stop offset="0.4091" stop-color="#949494"/><stop offset="0.4318" stop-color="#929292"/><stop offset="0.4545" stop-color="#929292"/><stop offset="0.4773" stop-color="#969696"/><stop offset="0.5" stop-color="#969696"/><stop offset="0.5227" stop-color="#929292"/><stop offset="0.5455" stop-color="#949494"/><stop offset="0.5682" stop-color="#9a9a9a"/><stop offset="0.5909" stop-color="#989898"/><stop offset="0.6136" stop-color="#989898"/><stop offset="0.6364" stop-color="#9b9b9b"/><stop offset="0.6591" stop-color="#a0a0a0"/><stop offset="0.6818" stop-color="#a6a6a6"/><stop offset="0.7045" stop-color="#a9a9a9"/><stop offset="0.7273" stop-color="#a9a9a9"/><stop offset="0.75" stop-color="#a7a7a7"/><stop offset="0.7727" stop-color="#a4a4a4"/><stop offset="0.7955" stop-color="#a1a1a1"/><stop offset="0.8182" stop-color="#a0a0a0"/><stop offset="0.8409" stop-color="#a0a0a0"/><stop offset="0.8636" stop-color="#9f9f9f"/><stop offset="1" stop-color="#9f9f9f"/></linearGradient><linearGradient id="hcg44" gradientUnits="userSpaceOnUse" x1="1534.5" y1="0" x2="2321.6" y2="0"><stop offset="0" stop-color="#9f9f9f"/><stop offset="0.1364" stop-color="#9f9f9f"/><stop offset="0.1591" stop-color="#a0a0a0"/><stop offset="0.1818" stop-color="#a1a1a1"/><stop offset="0.2045" stop-color="#a3a3a3"/><stop offset="0.2273" stop-color="#a5a5a5"/><stop offset="0.25" stop-color="#a7a7a7"/><stop offset="0.2727" stop-color="#a7a7a7"/><stop offset="0.2955" stop-color="#a6a6a6"/><stop offset="0.3182" stop-color="#a3a3a3"/><stop offset="0.3409" stop-color="#9f9f9f"/><stop offset="0.3636" stop-color="#9b9b9b"/><stop offset="0.3864" stop-color="#969696"/><stop offset="0.4091" stop-color="#939393"/><stop offset="0.4318" stop-color="#929292"/><stop offset="0.4545" stop-color="#939393"/><stop offset="0.4773" stop-color="#969696"/><stop offset="0.5" stop-color="#979797"/><stop offset="0.5227" stop-color="#929292"/><stop offset="0.5455" stop-color="#949494"/><stop offset="0.5682" stop-color="#999999"/><stop offset="0.5909" stop-color="#959595"/><stop offset="0.6136" stop-color="#909090"/><stop offset="0.6364" stop-color="#919191"/><stop offset="0.6591" stop-color="#989898"/><stop offset="0.6818" stop-color="#a0a0a0"/><stop offset="0.7045" stop-color="#a7a7a7"/><stop offset="0.7273" stop-color="#a9a9a9"/><stop offset="0.75" stop-color="#a8a8a8"/><stop offset="0.7727" stop-color="#a5a5a5"/><stop offset="0.7955" stop-color="#a2a2a2"/><stop offset="0.8182" stop-color="#a0a0a0"/><stop offset="0.8409" stop-color="#9f9f9f"/><stop offset="1" stop-color="#9f9f9f"/></linearGradient><linearGradient id="hcg45" gradientUnits="userSpaceOnUse" x1="1534.5" y1="0" x2="2321.6" y2="0"><stop offset="0" stop-color="#9f9f9f"/><stop offset="0.1364" stop-color="#9f9f9f"/><stop offset="0.1591" stop-color="#a0a0a0"/><stop offset="0.1818" stop-color="#a1a1a1"/><stop offset="0.2045" stop-color="#a3a3a3"/><stop offset="0.2273" stop-color="#a6a6a6"/><stop offset="0.25" stop-color="#a7a7a7"/><stop offset="0.2727" stop-color="#a7a7a7"/><stop offset="0.2955" stop-color="#a5a5a5"/><stop offset="0.3182" stop-color="#a0a0a0"/><stop offset="0.3409" stop-color="#9b9b9b"/><stop offset="0.3636" stop-color="#969696"/><stop offset="0.3864" stop-color="#939393"/><stop offset="0.4091" stop-color="#929292"/><stop offset="0.4318" stop-color="#939393"/><stop offset="0.4545" stop-color="#969696"/><stop offset="0.4773" stop-color="#999999"/><stop offset="0.5" stop-color="#999999"/><stop offset="0.5227" stop-color="#959595"/><stop offset="0.5455" stop-color="#979797"/><stop offset="0.5682" stop-color="#9a9a9a"/><stop offset="0.5909" stop-color="#959595"/><stop offset="0.6136" stop-color="#8b8b8b"/><stop offset="0.6364" stop-color="#898989"/><stop offset="0.6591" stop-color="#8f8f8f"/><stop offset="0.6818" stop-color="#999999"/><stop offset="0.7045" stop-color="#a2a2a2"/><stop offset="0.7273" stop-color="#a8a8a8"/><stop offset="0.75" stop-color="#a9a9a9"/><stop offset="0.7727" stop-color="#a6a6a6"/><stop offset="0.7955" stop-color="#a3a3a3"/><stop offset="0.8182" stop-color="#a1a1a1"/><stop offset="0.8409" stop-color="#9f9f9f"/><stop offset="1" stop-color="#9f9f9f"/></linearGradient><linearGradient id="hcg46" gradientUnits="userSpaceOnUse" x1="1534.5" y1="0" x2="2321.6" y2="0"><stop offset="0" stop-color="#9f9f9f"/><stop offset="0.1364" stop-color="#9f9f9f"/><stop offset="0.1591" stop-color="#a0a0a0"/><stop offset="0.1818" stop-color="#a2a2a2"/><stop offset="0.2045" stop-color="#a4a4a4"/><stop offset="0.2273" stop-color="#a7a7a7"/><stop offset="0.25" stop-color="#a8a8a8"/><stop offset="0.2727" stop-color="#a7a7a7"/><stop offset="0.2955" stop-color="#a3a3a3"/><stop offset="0.3182" stop-color="#9d9d9d"/><stop offset="0.3409" stop-color="#979797"/><stop offset="0.3636" stop-color="#919191"/><stop offset="0.3864" stop-color="#909090"/><stop offset="0.4091" stop-color="#919191"/><stop offset="0.4318" stop-color="#959595"/><stop offset="0.4545" stop-color="#989898"/><stop offset="0.4773" stop-color="#9b9b9b"/><stop offset="0.5" stop-color="#9c9c9c"/><stop offset="0.5227" stop-color="#9a9a9a"/><stop offset="0.5455" stop-color="#9b9b9b"/><stop offset="0.5682" stop-color="#9c9c9c"/><stop offset="0.5909" stop-color="#979797"/><stop offset="0.6136" stop-color="#8c8c8c"/><stop offset="0.6364" stop-color="#868686"/><stop offset="0.6591" stop-color="#8a8a8a"/><stop offset="0.6818" stop-color="#949494"/><stop offset="0.7045" stop-color="#9e9e9e"/><stop offset="0.7273" stop-color="#a6a6a6"/><stop offset="0.75" stop-color="#a8a8a8"/><stop offset="0.7727" stop-color="#a7a7a7"/><stop offset="0.7955" stop-color="#a3a3a3"/><stop offset="0.8182" stop-color="#a1a1a1"/><stop offset="0.8409" stop-color="#9f9f9f"/><stop offset="1" stop-color="#9f9f9f"/></linearGradient><linearGradient id="hcg47" gradientUnits="userSpaceOnUse" x1="1534.5" y1="0" x2="2321.6" y2="0"><stop offset="0" stop-color="#9e9e9e"/><stop offset="0.1136" stop-color="#9e9e9e"/><stop offset="0.1364" stop-color="#9f9f9f"/><stop offset="0.1591" stop-color="#a0a0a0"/><stop offset="0.1818" stop-color="#a2a2a2"/><stop offset="0.2045" stop-color="#a5a5a5"/><stop offset="0.2273" stop-color="#a7a7a7"/><stop offset="0.25" stop-color="#a8a8a8"/><stop offset="0.2727" stop-color="#a6a6a6"/><stop offset="0.2955" stop-color="#a1a1a1"/><stop offset="0.3182" stop-color="#9a9a9a"/><stop offset="0.3409" stop-color="#939393"/><stop offset="0.3636" stop-color="#8e8e8e"/><stop offset="0.3864" stop-color="#8e8e8e"/><stop offset="0.4091" stop-color="#919191"/><stop offset="0.4318" stop-color="#969696"/><stop offset="0.4545" stop-color="#9a9a9a"/><stop offset="0.4773" stop-color="#9d9d9d"/><stop offset="0.5" stop-color="#9e9e9e"/><stop offset="0.5455" stop-color="#9e9e9e"/><stop offset="0.5682" stop-color="#9d9d9d"/><stop offset="0.5909" stop-color="#979797"/><stop offset="0.6136" stop-color="#8b8b8b"/><stop offset="0.6364" stop-color="#808080"/><stop offset="0.6591" stop-color="#838383"/><stop offset="0.6818" stop-color="#8d8d8d"/><stop offset="0.7045" stop-color="#9a9a9a"/><stop offset="0.7273" stop-color="#a3a3a3"/><stop offset="0.75" stop-color="#a7a7a7"/><stop offset="0.7727" stop-color="#a6a6a6"/><stop offset="0.7955" stop-color="#a4a4a4"/><stop offset="0.8182" stop-color="#a1a1a1"/><stop offset="0.8409" stop-color="#9f9f9f"/><stop offset="0.8636" stop-color="#9f9f9f"/><stop offset="0.8864" stop-color="#9e9e9e"/><stop offset="1" stop-color="#9e9e9e"/></linearGradient><linearGradient id="hcg48" gradientUnits="userSpaceOnUse" x1="1534.5" y1="0" x2="2321.6" y2="0"><stop offset="0" stop-color="#9e9e9e"/><stop offset="0.1136" stop-color="#9e9e9e"/><stop offset="0.1364" stop-color="#9f9f9f"/><stop offset="0.1591" stop-color="#a0a0a0"/><stop offset="0.1818" stop-color="#a2a2a2"/><stop offset="0.2045" stop-color="#a4a4a4"/><stop offset="0.2273" stop-color="#a7a7a7"/><stop offset="0.25" stop-color="#a8a8a8"/><stop offset="0.2727" stop-color="#a6a6a6"/><stop offset="0.2955" stop-color="#a1a1a1"/><stop offset="0.3182" stop-color="#999999"/><stop offset="0.3409" stop-color="#929292"/><stop offset="0.3636" stop-color="#8d8d8d"/><stop offset="0.3864" stop-color="#8d8d8d"/><stop offset="0.4091" stop-color="#919191"/><stop offset="0.4318" stop-color="#969696"/><stop offset="0.4545" stop-color="#9a9a9a"/><stop offset="0.4773" stop-color="#9d9d9d"/><stop offset="0.5" stop-color="#9e9e9e"/><stop offset="0.5455" stop-color="#9e9e9e"/><stop offset="0.5682" stop-color="#9c9c9c"/><stop offset="0.5909" stop-color="#959595"/><stop offset="0.6136" stop-color="#858585"/><stop offset="0.6364" stop-color="#767676"/><stop offset="0.6591" stop-color="#787878"/><stop offset="0.6818" stop-color="#858585"/><stop offset="0.7045" stop-color="#949494"/><stop offset="0.7273" stop-color="#a0a0a0"/><stop offset="0.75" stop-color="#a6a6a6"/><stop offset="0.7727" stop-color="#a6a6a6"/><stop offset="0.7955" stop-color="#a3a3a3"/><stop offset="0.8182" stop-color="#a1a1a1"/><stop offset="0.8409" stop-color="#9f9f9f"/><stop offset="0.8636" stop-color="#9e9e9e"/><stop offset="1" stop-color="#9e9e9e"/></linearGradient><linearGradient id="hcg49" gradientUnits="userSpaceOnUse" x1="1534.5" y1="0" x2="2321.6" y2="0"><stop offset="0" stop-color="#9e9e9e"/><stop offset="0.1136" stop-color="#9e9e9e"/><stop offset="0.1364" stop-color="#9f9f9f"/><stop offset="0.1591" stop-color="#a0a0a0"/><stop offset="0.1818" stop-color="#a2a2a2"/><stop offset="0.2045" stop-color="#a4a4a4"/><stop offset="0.2273" stop-color="#a7a7a7"/><stop offset="0.25" stop-color="#a7a7a7"/><stop offset="0.2727" stop-color="#a4a4a4"/><stop offset="0.2955" stop-color="#9e9e9e"/><stop offset="0.3182" stop-color="#969696"/><stop offset="0.3409" stop-color="#8e8e8e"/><stop offset="0.3636" stop-color="#898989"/><stop offset="0.3864" stop-color="#8b8b8b"/><stop offset="0.4091" stop-color="#909090"/><stop offset="0.4318" stop-color="#969696"/><stop offset="0.4545" stop-color="#9a9a9a"/><stop offset="0.4773" stop-color="#9d9d9d"/><stop offset="0.5" stop-color="#9d9d9d"/><stop offset="0.5227" stop-color="#9e9e9e"/><stop offset="0.5455" stop-color="#9e9e9e"/><stop offset="0.5682" stop-color="#9c9c9c"/><stop offset="0.5909" stop-color="#959595"/><stop offset="0.6136" stop-color="#828282"/><stop offset="0.6364" stop-color="#6d6d6d"/><stop offset="0.6591" stop-color="#6d6d6d"/><stop offset="0.6818" stop-color="#7a7a7a"/><stop offset="0.7045" stop-color="#8d8d8d"/><stop offset="0.7273" stop-color="#9c9c9c"/><stop offset="0.75" stop-color="#a4a4a4"/><stop offset="0.7727" stop-color="#a5a5a5"/><stop offset="0.7955" stop-color="#a3a3a3"/><stop offset="0.8182" stop-color="#a1a1a1"/><stop offset="0.8409" stop-color="#9f9f9f"/><stop offset="0.8636" stop-color="#9e9e9e"/><stop offset="1" stop-color="#9e9e9e"/></linearGradient><linearGradient id="hcg50" gradientUnits="userSpaceOnUse" x1="1534.5" y1="0" x2="2321.6" y2="0"><stop offset="0" stop-color="#9d9d9d"/><stop offset="0.06818" stop-color="#9d9d9d"/><stop offset="0.09091" stop-color="#9e9e9e"/><stop offset="0.1136" stop-color="#9e9e9e"/><stop offset="0.1364" stop-color="#9f9f9f"/><stop offset="0.1591" stop-color="#a0a0a0"/><stop offset="0.1818" stop-color="#a2a2a2"/><stop offset="0.2045" stop-color="#a5a5a5"/><stop offset="0.2273" stop-color="#a6a6a6"/><stop offset="0.25" stop-color="#a5a5a5"/><stop offset="0.2727" stop-color="#a1a1a1"/><stop offset="0.2955" stop-color="#999999"/><stop offset="0.3182" stop-color="#909090"/><stop offset="0.3409" stop-color="#888888"/><stop offset="0.3636" stop-color="#858585"/><stop offset="0.3864" stop-color="#898989"/><stop offset="0.4091" stop-color="#909090"/><stop offset="0.4318" stop-color="#979797"/><stop offset="0.4545" stop-color="#9b9b9b"/><stop offset="0.4773" stop-color="#9d9d9d"/><stop offset="0.5682" stop-color="#9d9d9d"/><stop offset="0.5909" stop-color="#979797"/><stop offset="0.6136" stop-color="#878787"/><stop offset="0.6364" stop-color="#6e6e6e"/><stop offset="0.6591" stop-color="#676767"/><stop offset="0.6818" stop-color="#727272"/><stop offset="0.7045" stop-color="#858585"/><stop offset="0.7273" stop-color="#979797"/><stop offset="0.75" stop-color="#a1a1a1"/><stop offset="0.7727" stop-color="#a4a4a4"/><stop offset="0.7955" stop-color="#a3a3a3"/><stop offset="0.8182" stop-color="#a1a1a1"/><stop offset="0.8409" stop-color="#9f9f9f"/><stop offset="0.8636" stop-color="#9e9e9e"/><stop offset="0.8864" stop-color="#9e9e9e"/><stop offset="0.9091" stop-color="#9d9d9d"/><stop offset="1" stop-color="#9d9d9d"/></linearGradient><linearGradient id="hcg51" gradientUnits="userSpaceOnUse" x1="1534.5" y1="0" x2="2321.6" y2="0"><stop offset="0" stop-color="#9d9d9d"/><stop offset="0.09091" stop-color="#9d9d9d"/><stop offset="0.1136" stop-color="#9e9e9e"/><stop offset="0.1364" stop-color="#9f9f9f"/><stop offset="0.1591" stop-color="#a0a0a0"/><stop offset="0.1818" stop-color="#a3a3a3"/><stop offset="0.2045" stop-color="#a4a4a4"/><stop offset="0.2273" stop-color="#a5a5a5"/><stop offset="0.25" stop-color="#a2a2a2"/><stop offset="0.2727" stop-color="#9c9c9c"/><stop offset="0.2955" stop-color="#939393"/><stop offset="0.3182" stop-color="#898989"/><stop offset="0.3409" stop-color="#838383"/><stop offset="0.3636" stop-color="#838383"/><stop offset="0.3864" stop-color="#8a8a8a"/><stop offset="0.4091" stop-color="#929292"/><stop offset="0.4318" stop-color="#989898"/><stop offset="0.4545" stop-color="#9c9c9c"/><stop offset="0.4773" stop-color="#9d9d9d"/><stop offset="0.5682" stop-color="#9d9d9d"/><stop offset="0.5909" stop-color="#9a9a9a"/><stop offset="0.6136" stop-color="#8d8d8d"/><stop offset="0.6364" stop-color="#757575"/><stop offset="0.6591" stop-color="#656565"/><stop offset="0.6818" stop-color="#6b6b6b"/><stop offset="0.7045" stop-color="#7d7d7d"/><stop offset="0.7273" stop-color="#909090"/><stop offset="0.75" stop-color="#9e9e9e"/><stop offset="0.7727" stop-color="#a3a3a3"/><stop offset="0.7955" stop-color="#a3a3a3"/><stop offset="0.8182" stop-color="#a1a1a1"/><stop offset="0.8409" stop-color="#9f9f9f"/><stop offset="0.8636" stop-color="#9e9e9e"/><stop offset="0.8864" stop-color="#9d9d9d"/><stop offset="1" stop-color="#9d9d9d"/></linearGradient><linearGradient id="hcg52" gradientUnits="userSpaceOnUse" x1="1534.5" y1="0" x2="2321.6" y2="0"><stop offset="0" stop-color="#9d9d9d"/><stop offset="0.09091" stop-color="#9d9d9d"/><stop offset="0.1136" stop-color="#9e9e9e"/><stop offset="0.1364" stop-color="#9f9f9f"/><stop offset="0.1591" stop-color="#a1a1a1"/><stop offset="0.1818" stop-color="#a3a3a3"/><stop offset="0.2045" stop-color="#a4a4a4"/><stop offset="0.2273" stop-color="#a3a3a3"/><stop offset="0.25" stop-color="#9e9e9e"/><stop offset="0.2727" stop-color="#979797"/><stop offset="0.2955" stop-color="#8d8d8d"/><stop offset="0.3182" stop-color="#848484"/><stop offset="0.3409" stop-color="#818181"/><stop offset="0.3636" stop-color="#858585"/><stop offset="0.3864" stop-color="#8d8d8d"/><stop offset="0.4091" stop-color="#959595"/><stop offset="0.4318" stop-color="#9a9a9a"/><stop offset="0.4545" stop-color="#9c9c9c"/><stop offset="0.4773" stop-color="#9d9d9d"/><stop offset="0.5682" stop-color="#9d9d9d"/><stop offset="0.5909" stop-color="#9b9b9b"/><stop offset="0.6136" stop-color="#939393"/><stop offset="0.6364" stop-color="#7d7d7d"/><stop offset="0.6591" stop-color="#656565"/><stop offset="0.6818" stop-color="#646464"/><stop offset="0.7045" stop-color="#737373"/><stop offset="0.7273" stop-color="#888888"/><stop offset="0.75" stop-color="#989898"/><stop offset="0.7727" stop-color="#a1a1a1"/><stop offset="0.7955" stop-color="#a3a3a3"/><stop offset="0.8182" stop-color="#a2a2a2"/><stop offset="0.8409" stop-color="#a0a0a0"/><stop offset="0.8636" stop-color="#9e9e9e"/><stop offset="0.8864" stop-color="#9d9d9d"/><stop offset="1" stop-color="#9d9d9d"/></linearGradient><linearGradient id="hcg53" gradientUnits="userSpaceOnUse" x1="1534.5" y1="0" x2="2321.6" y2="0"><stop offset="0" stop-color="#9d9d9d"/><stop offset="0.09091" stop-color="#9d9d9d"/><stop offset="0.1136" stop-color="#9e9e9e"/><stop offset="0.1364" stop-color="#9f9f9f"/><stop offset="0.1591" stop-color="#a1a1a1"/><stop offset="0.1818" stop-color="#a2a2a2"/><stop offset="0.2045" stop-color="#a2a2a2"/><stop offset="0.2273" stop-color="#a0a0a0"/><stop offset="0.25" stop-color="#9a9a9a"/><stop offset="0.2727" stop-color="#919191"/><stop offset="0.2955" stop-color="#868686"/><stop offset="0.3182" stop-color="#808080"/><stop offset="0.3409" stop-color="#808080"/><stop offset="0.3636" stop-color="#878787"/><stop offset="0.3864" stop-color="#909090"/><stop offset="0.4091" stop-color="#979797"/><stop offset="0.4318" stop-color="#9b9b9b"/><stop offset="0.4545" stop-color="#9c9c9c"/><stop offset="0.4773" stop-color="#9d9d9d"/><stop offset="0.5682" stop-color="#9d9d9d"/><stop offset="0.5909" stop-color="#9c9c9c"/><stop offset="0.6136" stop-color="#979797"/><stop offset="0.6364" stop-color="#858585"/><stop offset="0.6591" stop-color="#696969"/><stop offset="0.6818" stop-color="#5e5e5e"/><stop offset="0.7045" stop-color="#6a6a6a"/><stop offset="0.7273" stop-color="#7e7e7e"/><stop offset="0.75" stop-color="#929292"/><stop offset="0.7727" stop-color="#9e9e9e"/><stop offset="0.7955" stop-color="#a2a2a2"/><stop offset="0.8182" stop-color="#a2a2a2"/><stop offset="0.8409" stop-color="#a0a0a0"/><stop offset="0.8636" stop-color="#9e9e9e"/><stop offset="0.8864" stop-color="#9d9d9d"/><stop offset="1" stop-color="#9d9d9d"/></linearGradient><linearGradient id="hcg54" gradientUnits="userSpaceOnUse" x1="1534.5" y1="0" x2="2321.6" y2="0"><stop offset="0" stop-color="#9d9d9d"/><stop offset="0.09091" stop-color="#9d9d9d"/><stop offset="0.1136" stop-color="#9e9e9e"/><stop offset="0.1364" stop-color="#9f9f9f"/><stop offset="0.1591" stop-color="#a1a1a1"/><stop offset="0.1818" stop-color="#a2a2a2"/><stop offset="0.2045" stop-color="#a1a1a1"/><stop offset="0.2273" stop-color="#9d9d9d"/><stop offset="0.25" stop-color="#969696"/><stop offset="0.2727" stop-color="#8b8b8b"/><stop offset="0.2955" stop-color="#808080"/><stop offset="0.3182" stop-color="#7c7c7c"/><stop offset="0.3409" stop-color="#808080"/><stop offset="0.3636" stop-color="#898989"/><stop offset="0.3864" stop-color="#929292"/><stop offset="0.4091" stop-color="#999999"/><stop offset="0.4318" stop-color="#9b9b9b"/><stop offset="0.4545" stop-color="#9d9d9d"/><stop offset="0.5682" stop-color="#9d9d9d"/><stop offset="0.5909" stop-color="#9c9c9c"/><stop offset="0.6136" stop-color="#999999"/><stop offset="0.6364" stop-color="#8a8a8a"/><stop offset="0.6591" stop-color="#6e6e6e"/><stop offset="0.6818" stop-color="#5b5b5b"/><stop offset="0.7045" stop-color="#626262"/><stop offset="0.7273" stop-color="#767676"/><stop offset="0.75" stop-color="#8c8c8c"/><stop offset="0.7727" stop-color="#9b9b9b"/><stop offset="0.7955" stop-color="#a1a1a1"/><stop offset="0.8182" stop-color="#a2a2a2"/><stop offset="0.8409" stop-color="#a0a0a0"/><stop offset="0.8636" stop-color="#9f9f9f"/><stop offset="0.8864" stop-color="#9d9d9d"/><stop offset="1" stop-color="#9d9d9d"/></linearGradient><linearGradient id="hcg55" gradientUnits="userSpaceOnUse" x1="1534.5" y1="0" x2="2321.6" y2="0"><stop offset="0" stop-color="#9d9d9d"/><stop offset="0.09091" stop-color="#9d9d9d"/><stop offset="0.1136" stop-color="#9e9e9e"/><stop offset="0.1364" stop-color="#a0a0a0"/><stop offset="0.1591" stop-color="#a1a1a1"/><stop offset="0.1818" stop-color="#a1a1a1"/><stop offset="0.2045" stop-color="#a0a0a0"/><stop offset="0.2273" stop-color="#9b9b9b"/><stop offset="0.25" stop-color="#929292"/><stop offset="0.2727" stop-color="#878787"/><stop offset="0.2955" stop-color="#7d7d7d"/><stop offset="0.3182" stop-color="#7a7a7a"/><stop offset="0.3409" stop-color="#7f7f7f"/><stop offset="0.3636" stop-color="#8a8a8a"/><stop offset="0.3864" stop-color="#939393"/><stop offset="0.4091" stop-color="#999999"/><stop offset="0.4318" stop-color="#9c9c9c"/><stop offset="0.4545" stop-color="#9d9d9d"/><stop offset="0.5682" stop-color="#9d9d9d"/><stop offset="0.5909" stop-color="#9c9c9c"/><stop offset="0.6136" stop-color="#9a9a9a"/><stop offset="0.6364" stop-color="#8d8d8d"/><stop offset="0.6591" stop-color="#727272"/><stop offset="0.6818" stop-color="#5a5a5a"/><stop offset="0.7045" stop-color="#5e5e5e"/><stop offset="0.7273" stop-color="#717171"/><stop offset="0.75" stop-color="#888888"/><stop offset="0.7727" stop-color="#989898"/><stop offset="0.7955" stop-color="#a0a0a0"/><stop offset="0.8182" stop-color="#a2a2a2"/><stop offset="0.8409" stop-color="#a0a0a0"/><stop offset="0.8636" stop-color="#9f9f9f"/><stop offset="0.8864" stop-color="#9e9e9e"/><stop offset="0.9091" stop-color="#9d9d9d"/><stop offset="1" stop-color="#9d9d9d"/></linearGradient></defs>
<g filter="url(#hcblur)"><rect x="1494.5" y="1243.7" width="867.1" height="83.8" fill="url(#hcg0)"/><rect x="1494.5" y="1326.3" width="867.1" height="23.8" fill="url(#hcg1)"/><rect x="1494.5" y="1348.8" width="867.1" height="23.8" fill="url(#hcg2)"/><rect x="1494.5" y="1371.4" width="867.1" height="23.8" fill="url(#hcg3)"/><rect x="1494.5" y="1393.9" width="867.1" height="23.8" fill="url(#hcg4)"/><rect x="1494.5" y="1416.5" width="867.1" height="23.8" fill="url(#hcg5)"/><rect x="1494.5" y="1439.0" width="867.1" height="23.8" fill="url(#hcg6)"/><rect x="1494.5" y="1461.6" width="867.1" height="23.8" fill="url(#hcg7)"/><rect x="1494.5" y="1484.1" width="867.1" height="23.8" fill="url(#hcg8)"/><rect x="1494.5" y="1506.7" width="867.1" height="23.8" fill="url(#hcg9)"/><rect x="1494.5" y="1529.2" width="867.1" height="23.8" fill="url(#hcg10)"/><rect x="1494.5" y="1551.8" width="867.1" height="23.8" fill="url(#hcg11)"/><rect x="1494.5" y="1574.3" width="867.1" height="23.8" fill="url(#hcg12)"/><rect x="1494.5" y="1596.9" width="867.1" height="23.8" fill="url(#hcg13)"/><rect x="1494.5" y="1619.5" width="867.1" height="23.8" fill="url(#hcg14)"/><rect x="1494.5" y="1642.0" width="867.1" height="23.8" fill="url(#hcg15)"/><rect x="1494.5" y="1664.6" width="867.1" height="23.8" fill="url(#hcg16)"/><rect x="1494.5" y="1687.1" width="867.1" height="23.8" fill="url(#hcg17)"/><rect x="1494.5" y="1709.7" width="867.1" height="23.8" fill="url(#hcg18)"/><rect x="1494.5" y="1732.2" width="867.1" height="23.8" fill="url(#hcg19)"/><rect x="1494.5" y="1754.8" width="867.1" height="23.8" fill="url(#hcg20)"/><rect x="1494.5" y="1777.3" width="867.1" height="23.8" fill="url(#hcg21)"/><rect x="1494.5" y="1799.9" width="867.1" height="23.8" fill="url(#hcg22)"/><rect x="1494.5" y="1822.4" width="867.1" height="23.8" fill="url(#hcg23)"/><rect x="1494.5" y="1845.0" width="867.1" height="23.8" fill="url(#hcg24)"/><rect x="1494.5" y="1867.5" width="867.1" height="23.8" fill="url(#hcg25)"/><rect x="1494.5" y="1890.1" width="867.1" height="23.8" fill="url(#hcg26)"/><rect x="1494.5" y="1912.6" width="867.1" height="23.8" fill="url(#hcg27)"/><rect x="1494.5" y="1935.2" width="867.1" height="23.8" fill="url(#hcg28)"/><rect x="1494.5" y="1957.8" width="867.1" height="23.8" fill="url(#hcg29)"/><rect x="1494.5" y="1980.3" width="867.1" height="23.8" fill="url(#hcg30)"/><rect x="1494.5" y="2002.9" width="867.1" height="23.8" fill="url(#hcg31)"/><rect x="1494.5" y="2025.4" width="867.1" height="23.8" fill="url(#hcg32)"/><rect x="1494.5" y="2048.0" width="867.1" height="23.8" fill="url(#hcg33)"/><rect x="1494.5" y="2070.5" width="867.1" height="23.8" fill="url(#hcg34)"/><rect x="1494.5" y="2093.1" width="867.1" height="23.8" fill="url(#hcg35)"/><rect x="1494.5" y="2115.6" width="867.1" height="23.8" fill="url(#hcg36)"/><rect x="1494.5" y="2138.2" width="867.1" height="23.8" fill="url(#hcg37)"/><rect x="1494.5" y="2160.7" width="867.1" height="23.8" fill="url(#hcg38)"/><rect x="1494.5" y="2183.3" width="867.1" height="23.8" fill="url(#hcg39)"/><rect x="1494.5" y="2205.8" width="867.1" height="23.8" fill="url(#hcg40)"/><rect x="1494.5" y="2228.4" width="867.1" height="23.8" fill="url(#hcg41)"/><rect x="1494.5" y="2251.0" width="867.1" height="23.8" fill="url(#hcg42)"/><rect x="1494.5" y="2273.5" width="867.1" height="23.8" fill="url(#hcg43)"/><rect x="1494.5" y="2296.1" width="867.1" height="23.8" fill="url(#hcg44)"/><rect x="1494.5" y="2318.6" width="867.1" height="23.8" fill="url(#hcg45)"/><rect x="1494.5" y="2341.2" width="867.1" height="23.8" fill="url(#hcg46)"/><rect x="1494.5" y="2363.7" width="867.1" height="23.8" fill="url(#hcg47)"/><rect x="1494.5" y="2386.3" width="867.1" height="23.8" fill="url(#hcg48)"/><rect x="1494.5" y="2408.8" width="867.1" height="23.8" fill="url(#hcg49)"/><rect x="1494.5" y="2431.4" width="867.1" height="23.8" fill="url(#hcg50)"/><rect x="1494.5" y="2453.9" width="867.1" height="23.8" fill="url(#hcg51)"/><rect x="1494.5" y="2476.5" width="867.1" height="23.8" fill="url(#hcg52)"/><rect x="1494.5" y="2499.0" width="867.1" height="23.8" fill="url(#hcg53)"/><rect x="1494.5" y="2521.6" width="867.1" height="23.8" fill="url(#hcg54)"/><rect x="1494.5" y="2544.1" width="867.1" height="83.8" fill="url(#hcg55)"/></g>
<rect x="1534.5" y="2557.3" width="787.0999999999999" height="10" fill="url(#fadeC)"/>
</g>
<g filter="url(#softer)">
<line x1="1536.5" y1="1478.0" x2="2319.6" y2="1478.0" stroke="#98a4dc" stroke-width="7.0" stroke-opacity="0.5"/>
<line x1="1536.5" y1="1491.0" x2="2319.6" y2="1491.0" stroke="#9aa0c4" stroke-width="4.0" stroke-opacity="0.35"/>
<line x1="1536.5" y1="1485.4" x2="2319.6" y2="1485.4" stroke="#4a5ea4" stroke-width="5.6" />
<line x1="1927.0" y1="1492.0" x2="1927.0" y2="2563.3" stroke="#96a4de" stroke-width="7.0" stroke-opacity="0.6"/>
<line x1="1935.3" y1="1492.0" x2="1935.3" y2="2563.3" stroke="#a6b0d4" stroke-width="3.0" stroke-opacity="0.5"/>
<line x1="1931.6" y1="1304.3" x2="1931.6" y2="2563.3" stroke="#3a4f9c" stroke-width="3.8" />
</g>
<g filter="url(#soft)">
<line x1="1527.0" y1="1297.5" x2="1527.0" y2="2570.4" stroke="#181818" stroke-width="4.6" />
<line x1="2327.8" y1="1297.5" x2="2327.8" y2="2570.4" stroke="#181818" stroke-width="4.6" />
<line x1="1520.0" y1="1297.5" x2="2334.8" y2="1297.5" stroke="#141414" stroke-width="4.8" />
<line x1="1527.0" y1="2570.4" x2="2334.8" y2="2570.4" stroke="#141414" stroke-width="4.8" />
<line x1="1535.1" y1="2570.4" x2="1535.1" y2="2592.9" stroke="#222222" stroke-width="4.0" />
<line x1="1613.9" y1="2570.4" x2="1613.9" y2="2580.9" stroke="#222222" stroke-width="4.0" />
<line x1="1692.8" y1="2570.4" x2="1692.8" y2="2580.9" stroke="#222222" stroke-width="4.0" />
<line x1="1771.6" y1="2570.4" x2="1771.6" y2="2580.9" stroke="#222222" stroke-width="4.0" />
<line x1="1850.4" y1="2570.4" x2="1850.4" y2="2580.9" stroke="#222222" stroke-width="4.0" />
<line x1="1929.2" y1="2570.4" x2="1929.2" y2="2592.9" stroke="#222222" stroke-width="4.0" />
<line x1="2008.1" y1="2570.4" x2="2008.1" y2="2580.9" stroke="#222222" stroke-width="4.0" />
<line x1="2086.9" y1="2570.4" x2="2086.9" y2="2580.9" stroke="#222222" stroke-width="4.0" />
<line x1="2165.7" y1="2570.4" x2="2165.7" y2="2580.9" stroke="#222222" stroke-width="4.0" />
<line x1="2244.6" y1="2570.4" x2="2244.6" y2="2580.9" stroke="#222222" stroke-width="4.0" />
<line x1="2323.4" y1="2570.4" x2="2323.4" y2="2592.9" stroke="#222222" stroke-width="4.0" />
<line x1="1503.0" y1="2567.0" x2="1527.0" y2="2567.0" stroke="#3c3c3c" stroke-width="3.8" />
<line x1="1516.5" y1="2530.9" x2="1527.0" y2="2530.9" stroke="#2a2a2a" stroke-width="3.8" />
<line x1="1516.5" y1="2494.9" x2="1527.0" y2="2494.9" stroke="#2a2a2a" stroke-width="3.8" />
<line x1="1516.5" y1="2458.8" x2="1527.0" y2="2458.8" stroke="#2a2a2a" stroke-width="3.8" />
<line x1="1516.5" y1="2422.8" x2="1527.0" y2="2422.8" stroke="#2a2a2a" stroke-width="3.8" />
<line x1="1512.0" y1="2386.8" x2="1527.0" y2="2386.8" stroke="#2a2a2a" stroke-width="3.8" />
<line x1="1516.5" y1="2350.7" x2="1527.0" y2="2350.7" stroke="#2a2a2a" stroke-width="3.8" />
<line x1="1516.5" y1="2314.7" x2="1527.0" y2="2314.7" stroke="#2a2a2a" stroke-width="3.8" />
<line x1="1516.5" y1="2278.6" x2="1527.0" y2="2278.6" stroke="#2a2a2a" stroke-width="3.8" />
<line x1="1516.5" y1="2242.6" x2="1527.0" y2="2242.6" stroke="#2a2a2a" stroke-width="3.8" />
<line x1="1503.0" y1="2206.5" x2="1527.0" y2="2206.5" stroke="#3c3c3c" stroke-width="3.8" />
<line x1="1516.5" y1="2170.5" x2="1527.0" y2="2170.5" stroke="#2a2a2a" stroke-width="3.8" />
<line x1="1516.5" y1="2134.4" x2="1527.0" y2="2134.4" stroke="#2a2a2a" stroke-width="3.8" />
<line x1="1516.5" y1="2098.4" x2="1527.0" y2="2098.4" stroke="#2a2a2a" stroke-width="3.8" />
<line x1="1516.5" y1="2062.3" x2="1527.0" y2="2062.3" stroke="#2a2a2a" stroke-width="3.8" />
<line x1="1512.0" y1="2026.3" x2="1527.0" y2="2026.3" stroke="#2a2a2a" stroke-width="3.8" />
<line x1="1516.5" y1="1990.2" x2="1527.0" y2="1990.2" stroke="#2a2a2a" stroke-width="3.8" />
<line x1="1516.5" y1="1954.2" x2="1527.0" y2="1954.2" stroke="#2a2a2a" stroke-width="3.8" />
<line x1="1516.5" y1="1918.2" x2="1527.0" y2="1918.2" stroke="#2a2a2a" stroke-width="3.8" />
<line x1="1516.5" y1="1882.1" x2="1527.0" y2="1882.1" stroke="#2a2a2a" stroke-width="3.8" />
<line x1="1503.0" y1="1846.1" x2="1527.0" y2="1846.1" stroke="#3c3c3c" stroke-width="3.8" />
<line x1="1516.5" y1="1810.0" x2="1527.0" y2="1810.0" stroke="#2a2a2a" stroke-width="3.8" />
<line x1="1516.5" y1="1774.0" x2="1527.0" y2="1774.0" stroke="#2a2a2a" stroke-width="3.8" />
<line x1="1516.5" y1="1737.9" x2="1527.0" y2="1737.9" stroke="#2a2a2a" stroke-width="3.8" />
<line x1="1516.5" y1="1701.9" x2="1527.0" y2="1701.9" stroke="#2a2a2a" stroke-width="3.8" />
<line x1="1512.0" y1="1665.8" x2="1527.0" y2="1665.8" stroke="#2a2a2a" stroke-width="3.8" />
<line x1="1516.5" y1="1629.8" x2="1527.0" y2="1629.8" stroke="#2a2a2a" stroke-width="3.8" />
<line x1="1516.5" y1="1593.7" x2="1527.0" y2="1593.7" stroke="#2a2a2a" stroke-width="3.8" />
<line x1="1516.5" y1="1557.7" x2="1527.0" y2="1557.7" stroke="#2a2a2a" stroke-width="3.8" />
<line x1="1516.5" y1="1521.6" x2="1527.0" y2="1521.6" stroke="#2a2a2a" stroke-width="3.8" />
<line x1="1503.0" y1="1485.6" x2="1527.0" y2="1485.6" stroke="#3c3c3c" stroke-width="3.8" />
<line x1="1516.5" y1="1449.6" x2="1527.0" y2="1449.6" stroke="#2a2a2a" stroke-width="3.8" />
<line x1="1516.5" y1="1413.5" x2="1527.0" y2="1413.5" stroke="#2a2a2a" stroke-width="3.8" />
<line x1="1516.5" y1="1377.5" x2="1527.0" y2="1377.5" stroke="#2a2a2a" stroke-width="3.8" />
<line x1="1516.5" y1="1341.4" x2="1527.0" y2="1341.4" stroke="#2a2a2a" stroke-width="3.8" />
<line x1="1512.0" y1="1305.4" x2="1527.0" y2="1305.4" stroke="#2a2a2a" stroke-width="3.8" />
</g>
<g filter="url(#soft)" stroke-width="0.9" stroke-linejoin="round">
<text x="1552.0" y="1420.5" font-family='"Liberation Sans", Arial, Helvetica, sans-serif' font-size="100" font-weight="bold" text-anchor="start" fill="#161616" stroke="#161616" stroke-width="0.5" >(c)</text>
<text x="1965.0" y="1415.5" font-family='"Liberation Sans", Arial, Helvetica, sans-serif' font-size="66.5" font-weight="bold" text-anchor="start" fill="#5474d2" stroke="#5474d2" stroke-width="0.4" >Dirac cone</text>
<path d="M2165,1441.5 L2082,1558" stroke="#6a7cc6" stroke-width="3.2" fill="none"/>
<path d="M2048,1603.5 L2059.5,1567 L2084,1556 L2079.5,1582.5 Z" fill="#4c74ea" stroke="none"/>
<text x="1492.5" y="1511.1" font-family='"Liberation Sans", Arial, Helvetica, sans-serif' font-size="74" font-weight="normal" text-anchor="end" fill="#161616" stroke="#161616" >0.0</text>
<text x="1492.5" y="1871.6" font-family='"Liberation Sans", Arial, Helvetica, sans-serif' font-size="74" font-weight="normal" text-anchor="end" fill="#161616" stroke="#161616" >-0.2</text>
<text x="1492.5" y="2232.0" font-family='"Liberation Sans", Arial, Helvetica, sans-serif' font-size="74" font-weight="normal" text-anchor="end" fill="#161616" stroke="#161616" >-0.4</text>
<text x="1492.5" y="2592.5" font-family='"Liberation Sans", Arial, Helvetica, sans-serif' font-size="74" font-weight="normal" text-anchor="end" fill="#161616" stroke="#161616" >-0.6</text>
<text x="1533.6" y="2670.0" font-family='"Liberation Sans", Arial, Helvetica, sans-serif' font-size="74" font-weight="normal" text-anchor="middle" fill="#161616" stroke="#161616" >-0.5</text>
<text x="1926.8" y="2670.0" font-family='"Liberation Sans", Arial, Helvetica, sans-serif' font-size="74" font-weight="normal" text-anchor="middle" fill="#161616" stroke="#161616" >0.0</text>
<text x="2323.4" y="2670.0" font-family='"Liberation Sans", Arial, Helvetica, sans-serif' font-size="74" font-weight="normal" text-anchor="middle" fill="#161616" stroke="#161616" >0.5</text>
<text y="2805" font-family='"Liberation Sans", Arial, Helvetica, sans-serif' font-size="75" fill="#161616" stroke="#161616"><tspan x="1802">k</tspan><tspan x="1840" dy="19" font-size="49" font-style="italic">// </tspan><tspan x="1895" dy="-19">(</tspan><tspan x="1919" font-size="79">Å</tspan><tspan x="1975" dy="-50" font-size="48">-1</tspan><tspan x="2022" dy="50">)</tspan></text>
<text transform="translate(1282.5,1928) rotate(-90)" font-family='"Liberation Sans", Arial, Helvetica, sans-serif' font-size="98.5" text-anchor="middle" fill="#161616" stroke="#161616">E-E<tspan font-size="52" dy="28">F</tspan><tspan dy="-28"> (eV)</tspan></text>
<text x="1433.0" y="1272.5" font-family='"Liberation Sans", Arial, Helvetica, sans-serif' font-size="98" font-weight="normal" text-anchor="start" fill="#161616" stroke="#161616" >K</text>
<text x="2360.0" y="1272.5" font-family='"Liberation Sans", Arial, Helvetica, sans-serif' font-size="98" font-weight="normal" text-anchor="start" fill="#161616" stroke="#161616" >K</text>
<text x="1908.0" y="1258.0" font-family='"Liberation Serif", "Times New Roman", serif' font-size="102" font-weight="normal" text-anchor="start" fill="#161616" stroke="#161616" >Γ</text>
<line x1="1610.0" y1="1235.0" x2="1795.0" y2="1235.0" stroke="#1c1c1c" stroke-width="4.8" />
<path d="M1570,1235 L1604,1226.5 L1625,1223.5 L1620,1235 L1625,1246.5 L1604,1243.5 Z" fill="#1c1c1c" stroke="none"/>
<line x1="2260.0" y1="1235.0" x2="2072.0" y2="1235.0" stroke="#1c1c1c" stroke-width="4.8" />
<path d="M2300,1235 L2266,1226.5 L2245,1223.5 L2250,1235 L2245,1246.5 L2266,1243.5 Z" fill="#1c1c1c" stroke="none"/>
</g>
</g>
</svg>
</body></html>
